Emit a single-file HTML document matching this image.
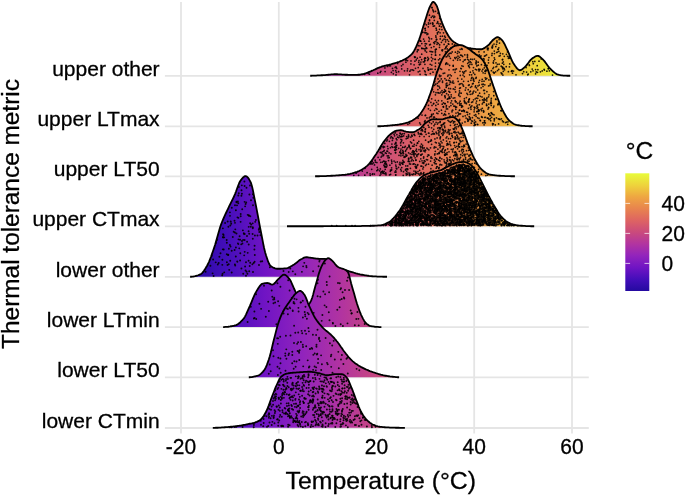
<!DOCTYPE html>
<html lang="en"><head><meta charset="utf-8"><title>Thermal tolerance ridgeline</title>
<style>html,body{margin:0;padding:0;background:#fff}svg{display:block}text{font-family:"Liberation Sans",Arial,Helvetica,sans-serif;fill:#000;stroke:#000;stroke-width:.3px}</style></head><body>
<svg width="685" height="495" viewBox="0 0 685 495">
<rect width="685" height="495" fill="#fff"/>
<defs>
<linearGradient id="g" gradientUnits="userSpaceOnUse" x1="188.3" y1="0" x2="571.5" y2="0"><stop offset="0%" stop-color="#240AA0"/><stop offset="10%" stop-color="#440EBA"/><stop offset="20%" stop-color="#7014C4"/><stop offset="30%" stop-color="#9224BC"/><stop offset="40%" stop-color="#B234A0"/><stop offset="50%" stop-color="#CA4A7C"/><stop offset="60%" stop-color="#DE6462"/><stop offset="70%" stop-color="#E8844E"/><stop offset="80%" stop-color="#EEA642"/><stop offset="90%" stop-color="#EED43C"/><stop offset="100%" stop-color="#E8FC3A"/></linearGradient>
<linearGradient id="cb" x1="0" y1="1" x2="0" y2="0"><stop offset="0%" stop-color="#240AA0"/><stop offset="10%" stop-color="#440EBA"/><stop offset="20%" stop-color="#7014C4"/><stop offset="30%" stop-color="#9224BC"/><stop offset="40%" stop-color="#B234A0"/><stop offset="50%" stop-color="#CA4A7C"/><stop offset="60%" stop-color="#DE6462"/><stop offset="70%" stop-color="#E8844E"/><stop offset="80%" stop-color="#EEA642"/><stop offset="90%" stop-color="#EED43C"/><stop offset="100%" stop-color="#E8FC3A"/></linearGradient>
</defs>
<path d="M181 2.0V433.4M278.8 2.0V433.4M376.5 2.0V433.4M474.2 2.0V433.4M572 2.0V433.4M164.9 75.8H588.8M164.9 126.3H588.8M164.9 176.3H588.8M164.9 226.3H588.8M164.9 276.9H588.8M164.9 327.2H588.8M164.9 377.4H588.8M164.9 428H588.8" stroke="#e5e5e5" stroke-width="1.8" fill="none"/>
<g transform="translate(0 .25)"><path d="M310.2 75.5L311.2 75.5L312.2 75.4L313.2 75.4L314.2 75.4L315.2 75.3L316.2 75.3L317.2 75.2L318.2 75.2L319.2 75.1L320.2 75.1L321.2 75L322.2 75L323.2 74.9L324.2 74.8L325.2 74.8L326.2 74.7L327.2 74.6L328.2 74.5L329.2 74.4L330.2 74.3L331.2 74.2L332.2 74.1L333.2 74.1L334.2 74L335.2 74L336.2 74L337.2 74L338.2 74.1L339.2 74.1L340.2 74.2L341.2 74.2L342.2 74.3L343.2 74.4L344.2 74.4L345.2 74.5L346.2 74.5L347.2 74.5L348.2 74.6L349.2 74.6L350.2 74.6L351.2 74.7L352.2 74.7L353.2 74.7L354.2 74.7L355.2 74.7L356.2 74.7L357.2 74.6L358.2 74.5L359.2 74.5L360.2 74.4L361.2 74.2L362.2 74L363.2 73.8L364.2 73.5L365.2 73.2L366.2 72.9L367.2 72.5L368.2 72.1L369.2 71.7L370.2 71.3L371.2 70.9L372.2 70.4L373.2 70L374.2 69.5L375.2 69.1L376.2 68.6L377.2 68.1L378.2 67.7L379.2 67.3L380.2 66.9L381.2 66.6L382.2 66.2L383.2 66L384.2 65.7L385.2 65.5L386.2 65.2L387.2 65L388.2 64.8L389.2 64.5L390.2 64.3L391.2 64L392.2 63.7L393.2 63.4L394.2 63.1L395.2 62.8L396.2 62.5L397.2 62.2L398.2 61.8L399.2 61.5L400.2 61.1L401.2 60.7L402.2 60.3L403.2 59.8L404.2 59.3L405.2 58.8L406.2 58.2L407.2 57.6L408.2 56.9L409.2 56.1L410.2 55.3L411.2 54.4L412.2 53.3L413.2 52.1L414.2 50.4L415.2 48.5L416.2 46.4L417.2 44L418.2 41.6L419.2 39.1L420.2 36.2L421.2 33.1L422.2 29.8L423.2 26.4L424.2 23.2L425.2 20.1L426.2 17L427.2 13.8L428.2 10.7L429.2 8L430.2 5.9L431.2 3.9L432.2 2.3L433.2 1.6L434.2 2.1L435.2 3.2L436.2 4.7L437.2 6.7L438.2 9.8L439.2 13.5L440.2 17.2L441.2 20.1L442.2 22.8L443.2 25.3L444.2 27.7L445.2 29.8L446.2 31.7L447.2 33.5L448.2 35.3L449.2 36.8L450.2 38.2L451.2 39.4L452.2 40.4L453.2 41.2L454.2 42L455.2 42.6L456.2 43.3L457.2 43.8L458.2 44.3L459.2 44.8L460.2 45.2L461.2 45.7L462.2 46.1L463.2 46.5L464.2 46.8L465.2 47.1L466.2 47.3L467.2 47.5L468.2 47.7L469.2 47.8L470.2 48L471.2 48.2L472.2 48.3L473.2 48.5L474.2 48.6L475.2 48.7L476.2 48.8L477.2 48.9L478.2 48.9L479.2 49L480.2 49L481.2 49L482.2 48.8L483.2 48.4L484.2 47.9L485.2 47.2L486.2 46.6L487.2 45.8L488.2 45.1L489.2 44.1L490.2 42.9L491.2 41.7L492.2 40.5L493.2 39.5L494.2 38.7L495.2 37.9L496.2 37.3L497.2 36.9L498.2 37L499.2 37.5L500.2 38.2L501.2 39.1L502.2 40.1L503.2 41.5L504.2 43.2L505.2 45.2L506.2 47.3L507.2 49.4L508.2 51.5L509.2 53.8L510.2 56.3L511.2 58.7L512.2 60.9L513.2 62.7L514.2 64.2L515.2 65.7L516.2 67.1L517.2 68.3L518.2 69.2L519.2 69.8L520.2 70L521.2 69.7L522.2 69.1L523.2 68.2L524.2 67.3L525.2 66.4L526.2 65.4L527.2 64.1L528.2 62.8L529.2 61.4L530.2 60.2L531.2 59.1L532.2 58.3L533.2 57.5L534.2 56.9L535.2 56.3L536.2 55.8L537.2 55.6L538.2 55.7L539.2 56.1L540.2 56.8L541.2 57.7L542.2 58.6L543.2 59.5L544.2 60.6L545.2 61.9L546.2 63.3L547.2 64.7L548.2 66.1L549.2 67.3L550.2 68.3L551.2 69.3L552.2 70.3L553.2 71.3L554.2 72.1L555.2 72.9L556.2 73.6L557.2 74.1L558.2 74.4L559.2 74.7L560.2 74.9L561.2 75.1L562.2 75.2L563.2 75.3L564.2 75.4L565.2 75.4L566.2 75.4L567.2 75.5L568.2 75.5L569.2 75.5L570.2 75.5L570.2 75.5L310.2 75.5Z" fill="url(#g)"/>
<path d="M462 52.1h0M425.2 28h0M368 73h0M442.3 50.5h0M428.5 58.4h0M451.1 48.7h0M460.1 70.2h0M422.7 32h0M395.9 66.5h0M513.5 70.8h0M445.1 62.9h0M425.2 57.8h0M435.3 59h0M421.9 48.3h0M445.3 37.2h0M482.9 70.8h0M445.1 60.5h0M457.2 61.5h0M432.7 51.5h0M435.8 41h0M457.6 59.7h0M421.8 43.3h0M436.4 29.9h0M427 34.2h0M503.3 71.1h0M498.8 51.2h0M453.5 70.8h0M516 74.6h0M502.4 59.6h0M435.4 51.2h0M395.2 67.2h0M450.7 49.5h0M387.5 66.2h0M419 60.3h0M438.5 59.6h0M434.3 20.2h0M434.5 43.3h0M507.5 51.7h0M369.4 73.9h0M420.1 40.4h0M380.2 72.2h0M445.6 41.6h0M425.2 74h0M434.5 25.7h0M434 15.8h0M439.8 58.4h0M447.8 73.1h0M454.6 70.1h0M438.5 31.6h0M438.9 62.8h0M428.3 59.1h0M478.5 62.5h0M433.7 42.3h0M401.7 68.7h0M497.4 64.1h0M442.4 35.9h0M431.6 38.5h0M462.6 64.7h0M406 59.7h0M494.8 59h0M509.3 56.1h0M447.2 48.7h0M390.5 65.6h0M430.2 68.9h0M395.7 70.4h0M471 51.8h0M527.7 74.6h0M467.4 49.8h0M453 68.3h0M535.6 73.5h0M435.3 49.4h0M462.4 65.9h0M500.4 53.2h0M488.3 48h0M453.8 47.3h0M414.9 60.9h0M496 62.6h0M479.3 66.4h0M425.3 50.6h0M427.8 57h0M435.5 11.1h0M467.4 59.4h0M419.3 64.3h0M435.6 54.9h0M426.5 24.5h0M441.9 49.9h0M454.6 44.7h0M487.4 48.5h0M419.8 70.8h0M429.5 20.4h0M460.7 47.4h0M504 68.3h0M415.1 56.9h0M496.9 40.7h0M405.9 61.9h0M424.8 57.7h0M485.1 65.5h0M425.1 50.4h0M479.8 56.4h0M499.1 55.8h0M464.6 71.9h0M484.1 73.9h0M435.4 66.2h0M498 49h0M449.9 73.1h0M497 41.8h0M420.8 40.9h0M420.9 61.8h0M512.1 70.4h0M544.1 69.1h0M453.5 63.4h0M425.2 43.4h0M488 49.5h0M396.2 66.9h0M478.9 62.6h0M548.3 68.3h0M428.3 69.4h0M418.3 45.4h0M418.7 62h0M443.5 32.5h0M429.4 14.9h0M445.6 55.2h0M437 44h0M424.8 59.9h0M542.2 70.7h0M537.9 69.4h0M444.7 35.9h0M432.5 22.5h0M428.3 26.6h0M487.5 49.3h0M479 56h0M482 62.5h0M486.6 54.6h0M456.8 50.9h0M421.7 53.9h0M536.2 71.7h0M430.2 64.1h0M465.4 62.4h0M437.9 12.8h0M433.6 11.6h0M450.9 65.1h0M481 60.1h0M442.2 59.2h0M446.7 65.2h0M452.3 43.7h0M396.7 68.2h0M450.2 61.4h0M427.9 67.5h0M426.3 47.3h0M476.7 60.9h0M441.4 42.1h0M470.9 69.8h0M451 47.6h0M436 48.9h0M445.5 51.5h0M436.6 29.8h0M439.8 54.5h0M434.8 41.5h0M450.7 70.7h0M455.3 65.3h0M431.7 60.5h0M552.5 74.8h0M436 36.9h0M504.6 69.5h0M502.9 74.8h0M409.5 74.6h0M444.1 44.2h0" stroke="#000" stroke-opacity="0.88" stroke-width="1.75" stroke-linecap="round" fill="none"/>
<path d="M506.2 66.4h0M431.6 54.3h0M495.8 46.3h0M431.3 17.1h0M439.5 47h0M548.4 68.4h0M544.4 69.8h0M459.4 47.9h0M446.1 46.7h0M462.2 74.8h0M428.5 69.9h0M473.4 56.6h0M364.6 74h0M429.5 38.5h0M498.8 47.5h0M413.6 70.1h0M501.7 72.8h0M404.5 70.6h0M421.6 59.3h0M540.4 71.6h0M464 62.6h0M439.5 25.5h0M414.9 57.2h0M470.2 68.4h0M468.6 64.6h0M529.4 65.2h0M421.8 47.8h0M451 68.3h0M464.7 70.3h0M437.4 32.3h0M502.6 66.8h0M432.8 24h0M435.8 35.6h0M537.2 65.4h0M447 64.3h0M456.5 61.7h0M446.7 66.7h0M420.5 63.8h0M484.8 73.5h0M440 64.4h0M462.6 70.3h0M480.5 56.1h0M435 59h0M532.2 68.8h0M430.3 73.3h0M541.2 58.7h0M503.3 61.7h0M439.4 25.9h0M512.5 72.9h0M447 45.6h0M493.2 71.8h0M461.6 61.6h0M437.2 42.3h0M426.6 51.8h0M415.5 68.1h0M456.9 71.5h0M535.6 69.3h0M463 61.2h0M438.9 23.6h0M481.5 64.6h0M494 72.5h0M509.7 63.7h0M385.1 71.3h0M425 28.4h0M456.2 48.1h0M384.9 67.7h0M448.4 57.8h0M460 74.7h0M396 74.7h0M499.5 42.8h0M432.5 15.8h0M492.7 46.6h0M493.4 62.9h0M503.8 64.1h0M463.9 57h0M469.8 67h0M492.9 68.3h0M499.1 39.3h0M389.2 65.5h0M452 47.6h0M428.5 22.6h0M416.3 59.7h0M468.4 64.9h0M435.5 62.8h0M430 51.1h0M411 69.5h0M431.4 51.4h0M419.7 64.2h0M411 60.7h0M431.9 7.1h0M424.8 60.6h0M435.2 69.1h0M481 55.7h0M470.2 68.6h0M447.3 39.5h0M429.6 44.7h0M506.4 54h0M492.6 45h0M549.4 70.6h0M488.9 57.3h0M424.9 23.6h0M478.9 51.5h0M437.7 22.2h0M448.2 43.5h0M479.3 54.6h0M511.5 70.9h0M487.1 65.1h0M477.9 74.8h0M418.2 71.5h0M417.3 57.9h0M440.1 32.6h0M509.4 66.6h0M407.3 70.5h0M431.9 68.9h0M441.1 61.9h0M504.3 56h0M436.5 39.5h0M392.5 68.2h0M423.2 48.3h0M424.9 32h0M447.7 72.3h0M461.8 54.1h0M492.2 47.8h0M420.1 56.9h0M529.2 64.5h0M426.5 43.5h0M509 56.9h0M457.5 56.1h0M441.9 29.3h0M497.5 70.3h0M499.1 63.9h0M431.8 64.8h0M423 68.2h0M433.3 10.5h0M446 59.6h0M453.6 59h0M493.2 62h0M533.3 63.4h0M474.3 52.7h0M470.4 63.5h0M488.4 59.8h0M380.9 71.1h0M437.7 21.4h0M480.5 70.5h0M451.3 74.1h0M440.4 36.1h0M409.9 70.9h0M425.2 71.5h0M440.7 23.7h0M451.1 57.1h0M461 65.5h0M464.5 53.9h0M436.6 71.9h0M441.4 26.5h0M433.8 17.3h0M498.7 69.2h0M478.4 73h0M501.2 65.9h0M469.1 74.5h0M438.3 43.1h0M431.3 47.3h0M434.8 16.6h0M455.2 63.8h0M435.4 52.6h0M444 38.9h0M501.1 72.5h0M425.6 57.9h0" stroke="#000" stroke-opacity="0.88" stroke-width="1.75" stroke-linecap="round" fill="none"/>
<path d="M488.9 74.2h0M502.8 53.5h0M491.9 46.8h0M430.4 44h0M445.7 60.7h0M491.4 70.4h0M426.8 48.1h0M397.6 63.2h0M442.3 61.4h0M445.6 39.5h0M377.8 72.9h0M426.2 74.6h0M496.5 44h0M503 67.7h0M464.1 61.1h0M448.4 60.6h0M433.9 46.3h0M436.3 49h0M494.4 53.3h0M455.9 50.7h0M471 56.7h0M428.6 23.8h0M537.5 72h0M431.4 57.2h0M420.1 74.2h0M508.4 58h0M425.4 30.1h0M424.3 61.5h0M452.1 57h0M429 40.9h0M442.6 40.2h0M485.2 73.1h0M391.4 72.1h0M467.9 61.4h0M502.4 62.9h0M474.5 73.9h0M487.2 74.6h0M523.7 71.4h0M494 43.8h0M493.7 60.6h0M492.1 53.2h0M427.9 33.7h0M424.6 48.7h0M454 60.7h0M533 70.5h0M446.6 65.6h0M483.8 58.3h0M502.8 68.5h0M407.5 60.3h0M532.8 61.4h0M471.1 59.9h0M539 60.9h0M425.8 48.3h0M508.4 71.4h0M458.1 67.6h0M467.8 69.5h0M441.4 62.4h0M424.4 40.9h0M488.5 62.5h0M418.2 67.3h0M502.8 68.2h0M398.6 71.4h0M428.8 37.2h0M454.7 71.7h0M422.8 32.1h0M432.8 58.5h0M494.2 72.7h0M424.4 58.5h0M494.3 57.6h0M401.5 65.6h0M417.2 51.4h0M432.8 9.5h0M420.4 40.9h0M424.6 70.5h0M459.2 68.2h0M461.9 49.5h0M433 71.9h0M503.9 68.2h0M466.7 74.7h0M528.2 73.8h0M440.6 67.1h0M436.2 28h0M496.6 66.2h0M448.6 41.1h0M433.3 25.9h0M486.3 65.4h0M410.9 63.7h0M419.9 45.6h0M507.6 56h0M498.1 49.1h0M439.6 44.7h0M477.5 64h0M489.6 74.4h0M435.5 54.8h0M485.5 55.3h0M448.8 43.9h0M418.4 49.7h0M464.7 64.6h0M526.6 71.8h0M436.5 38.9h0M487.6 47.8h0M439.6 44.3h0M393.1 70.3h0M436.7 39.1h0M436.1 27.9h0M437 23h0M546.9 70.9h0M495.9 66.6h0M414.5 56.6h0M423.3 61.6h0M484.8 62.6h0M425.2 45.5h0M442.7 49.5h0M432.1 7.6h0M403 64.2h0M509.8 57.9h0M426.6 32.6h0M445 48.6h0M500.1 55.4h0M469.6 55.9h0M430.5 23.2h0M449.2 64.1h0M501.9 73.7h0M417.4 49.5h0M427.6 60.2h0M445.8 47.3h0M396.4 72h0M407.6 68.5h0M502.6 59.2h0M487.4 70.3h0M472.8 60.1h0M423.6 38.8h0M511.6 71.2h0M526.1 67.3h0M414.1 64.6h0M493.6 67h0M475.5 73.3h0M440.2 38.7h0M497.3 51.8h0M425.2 32.7h0M405.8 59.7h0M534.8 61.2h0M479.7 74.4h0M412.5 69.5h0M522.5 73.3h0M462.3 53.6h0M455.7 48.8h0M502.3 67.2h0M484.5 55.9h0M494.3 50.8h0M495.6 71.6h0M437.4 33.7h0M484.1 51.7h0M484.1 59.6h0M496.7 52.2h0M491.9 55.2h0M393.3 73.5h0M453.3 50.3h0M471.6 49.5h0M424.9 64h0M439.5 29.1h0M439.7 18h0M530.8 71.5h0M429.5 19.5h0M472.9 58h0M432.9 23.1h0" stroke="#000" stroke-opacity="0.88" stroke-width="1.75" stroke-linecap="round" fill="none"/>
<path d="M310.2 75.5L311.2 75.5L312.2 75.4L313.2 75.4L314.2 75.4L315.2 75.3L316.2 75.3L317.2 75.2L318.2 75.2L319.2 75.1L320.2 75.1L321.2 75L322.2 75L323.2 74.9L324.2 74.8L325.2 74.8L326.2 74.7L327.2 74.6L328.2 74.5L329.2 74.4L330.2 74.3L331.2 74.2L332.2 74.1L333.2 74.1L334.2 74L335.2 74L336.2 74L337.2 74L338.2 74.1L339.2 74.1L340.2 74.2L341.2 74.2L342.2 74.3L343.2 74.4L344.2 74.4L345.2 74.5L346.2 74.5L347.2 74.5L348.2 74.6L349.2 74.6L350.2 74.6L351.2 74.7L352.2 74.7L353.2 74.7L354.2 74.7L355.2 74.7L356.2 74.7L357.2 74.6L358.2 74.5L359.2 74.5L360.2 74.4L361.2 74.2L362.2 74L363.2 73.8L364.2 73.5L365.2 73.2L366.2 72.9L367.2 72.5L368.2 72.1L369.2 71.7L370.2 71.3L371.2 70.9L372.2 70.4L373.2 70L374.2 69.5L375.2 69.1L376.2 68.6L377.2 68.1L378.2 67.7L379.2 67.3L380.2 66.9L381.2 66.6L382.2 66.2L383.2 66L384.2 65.7L385.2 65.5L386.2 65.2L387.2 65L388.2 64.8L389.2 64.5L390.2 64.3L391.2 64L392.2 63.7L393.2 63.4L394.2 63.1L395.2 62.8L396.2 62.5L397.2 62.2L398.2 61.8L399.2 61.5L400.2 61.1L401.2 60.7L402.2 60.3L403.2 59.8L404.2 59.3L405.2 58.8L406.2 58.2L407.2 57.6L408.2 56.9L409.2 56.1L410.2 55.3L411.2 54.4L412.2 53.3L413.2 52.1L414.2 50.4L415.2 48.5L416.2 46.4L417.2 44L418.2 41.6L419.2 39.1L420.2 36.2L421.2 33.1L422.2 29.8L423.2 26.4L424.2 23.2L425.2 20.1L426.2 17L427.2 13.8L428.2 10.7L429.2 8L430.2 5.9L431.2 3.9L432.2 2.3L433.2 1.6L434.2 2.1L435.2 3.2L436.2 4.7L437.2 6.7L438.2 9.8L439.2 13.5L440.2 17.2L441.2 20.1L442.2 22.8L443.2 25.3L444.2 27.7L445.2 29.8L446.2 31.7L447.2 33.5L448.2 35.3L449.2 36.8L450.2 38.2L451.2 39.4L452.2 40.4L453.2 41.2L454.2 42L455.2 42.6L456.2 43.3L457.2 43.8L458.2 44.3L459.2 44.8L460.2 45.2L461.2 45.7L462.2 46.1L463.2 46.5L464.2 46.8L465.2 47.1L466.2 47.3L467.2 47.5L468.2 47.7L469.2 47.8L470.2 48L471.2 48.2L472.2 48.3L473.2 48.5L474.2 48.6L475.2 48.7L476.2 48.8L477.2 48.9L478.2 48.9L479.2 49L480.2 49L481.2 49L482.2 48.8L483.2 48.4L484.2 47.9L485.2 47.2L486.2 46.6L487.2 45.8L488.2 45.1L489.2 44.1L490.2 42.9L491.2 41.7L492.2 40.5L493.2 39.5L494.2 38.7L495.2 37.9L496.2 37.3L497.2 36.9L498.2 37L499.2 37.5L500.2 38.2L501.2 39.1L502.2 40.1L503.2 41.5L504.2 43.2L505.2 45.2L506.2 47.3L507.2 49.4L508.2 51.5L509.2 53.8L510.2 56.3L511.2 58.7L512.2 60.9L513.2 62.7L514.2 64.2L515.2 65.7L516.2 67.1L517.2 68.3L518.2 69.2L519.2 69.8L520.2 70L521.2 69.7L522.2 69.1L523.2 68.2L524.2 67.3L525.2 66.4L526.2 65.4L527.2 64.1L528.2 62.8L529.2 61.4L530.2 60.2L531.2 59.1L532.2 58.3L533.2 57.5L534.2 56.9L535.2 56.3L536.2 55.8L537.2 55.6L538.2 55.7L539.2 56.1L540.2 56.8L541.2 57.7L542.2 58.6L543.2 59.5L544.2 60.6L545.2 61.9L546.2 63.3L547.2 64.7L548.2 66.1L549.2 67.3L550.2 68.3L551.2 69.3L552.2 70.3L553.2 71.3L554.2 72.1L555.2 72.9L556.2 73.6L557.2 74.1L558.2 74.4L559.2 74.7L560.2 74.9L561.2 75.1L562.2 75.2L563.2 75.3L564.2 75.4L565.2 75.4L566.2 75.4L567.2 75.5L568.2 75.5L569.2 75.5L570.2 75.5" stroke="#000" stroke-width="1.8" stroke-linejoin="round" stroke-linecap="butt" fill="none"/></g>
<g transform="translate(0 .25)"><path d="M377.4 126L378.4 126L379.4 126L380.4 126L381.4 125.9L382.4 125.9L383.4 125.8L384.4 125.7L385.4 125.7L386.4 125.6L387.4 125.5L388.4 125.4L389.4 125.3L390.4 125.2L391.4 125.1L392.4 125L393.4 124.9L394.4 124.8L395.4 124.7L396.4 124.6L397.4 124.5L398.4 124.3L399.4 124.2L400.4 124L401.4 123.8L402.4 123.6L403.4 123.4L404.4 123.1L405.4 122.9L406.4 122.6L407.4 122.3L408.4 122L409.4 121.6L410.4 121.2L411.4 120.7L412.4 120.2L413.4 119.6L414.4 118.9L415.4 118.3L416.4 117.5L417.4 116.7L418.4 115.8L419.4 114.7L420.4 113.5L421.4 112.1L422.4 110.6L423.4 109L424.4 107.3L425.4 105.5L426.4 103.4L427.4 101.1L428.4 98.6L429.4 95.9L430.4 93.2L431.4 90.4L432.4 87.2L433.4 83.9L434.4 80.4L435.4 77.1L436.4 73.9L437.4 71.1L438.4 68.4L439.4 65.7L440.4 63.2L441.4 60.8L442.4 58.7L443.4 57L444.4 55.4L445.4 53.9L446.4 52.6L447.4 51.4L448.4 50.3L449.4 49.4L450.4 48.5L451.4 47.7L452.4 46.9L453.4 46.3L454.4 45.8L455.4 45.4L456.4 45.3L457.4 45.1L458.4 45L459.4 44.9L460.4 44.9L461.4 45L462.4 45.2L463.4 45.6L464.4 46.1L465.4 46.6L466.4 47.2L467.4 47.7L468.4 48.4L469.4 49.1L470.4 49.9L471.4 50.7L472.4 51.5L473.4 52.3L474.4 53L475.4 53.8L476.4 54.4L477.4 55.1L478.4 55.8L479.4 56.5L480.4 57.3L481.4 58.3L482.4 59.4L483.4 60.8L484.4 62.4L485.4 64.3L486.4 66.3L487.4 68.4L488.4 71L489.4 74L490.4 77.1L491.4 80.1L492.4 83.1L493.4 86L494.4 88.9L495.4 91.8L496.4 94.6L497.4 97.3L498.4 99.9L499.4 102.5L500.4 105L501.4 107.4L502.4 109.5L503.4 111.4L504.4 113.3L505.4 115.1L506.4 116.7L507.4 118.1L508.4 119.3L509.4 120.3L510.4 121.2L511.4 122L512.4 122.8L513.4 123.5L514.4 124L515.4 124.3L516.4 124.6L517.4 124.8L518.4 125L519.4 125.2L520.4 125.4L521.4 125.5L522.4 125.6L523.4 125.7L524.4 125.7L525.4 125.8L526.4 125.8L527.4 125.9L528.4 125.9L529.4 126L530.4 126L531.4 126L532.4 126L532.6 126L532.6 126L377.4 126Z" fill="url(#g)"/>
<path d="M483.2 83.9h0M439 111.1h0M443.5 102.7h0M470.2 94.1h0M444.8 114.3h0M449 53.6h0M438 92.3h0M454.8 57.4h0M463 74.8h0M430.4 110h0M452.7 109.9h0M470.4 119.2h0M484.7 120.6h0M425.1 120.3h0M431.5 116.3h0M439.7 87.7h0M452 117.7h0M469.5 119h0M439.9 80.5h0M482.2 79h0M463.6 81.1h0M461.7 110.8h0M445.7 114.7h0M443.7 91.5h0M475.7 114.4h0M459.6 113.6h0M469.4 98.6h0M468.4 108h0M447.8 101.7h0M464.3 100.4h0M455.1 69.6h0M474.8 74.2h0M481.6 110.4h0M486.6 105h0M463.1 66.1h0M500.9 110.3h0M446.9 56.3h0M440.9 91.8h0M505.5 122.3h0M453.7 82.8h0M468.2 81h0M454.9 89.2h0M491.2 105.2h0M483 86.2h0M484.1 124.6h0M453.8 105.8h0M441.6 69h0M443.5 114.8h0M449.8 91.9h0M451.3 75.6h0M460.6 54.9h0M450.1 52.8h0M482 96.7h0M459.5 90.7h0M488.7 113.9h0M433.3 113.7h0M461.8 78.8h0M472.5 83.7h0M448.4 94.7h0M448.2 98.4h0M475.1 124.5h0M467.6 94.2h0M474.7 107.8h0M495.3 124.5h0M472.9 93h0M469.7 113.6h0M499.3 118.9h0M440.4 68.4h0M433.5 103.7h0M482.8 122.5h0M484.3 122.3h0M501.4 118.5h0M476.2 77.2h0M434.7 81.2h0M467.5 114.4h0M463 116.2h0M449.7 80.4h0M461.8 105.3h0M464.3 100.9h0M471.9 64.2h0M455.7 120.6h0M498.3 118.5h0M450.9 102.7h0M430.9 102.2h0M476.1 102.8h0M452.2 110.2h0M461.6 106.9h0M481 109h0M459.8 109.8h0M488.6 96.6h0M439.4 75.5h0M444.9 95.5h0M490 85.2h0M451.2 94.5h0M468.2 89.4h0M474.4 123.3h0M478 85.7h0M482 81h0M485.4 99.5h0M454.8 97.5h0M485.6 69.9h0M476.8 111.4h0M495.6 98.9h0M440.9 124.4h0M479 118.2h0M455.1 69h0M439.5 74.8h0M483.5 110.4h0M476.6 100.8h0M486.7 98.7h0M478.2 61.9h0M451.1 53h0M460 96.2h0M425 121.6h0M483.1 72.5h0M467.6 59.1h0M444.6 89.4h0M483.8 111.1h0M448.9 113.4h0M482.3 108h0M447.4 98.9h0M455.5 106.3h0M458.9 93.8h0M449.4 98h0M462.7 71.6h0M442.5 82h0M439.9 76.3h0M464.2 111.3h0M438.4 100.4h0M471.6 74.6h0M472 77.2h0M445.2 90.9h0M469.6 104.7h0M489.9 115.5h0M455.3 118.7h0M476.3 97.8h0M475.4 69.1h0M489 119.2h0M428.4 108.6h0M461.7 48.4h0M455.4 58.3h0M474.2 109.6h0M484.1 99.1h0M488.8 103.8h0M458.2 120.1h0M446.1 56.6h0M428.5 105h0M468.8 101.8h0M470.8 58.9h0M454.9 105.9h0M445.1 103.3h0M483.9 100.3h0M466.9 93.1h0M458.7 113.5h0M473.3 79.8h0M478.8 68.9h0M469.2 116.4h0M438.7 81.7h0M469.5 67.3h0M484.2 102h0M457.6 103.2h0M471.3 122.9h0M449.5 84.2h0M482.4 117.1h0M446.2 87.1h0M484.3 98.2h0M485.6 71.2h0M493.4 107.2h0M448.7 123.3h0M457.7 115.7h0M468.8 59.8h0M442.5 80.8h0M475.3 86.7h0M443.4 106.4h0M463.4 110.2h0M488.7 107.5h0M481.1 87.5h0M464.3 76.3h0M438.1 103.9h0M455 72.1h0M443.5 106.8h0M471.6 102h0M491.1 112.3h0M479 70.7h0M455.4 51.9h0M491.4 102.9h0M486.9 91.4h0M491.1 101.5h0M455.7 120.1h0M462.2 122.8h0M431.6 114.2h0M467.4 54.4h0M468.2 120.3h0M447.9 54.9h0M491.3 98h0M409.5 123.1h0M458.7 114.2h0M459.6 119.2h0M493.9 105.8h0M460.3 75.2h0" stroke="#000" stroke-opacity="0.88" stroke-width="1.75" stroke-linecap="round" fill="none"/>
<path d="M445.5 124.3h0M469.2 84.5h0M477.7 98.1h0M474.2 106.9h0M472.7 101.6h0M459.3 110.1h0M470.1 118h0M455.7 107.3h0M464.6 71.4h0M488 108.8h0M474 80.9h0M451.2 96.5h0M438.4 92.7h0M484 80.9h0M476.3 62.4h0M464.4 110.5h0M462.6 56.2h0M459.4 84.2h0M483.9 90.2h0M466.1 117.8h0M475.7 62.6h0M461.1 103.4h0M427 117.7h0M482.8 69h0M458.2 81.2h0M484.5 93.2h0M455.2 100.4h0M460.3 83.5h0M472.5 59.2h0M447.7 75.8h0M460.5 113.5h0M475.2 98.5h0M456.6 106.8h0M470 117.4h0M474.8 107h0M479.3 84.8h0M465.9 102.7h0M494.3 118.3h0M476.1 116h0M437.4 123.1h0M477.9 95.5h0M493.6 91.3h0M489 94.6h0M474.1 111.5h0M463.1 61.3h0M484.5 90h0M477.4 111h0M444.3 91.9h0M450.1 74.6h0M477.2 124.1h0M467.5 55.5h0M488.8 113.3h0M442.5 92.6h0M442.7 122.3h0M485.1 73h0M487.4 117.9h0M446.3 106.7h0M461.3 68.4h0M450.1 120.4h0M492.8 114.1h0M478.8 82.2h0M445.7 90.7h0M475.6 121.7h0M484.8 117.2h0M448.7 88.2h0M485.8 79h0M437.6 85.6h0M444.6 113.5h0M455.3 86.8h0M435.3 100.1h0M471.7 86.2h0M425.6 115.1h0M476.1 63.7h0M435.4 94.5h0M449.9 120.2h0M436 92.4h0M479.7 100.1h0M434.6 85h0M446.3 85.3h0M453.3 88.7h0M491.6 113.3h0M432.8 123.7h0M457.6 59.8h0M446 63.3h0M446.3 85.6h0M445.3 111.2h0M471 109.1h0M449.3 122h0M444.9 78.3h0M467.6 112.2h0M477.3 104.8h0M498.6 123.7h0M482.3 103.7h0M469.9 64h0M433.7 103h0M453.2 97.8h0M481.6 116.3h0M470.3 71.9h0M430.3 116.3h0M449.3 56.2h0M427.3 124.6h0M446.4 105.3h0M476.5 61.5h0M448.4 80.1h0M433.7 91.5h0M473.9 90.8h0M424.5 124.6h0M486.8 100.7h0M445.2 97.4h0M498.6 104h0M490.8 103.3h0M470.4 90.9h0M459.6 57h0M476.9 106.1h0M441.8 94.6h0M490.6 102.6h0M465.9 87.5h0M486.7 105.2h0M484.6 65.3h0M455.7 115.9h0M484.8 84.6h0M485.2 77.5h0M465.2 115.6h0M448.2 74.8h0M437.9 113.3h0M458 112.2h0M456 112.8h0M485.5 117h0M482 84.2h0M442.2 103.9h0M479.2 69.6h0M481.6 116.8h0M482.5 99.7h0M485 70.9h0M463.5 85.9h0M486.8 78.1h0M472.4 117.4h0M460.8 68h0M478.4 109.4h0M443.6 120.2h0M479.9 69.2h0M447.7 85.1h0M491.1 99.8h0M473.5 99.6h0M453.2 65.9h0M458 55.9h0M455.7 125.2h0M478.7 113.3h0M467.4 57.2h0M482 70.8h0M420.5 124h0M467.7 63.2h0M488.5 107h0M471.5 78.2h0M449.6 65h0M459.4 102.7h0M477 108h0M474.3 122.1h0M488.6 85.7h0M485.3 122.7h0M472.9 70.6h0M473.2 83.2h0M407.9 124h0M445.8 121h0M462.6 106.2h0M482.7 99.5h0M459.3 52.2h0M446.4 108.7h0M480.1 120.1h0M446.3 79.9h0M468.9 66.1h0M484.3 67.5h0M506.6 121.8h0M467.6 118.9h0M459.6 92.6h0M479.2 104.4h0M483.7 90.2h0M486.5 103.8h0M450.4 119.4h0M457.9 51.1h0M436.3 118.7h0M452 111.5h0M468.9 61.9h0M493.3 123.5h0M492.6 123.4h0M443.3 106.4h0M457.6 78.2h0M446.6 93.4h0M447.6 108.7h0M460.1 59.7h0M431.7 98.6h0M478.2 111.2h0M469.6 91.7h0M508 121.6h0M461.2 92.9h0M444.9 96.1h0M460.1 100.9h0M428.9 100.5h0M427.5 123.9h0M474.5 119.8h0" stroke="#000" stroke-opacity="0.88" stroke-width="1.75" stroke-linecap="round" fill="none"/>
<path d="M458 58h0M436 108.3h0M461.3 125.1h0M469.2 99h0M439 86h0M438 78.7h0M475.2 124.4h0M445 118.1h0M490.4 83.7h0M502.4 120.6h0M481.4 64.4h0M468.8 99.4h0M460.1 49.1h0M478.3 64.9h0M473.5 72.7h0M471.9 105.5h0M497.8 104.4h0M434 116.5h0M476.1 60.5h0M466.4 97.3h0M450 98h0M470.5 107.3h0M436.8 112.8h0M474.4 58.8h0M437.9 89.3h0M463.7 110h0M440.9 75.5h0M453 80.8h0M451.6 100.5h0M475.8 91.8h0M490.2 118.4h0M453.3 60h0M501.4 110.6h0M483.6 111.8h0M439.9 92.8h0M441.3 78.7h0M476.8 65.7h0M452.8 115.4h0M461.9 65.6h0M435.7 83.9h0M488.1 117.9h0M450.2 82.2h0M442 90.4h0M474.3 115h0M461.2 125.1h0M487 97.6h0M450.1 117h0M466.4 103.4h0M437 109h0M425.2 115.2h0M432 105.2h0M503.5 121.6h0M476.7 69.5h0M460 71.1h0M455.8 109h0M499.9 119.2h0M465 121.7h0M454.3 117h0M432.7 124.8h0M418.1 117.9h0M456.4 68.7h0M470.6 107.4h0M461.7 55.2h0M465.9 70.6h0M491.7 112.9h0M449.7 116.3h0M464.6 102.6h0M477.7 89.7h0M444.7 72.8h0M453.2 65.2h0M472 93.8h0M470.9 80.1h0M473.6 79.2h0M477.7 107.2h0M419.7 122.7h0M475.9 78h0M436.6 102.1h0M477.8 124.3h0M494.4 119.1h0M483.2 102.2h0M450.6 81.6h0M475.6 85.5h0M469.6 74.6h0M437.4 83h0M461.4 105.3h0M490.7 120.4h0M473.5 78h0M435.8 105.2h0M424.5 121.6h0M459.6 88h0M463 84.7h0M492.7 124.6h0M463.5 72.6h0M441.8 113.1h0M422 114.8h0M473.1 91.8h0M468.5 85h0M490.5 115h0M449.2 97.1h0M441.9 124.6h0M445.1 120.1h0M447.9 63.8h0M458.7 95.2h0M498.2 103h0M474.1 125.3h0M450.4 58h0M450.5 88.4h0M471.7 120.6h0M454.2 125.1h0M458 120.7h0M507.7 124.1h0M455.6 91.7h0M450.2 115.8h0M472.5 121h0M446.9 82.8h0M460 103.9h0M494 114.6h0M456.4 68.6h0M478.8 109.7h0M449.2 96.7h0M488.9 79.7h0M455.5 101.6h0M446.6 62.6h0M448.9 123.5h0M478.5 95.1h0M470.5 87h0M465.3 89.8h0M479.6 92.9h0M464.3 59.8h0M460.4 87.6h0M479.5 80.1h0M465.3 59.4h0M456.3 57h0M479.2 110.2h0M443.2 73.2h0M441.8 100.5h0M429.3 117.5h0M448.9 91.2h0M453.3 69.4h0M468 101.6h0M471 62.3h0M434.3 121.7h0M470.8 106.7h0M467.9 119.1h0M461.1 125.2h0M462.1 49h0M449.9 116.9h0M467.9 120.9h0M449 69.5h0M493.8 95.4h0M494.2 120.6h0M480.4 120.4h0M446.3 62.9h0M444.9 103.4h0M473.5 67.3h0M503.3 121.7h0M425.7 123.1h0M491.6 117.2h0M432.5 89.3h0M468.5 65.4h0M447.3 124h0M463.8 72.9h0M446.1 83.7h0M434.6 110.1h0M466.5 111.9h0M496.4 117.5h0M439.5 122.7h0M468.8 100.5h0M445.3 123.1h0M484.4 120.6h0M450.9 105.3h0M477.6 117.5h0M464.9 101.7h0M449.7 77.8h0M464.8 54.6h0M457.4 53.2h0M479.3 110.6h0M461.9 83.3h0M470.1 61.3h0M456.2 101.7h0M431.7 114.9h0M459.8 104.9h0M480.3 96.1h0M434.5 117.2h0M459.6 120h0M433.6 117.5h0M462.1 110.8h0M495.9 99.2h0M446.9 85.4h0M486.4 70.2h0M441.4 109.9h0M460.2 124.9h0M425.5 124.7h0M452.3 82.4h0M445.7 64h0M452.8 103.8h0M464.4 98.4h0M449.3 106.5h0M476.5 87.7h0M452.2 51.7h0" stroke="#000" stroke-opacity="0.88" stroke-width="1.75" stroke-linecap="round" fill="none"/>
<path d="M377.4 126L378.4 126L379.4 126L380.4 126L381.4 125.9L382.4 125.9L383.4 125.8L384.4 125.7L385.4 125.7L386.4 125.6L387.4 125.5L388.4 125.4L389.4 125.3L390.4 125.2L391.4 125.1L392.4 125L393.4 124.9L394.4 124.8L395.4 124.7L396.4 124.6L397.4 124.5L398.4 124.3L399.4 124.2L400.4 124L401.4 123.8L402.4 123.6L403.4 123.4L404.4 123.1L405.4 122.9L406.4 122.6L407.4 122.3L408.4 122L409.4 121.6L410.4 121.2L411.4 120.7L412.4 120.2L413.4 119.6L414.4 118.9L415.4 118.3L416.4 117.5L417.4 116.7L418.4 115.8L419.4 114.7L420.4 113.5L421.4 112.1L422.4 110.6L423.4 109L424.4 107.3L425.4 105.5L426.4 103.4L427.4 101.1L428.4 98.6L429.4 95.9L430.4 93.2L431.4 90.4L432.4 87.2L433.4 83.9L434.4 80.4L435.4 77.1L436.4 73.9L437.4 71.1L438.4 68.4L439.4 65.7L440.4 63.2L441.4 60.8L442.4 58.7L443.4 57L444.4 55.4L445.4 53.9L446.4 52.6L447.4 51.4L448.4 50.3L449.4 49.4L450.4 48.5L451.4 47.7L452.4 46.9L453.4 46.3L454.4 45.8L455.4 45.4L456.4 45.3L457.4 45.1L458.4 45L459.4 44.9L460.4 44.9L461.4 45L462.4 45.2L463.4 45.6L464.4 46.1L465.4 46.6L466.4 47.2L467.4 47.7L468.4 48.4L469.4 49.1L470.4 49.9L471.4 50.7L472.4 51.5L473.4 52.3L474.4 53L475.4 53.8L476.4 54.4L477.4 55.1L478.4 55.8L479.4 56.5L480.4 57.3L481.4 58.3L482.4 59.4L483.4 60.8L484.4 62.4L485.4 64.3L486.4 66.3L487.4 68.4L488.4 71L489.4 74L490.4 77.1L491.4 80.1L492.4 83.1L493.4 86L494.4 88.9L495.4 91.8L496.4 94.6L497.4 97.3L498.4 99.9L499.4 102.5L500.4 105L501.4 107.4L502.4 109.5L503.4 111.4L504.4 113.3L505.4 115.1L506.4 116.7L507.4 118.1L508.4 119.3L509.4 120.3L510.4 121.2L511.4 122L512.4 122.8L513.4 123.5L514.4 124L515.4 124.3L516.4 124.6L517.4 124.8L518.4 125L519.4 125.2L520.4 125.4L521.4 125.5L522.4 125.6L523.4 125.7L524.4 125.7L525.4 125.8L526.4 125.8L527.4 125.9L528.4 125.9L529.4 126L530.4 126L531.4 126L532.4 126L532.6 126" stroke="#000" stroke-width="1.8" stroke-linejoin="round" stroke-linecap="butt" fill="none"/></g>
<g transform="translate(0 .25)"><path d="M315.1 176L316.1 176L317.1 176L318.1 176L319.1 176L320.1 175.9L321.1 175.9L322.1 175.9L323.1 175.9L324.1 175.8L325.1 175.8L326.1 175.8L327.1 175.7L328.1 175.7L329.1 175.6L330.1 175.6L331.1 175.5L332.1 175.5L333.1 175.4L334.1 175.3L335.1 175.3L336.1 175.2L337.1 175.1L338.1 175.1L339.1 175L340.1 174.9L341.1 174.8L342.1 174.7L343.1 174.7L344.1 174.6L345.1 174.5L346.1 174.3L347.1 174.2L348.1 174L349.1 173.8L350.1 173.6L351.1 173.3L352.1 173.1L353.1 172.8L354.1 172.5L355.1 172.2L356.1 171.9L357.1 171.6L358.1 171.2L359.1 170.8L360.1 170.3L361.1 169.8L362.1 169.2L363.1 168.6L364.1 167.9L365.1 167.2L366.1 166.4L367.1 165.6L368.1 164.7L369.1 163.6L370.1 162.4L371.1 161.1L372.1 159.7L373.1 158.3L374.1 156.8L375.1 155.3L376.1 153.9L377.1 152.3L378.1 150.7L379.1 149L380.1 147.2L381.1 145.6L382.1 143.9L383.1 142.4L384.1 141.1L385.1 139.8L386.1 138.5L387.1 137.3L388.1 136.2L389.1 135.2L390.1 134.3L391.1 133.5L392.1 132.7L393.1 132L394.1 131.4L395.1 130.9L396.1 130.5L397.1 130.3L398.1 130.2L399.1 130.1L400.1 130L401.1 130L402.1 130.1L403.1 130.4L404.1 130.8L405.1 131.1L406.1 131.4L407.1 131.6L408.1 131.7L409.1 131.8L410.1 131.9L411.1 132L412.1 132L413.1 132L414.1 131.7L415.1 131.2L416.1 130.7L417.1 130.1L418.1 129.5L419.1 129L420.1 128.3L421.1 127.5L422.1 126.5L423.1 125.4L424.1 124.2L425.1 123.2L426.1 122.4L427.1 121.7L428.1 121L429.1 120.4L430.1 119.8L431.1 119.4L432.1 119.2L433.1 119.2L434.1 119.2L435.1 119.2L436.1 119.2L437.1 119.2L438.1 119.2L439.1 119.2L440.1 119.2L441.1 119.2L442.1 119.1L443.1 118.9L444.1 118.6L445.1 118.3L446.1 117.9L447.1 117.7L448.1 117.4L449.1 117.3L450.1 117.1L451.1 116.9L452.1 116.8L453.1 116.8L454.1 117.1L455.1 117.7L456.1 118.5L457.1 119.5L458.1 120.5L459.1 122L460.1 123.9L461.1 126.1L462.1 128.4L463.1 130.8L464.1 133.3L465.1 136L466.1 138.9L467.1 141.6L468.1 144.2L469.1 146.6L470.1 149.1L471.1 151.4L472.1 153.7L473.1 155.9L474.1 157.9L475.1 159.7L476.1 161.5L477.1 163.2L478.1 164.8L479.1 166.3L480.1 167.6L481.1 168.7L482.1 169.6L483.1 170.5L484.1 171.3L485.1 172L486.1 172.7L487.1 173.2L488.1 173.7L489.1 174.1L490.1 174.3L491.1 174.5L492.1 174.6L493.1 174.8L494.1 174.9L495.1 175.1L496.1 175.2L497.1 175.3L498.1 175.4L499.1 175.5L500.1 175.5L501.1 175.6L502.1 175.6L503.1 175.7L504.1 175.7L505.1 175.8L506.1 175.8L507.1 175.8L508.1 175.9L509.1 175.9L510.1 175.9L511.1 176L512.1 176L513.1 176L514.1 176L514.9 176L514.9 176L315.1 176Z" fill="url(#g)"/>
<path d="M395.7 174.5h0M414.4 153.6h0M410.5 141.5h0M458.8 169.6h0M420 133.5h0M455.3 147.1h0M412.1 135.9h0M425.6 149.9h0M420.2 146h0M371.8 161.6h0M418.2 132h0M443.7 123.8h0M444.4 151.9h0M455.4 166.1h0M383.1 172.2h0M470 167.3h0M456.4 142.1h0M458.9 143.4h0M420.9 154.9h0M421.1 133.1h0M448.1 131.1h0M461.9 149.1h0M372.8 173.6h0M413.5 154.3h0M447.6 143.2h0M461.1 141.2h0M428.5 132.9h0M428.9 154.9h0M411.6 142.7h0M416.9 156.2h0M459.6 146.7h0M471.8 166.7h0M386.7 140.7h0M448 120.1h0M389.4 141h0M401.7 167.3h0M423.8 172.3h0M455.8 170.1h0M406.6 148.9h0M434.9 123.9h0M410.3 148.4h0M444.4 161.4h0M373.5 162.7h0M400 132.8h0M415.9 159.7h0M425.5 128.6h0M420.6 151h0M443.3 139.7h0M447.6 159.2h0M385.3 152.7h0M430.9 157.7h0M382.4 161.8h0M397.6 136.9h0M416.4 145h0M421.8 165.9h0M449.8 133h0M474.2 169.6h0M423.7 163.2h0M423.6 157.8h0M387.6 151.1h0M413.7 151.4h0M454.2 142.2h0M420.5 146.1h0M467.1 153.8h0M405.4 169.8h0M431.5 123.3h0M383.2 146.2h0M405.3 146.1h0M441.3 124.8h0M412.1 151.9h0M385.9 173.6h0M474.8 162.9h0M399.9 162.1h0M390.5 169.8h0M403.5 153.3h0M398.8 137.3h0M433.8 133.7h0M463.6 146.6h0M447 154.3h0M386 164h0M448.3 164.2h0M395.9 142.2h0M463.8 145.1h0M461.2 172.3h0M436.2 167.9h0M422 160.6h0M464 144.8h0M459.9 171.3h0M441 141.2h0M413.2 150.5h0M441.7 133.3h0M415.2 166.3h0M469.1 154.9h0M406.2 138.4h0M460.2 141.7h0M443.3 129.5h0M422.9 148.6h0M452.7 137h0M468.4 174h0M472.1 163.4h0M439 127.4h0M454.5 152.2h0M425.3 131.7h0M384.5 166.4h0M416.2 172.3h0M396.1 166.4h0M401.4 134.3h0M470.3 158h0M428.3 175.1h0M462.6 155.3h0M440 122.2h0M444.8 127.3h0M446.9 157.6h0M428.9 149.6h0M461.9 146.3h0M464.1 145.1h0M405.8 165.7h0M444.7 167.6h0M353.8 175.1h0M417 173h0M399.7 151.9h0M418.7 173.7h0M414.2 151.3h0M460.7 154.4h0M400.9 155.6h0M444.6 125.9h0M447 160h0M411.6 157.1h0M415.5 153.7h0M414.3 144h0M441.8 150.8h0M415.1 157.6h0M391.6 167.5h0M485.9 175.3h0M421.1 130.3h0M449.2 130.6h0M451.1 162.2h0M468.7 150.1h0M434.9 153.6h0M395.6 152.6h0M455.7 170.5h0M413.9 154.6h0M466.1 143.8h0M394.1 160.8h0M448.9 132.6h0M436.1 131.9h0M422.1 129.6h0M403.7 135.5h0M427.5 156h0M449.4 168.3h0M440 129.6h0M481.4 173.9h0M470.5 165.9h0M446.4 162.2h0M450.7 166.2h0M430.3 171.9h0M431.5 134h0M377.8 169.2h0M423.8 127.2h0M390.5 147.4h0M433.7 129.1h0M411 157.8h0M433.7 133.1h0M427.6 148.6h0M435.4 157.6h0M449 151.5h0M420.8 158.5h0M455.1 124.2h0M459.6 139.8h0M461.1 175.1h0M392.4 140.2h0M440.1 138h0M453 168.5h0M459.3 151h0M440.1 138.6h0M478.2 171.4h0M428.5 163.9h0M383.6 160.8h0M407.7 165.7h0M400.7 169.2h0M468 167.1h0M428.3 141.6h0M438.1 122.5h0M440.9 145.9h0M436.9 133.4h0M432 158h0M462 160.8h0M384.8 143.2h0M430.5 147.5h0M462.5 149.1h0M389.9 164.9h0M407.5 168.6h0M420.4 133.9h0M440.5 136.6h0M409.1 146.7h0M380.3 152.2h0M413.7 173.5h0M422.6 147.2h0M436.9 159h0M451.2 121.3h0M458.6 144.1h0M408.6 159.3h0M412.8 150.6h0M442.6 129.7h0M396.3 145.2h0M437.9 170.9h0M426.9 147.8h0M439.9 128h0M449 163.2h0M447.6 160.8h0M377.8 169.7h0M453.8 155.4h0M414 170.8h0M440.2 150.8h0M380 175h0M382.6 171.2h0M460.4 140.5h0M414.1 163.5h0M385.9 161.3h0M416.4 167.3h0M387.5 146.1h0M384.5 146.7h0M404.4 156.4h0M455.1 154.2h0M449.9 160.2h0M400.8 145h0M407.7 137.9h0M443.2 173.2h0M396.3 168.3h0M379.8 159.5h0M456.4 153.9h0M444.7 122.6h0M439.9 173.7h0M391.8 161.4h0M395.6 142.8h0M472.5 159.5h0M455.6 155.6h0M377.2 167.1h0M430.2 140.9h0M437 166.3h0M471 159.3h0M452.1 135.1h0M399 155h0M474.4 159.6h0M411.9 174h0M411.4 160.5h0M467.5 160.2h0M436.8 133.1h0M386 174.6h0M460.8 133.4h0M380.7 162h0M436.7 175.2h0M438.7 167.8h0M387.4 139.5h0M439.1 152.4h0M388 157.6h0M436.1 122.1h0M440.2 174.2h0M452.6 168.4h0M430.9 168.4h0M383.6 151h0M447.1 152.4h0M442.2 149.7h0M396.2 138.4h0M408.6 135.8h0M428.9 132.9h0M466.5 150.4h0M444 132.7h0M458 169h0M403.3 151.6h0M423.7 173.6h0M470.5 154.6h0M439.9 157.9h0M459.6 165h0" stroke="#000" stroke-opacity="0.88" stroke-width="1.75" stroke-linecap="round" fill="none"/>
<path d="M406.4 174.7h0M458.1 138.7h0M443.8 146.5h0M408.8 158.2h0M443.1 133.9h0M445.4 149.5h0M413.1 163.9h0M437.4 123.8h0M464.9 171.9h0M388 148.4h0M454.6 145.3h0M415.9 150.3h0M417.5 142.6h0M463.5 159.1h0M454.3 168.6h0M449.2 165.3h0M432.5 131.1h0M435.3 161.2h0M419 149.4h0M446.6 140.8h0M454.8 166.4h0M451 160.8h0M370.2 175h0M459.5 143.5h0M404.3 133.4h0M457.6 159.3h0M431.6 127.5h0M467.5 164.8h0M443.5 123.2h0M455.7 138.7h0M385.2 169h0M402.8 163.8h0M437.1 137.7h0M454.6 169.4h0M454.7 121.4h0M400.7 150.7h0M455 127.4h0M450 169.5h0M416.5 166.1h0M450.9 163.6h0M390.3 171.1h0M407.4 174h0M404 161.9h0M380.3 168.7h0M386 166.9h0M456.2 170.9h0M390.6 174h0M420.9 149.7h0M441.4 125.2h0M408.6 136.7h0M438.3 130.1h0M426.1 134.1h0M418.8 141.1h0M446.1 162.9h0M392.8 147.1h0M422.5 162.7h0M458.7 132.6h0M434.4 159.7h0M408.3 161.2h0M476.4 163.7h0M384.7 163.3h0M384.3 173.3h0M437 166.5h0M400.4 152.5h0M441.8 158.6h0M431.1 171.2h0M382.4 171h0M415.9 160h0M472.8 166.4h0M415.2 174h0M380.5 148.4h0M392.9 138.2h0M376.9 162.3h0M391.9 143.8h0M399.4 163.8h0M455 132.6h0M410.9 136.8h0M459.9 162.2h0M392.5 137.3h0M440.5 127.6h0M450.8 163.3h0M358.6 175.1h0M424.2 160.3h0M457.1 172.7h0M402.5 133.6h0M446.4 165.2h0M395.7 170.6h0M394.9 143.8h0M437.9 148.9h0M401.3 170.7h0M446.1 137.7h0M414.2 134.2h0M401.4 141.2h0M470.2 158.2h0M450.1 170.9h0M417.7 154.4h0M463.2 135.1h0M435.3 151.1h0M401 148.8h0M455.4 151.6h0M462.8 171.5h0M449.9 166.9h0M439.8 164.7h0M388.5 155.7h0M461.1 137.1h0M455.1 163.9h0M451.3 149h0M406.2 173.2h0M464.2 173.4h0M409.6 175.2h0M432.8 133.5h0M406.5 155.8h0M436.3 158.7h0M462.4 163.1h0M395.4 162h0M395.8 143h0M382.5 153.7h0M405.9 154.1h0M405.8 150.3h0M410.6 156.9h0M405.5 151h0M446.9 136.5h0M394.7 146.9h0M425.3 129.4h0M458.6 166.2h0M452.4 120.4h0M383.9 164.9h0M441.7 164.7h0M442.5 152.2h0M395.7 174.8h0M459.9 166.4h0M395.6 146h0M381.7 146.4h0M450.7 145.2h0M431.2 139.5h0M381.3 152.5h0M433.1 170.4h0M471.3 167.7h0M410.6 163.8h0M440.3 137h0M461.7 172.1h0M398.7 148.1h0M449.3 134h0M455.1 136.7h0M409 144.9h0M461.7 171.1h0M381.1 156.8h0M453.7 160.5h0M421 172.4h0M428.6 142.1h0M477.8 172.3h0M386.6 164.1h0M469.9 149.8h0M437.7 127.8h0M439.9 157.1h0M444.7 155.1h0M447.1 167.1h0M375.6 161.9h0M454.9 168.9h0M418.4 133.5h0M461.4 150.6h0M442 142.5h0M387.2 155.6h0M440.1 147.3h0M447.4 143.5h0M439 135h0M386.4 166.7h0M470.7 158.2h0M457.6 148.5h0M453.8 131.9h0M420.8 147.6h0M434.5 146.6h0M388.5 160.3h0M449.3 174.4h0M390.9 153.5h0M385 166.6h0M471.8 174.1h0M440.2 164.1h0M445.1 168.7h0M413.3 163.7h0M402.7 147.1h0M444.5 169.1h0M456.1 132.3h0M396.9 168.5h0M391.1 170.1h0M429 126.9h0M430.6 160.8h0M443 146h0M440.1 170.9h0M395.2 149.9h0M367.1 172.4h0M449.8 159.3h0M452.1 135.9h0M441.2 151.4h0M478.6 169h0M454.2 131.6h0M429.6 122.2h0M416.4 148.9h0M425 131.4h0M420.9 165.8h0M421.6 173.7h0M404.1 157h0M395.6 146.5h0M394.1 133.9h0M409.5 163.7h0M458.4 145.7h0M451.8 133.1h0M452.4 173.3h0M430 173.3h0M383 172.9h0M422.7 130.7h0M380.9 173.7h0M378.1 157.1h0M385.7 172.6h0M403.4 142.5h0M462.4 152.7h0M398.5 167.2h0M408.5 134.7h0M362.3 170.8h0M450.4 125h0M428.2 125.1h0M372.3 163.7h0M415.5 164.3h0M445.6 153.6h0M444.1 159.5h0M400.6 142.7h0M458.9 146.7h0M459 137.9h0M411.9 154.1h0M402.2 162h0M453.6 174.6h0M418 171.3h0M384.5 161.2h0M374.4 173.8h0M435.9 147h0M371.3 163.4h0M410 174.7h0M380.9 172.2h0M459.4 159.5h0M399.4 135.4h0M466.1 169h0M446.3 153.9h0M448.5 129.4h0M416.7 151.2h0M383.2 155.4h0M454.5 125h0M427.6 159.5h0M449.5 164.2h0M416.4 167.7h0M445.4 131.3h0M463.5 151.2h0M454.6 165.3h0M442.7 124.4h0M446.7 163.5h0M395.5 148h0M401.6 136.3h0M413.3 160.4h0M391.5 159.8h0M453.2 128.5h0M445.2 169h0M421.5 150.7h0M400.4 133.4h0M409.3 146.5h0M421.8 134.2h0M458.1 131.9h0M468.3 147.5h0M454.3 128.5h0M451.1 171h0M414.1 155.8h0M461.7 132.8h0M421.4 143.8h0M442.7 173.7h0M430.2 175.1h0" stroke="#000" stroke-opacity="0.88" stroke-width="1.75" stroke-linecap="round" fill="none"/>
<path d="M450.1 129.5h0M402.7 147.1h0M457.1 157.7h0M432.1 164.9h0M401.1 163h0M396.5 149.3h0M463.3 149.4h0M463.6 166.3h0M408.6 152.6h0M443.3 173.7h0M431.6 144.1h0M436.3 163.5h0M428.1 154.6h0M415.7 171h0M425 149.9h0M417.6 143.1h0M445.9 166.5h0M465.6 157.4h0M440.1 144.5h0M431.1 156.5h0M434.6 133.5h0M457 134.8h0M439.9 160.7h0M419.7 161.2h0M440.2 121.4h0M416.7 154.8h0M414.8 135.2h0M458.8 158h0M465.1 154.1h0M452.6 151.6h0M462.2 170.9h0M439.1 167.2h0M444.6 154.1h0M408.5 160.8h0M375.1 160.3h0M450.6 171.4h0M442.1 175.3h0M457.3 137.3h0M439.2 153.2h0M453.3 171.6h0M448.2 144.3h0M381.9 155.8h0M406.5 168.7h0M395.8 164.8h0M400.2 164.7h0M459.8 133.6h0M405.7 169h0M434.2 162.3h0M457.6 136.1h0M376.8 170.4h0M405.2 156.7h0M395.4 132.5h0M465.5 159h0M417.8 164.3h0M396.9 134.4h0M407.4 147.6h0M406.9 155h0M394.9 171.8h0M452.7 149.6h0M401.9 139.8h0M461.2 167.4h0M432.2 172.5h0M413.6 139.9h0M453.4 122.7h0M423.7 150.6h0M438.9 142.8h0M469 155.9h0M402.8 152.2h0M421.1 154.4h0M375.2 159.9h0M411.8 134.9h0M435.4 142.1h0M455.5 137.9h0M454.8 158.5h0M464.5 164.3h0M409.8 172.8h0M413.9 145.9h0M396.8 145.2h0M409.1 145.9h0M447.1 132.4h0M419.8 174.8h0M423.8 162h0M438.7 159.9h0M447.4 143.6h0M449.9 173.9h0M401.5 136.2h0M452 172.3h0M456.8 134.9h0M405.6 155.8h0M424.1 136.3h0M445 162.5h0M450.4 122.1h0M422.2 153.8h0M371.7 169.1h0M412.1 159h0M439.8 145.3h0M425.6 165.2h0M417.6 165.1h0M461.3 166.8h0M437.8 153.5h0M424.2 147.7h0M456.9 154h0M386.9 150.8h0M446.8 144.8h0M385.4 162.4h0M422 129.2h0M402.7 163.7h0M456.3 128.6h0M409.6 161.4h0M425.1 161h0M442.9 172.2h0M365 168h0M434.9 138.7h0M410.2 153.5h0M445.5 130h0M450.7 138.3h0M423.4 166.9h0M465.9 169.3h0M414.3 134.4h0M372.3 174h0M442.7 148.8h0M424.3 150.3h0M402.5 136.1h0M410.4 168.1h0M445.3 154.9h0M402.9 155h0M441.8 126.6h0M400.9 139h0M463.3 137.1h0M391.2 136.4h0M370.6 163.7h0M464.5 145.9h0M449.9 143.8h0M389.5 174.7h0M460.6 157.1h0M425.6 139.9h0M442.5 128.9h0M456.2 154.3h0M394.6 135.5h0M449.7 141.5h0M407.7 169.2h0M433.2 121.5h0M423.7 156.7h0M459.9 158.1h0M419.6 170h0M403.6 161.7h0M356.1 172.9h0M443 132.1h0M406.7 170.9h0M383.8 154.5h0M384.2 150.2h0M410.7 148h0M397.3 161.7h0M419.6 136.1h0M401.7 153.2h0M438.8 133.7h0M391.8 163h0M438.7 168.3h0M469.1 160.9h0M422 146.6h0M435.1 163.4h0M413.4 153.2h0M434.7 154.7h0M434.1 174.9h0M391.9 146.3h0M443.2 148h0M462.8 140.6h0M426.4 164.1h0M434 125.4h0M389.2 157.4h0M432.4 175h0M458.2 162.8h0M413.9 151.9h0M370.1 173.6h0M429.2 136h0M455 131h0M457.4 155.7h0M457.2 124.1h0M404.6 147.1h0M408.5 158.1h0M422.9 168.7h0M468.9 159.1h0M390.6 137.7h0M456.8 155.4h0M454.9 138.5h0M385.9 163.1h0M456.8 146.2h0M417.4 143h0M453.9 142.5h0M456.9 159.3h0M409.4 174.1h0M434.1 147.7h0M464.8 155.5h0M456.3 172.8h0M396.4 147.1h0M396.9 139.5h0M389.1 152.7h0M387 165.6h0M394.7 149.8h0M374.5 164.7h0M386.3 153.1h0M379.6 170.6h0M400.3 136.5h0M372.1 161h0M395.5 152.2h0M454.8 158.4h0M451.8 172h0M418.6 153.7h0M447.7 148.7h0M453.8 129.1h0M436.3 142.5h0M442.4 129h0M413.3 153.3h0M455.9 152.3h0M412.6 145.9h0M468.4 170.2h0M454.9 165.8h0M443.9 130.7h0M463.6 160.3h0M423.2 173.6h0M396 171.8h0M420.3 173.5h0M468.1 163.9h0M403.2 175h0M431.4 140.4h0M422.6 145.1h0M426.4 159.3h0M439.2 145h0M462.4 133.4h0M438.7 131.8h0M446.4 171h0M382.3 151.6h0M452.4 159.5h0M487.5 174.8h0M381.6 171.5h0M444.9 150.3h0M364.8 174.9h0M449 121.1h0M440.1 143.8h0M400.8 153.6h0M425.1 151.6h0M408 172.7h0M467.9 161.3h0M383.3 147.3h0M474.4 167.2h0M403.5 171.4h0M453.7 121.4h0M384.1 171.2h0M458.2 126.4h0M437.3 153.7h0M439.9 131.6h0M402.8 150.2h0M449.6 172.9h0M460.5 166h0M462.3 131.6h0M456.1 126.7h0M453.2 148.6h0M402.9 160.1h0M385 165.9h0M412.8 174.4h0M464.1 154.2h0M455.5 154.5h0M406.7 136.3h0M415.9 167.6h0M450 156.9h0M442.8 135h0M439.9 127.9h0M449.4 163.7h0M415.6 172.6h0M459.3 125.3h0M391.7 169.6h0M468.2 172.3h0M448.5 138.4h0" stroke="#000" stroke-opacity="0.88" stroke-width="1.75" stroke-linecap="round" fill="none"/>
<path d="M315.1 176L316.1 176L317.1 176L318.1 176L319.1 176L320.1 175.9L321.1 175.9L322.1 175.9L323.1 175.9L324.1 175.8L325.1 175.8L326.1 175.8L327.1 175.7L328.1 175.7L329.1 175.6L330.1 175.6L331.1 175.5L332.1 175.5L333.1 175.4L334.1 175.3L335.1 175.3L336.1 175.2L337.1 175.1L338.1 175.1L339.1 175L340.1 174.9L341.1 174.8L342.1 174.7L343.1 174.7L344.1 174.6L345.1 174.5L346.1 174.3L347.1 174.2L348.1 174L349.1 173.8L350.1 173.6L351.1 173.3L352.1 173.1L353.1 172.8L354.1 172.5L355.1 172.2L356.1 171.9L357.1 171.6L358.1 171.2L359.1 170.8L360.1 170.3L361.1 169.8L362.1 169.2L363.1 168.6L364.1 167.9L365.1 167.2L366.1 166.4L367.1 165.6L368.1 164.7L369.1 163.6L370.1 162.4L371.1 161.1L372.1 159.7L373.1 158.3L374.1 156.8L375.1 155.3L376.1 153.9L377.1 152.3L378.1 150.7L379.1 149L380.1 147.2L381.1 145.6L382.1 143.9L383.1 142.4L384.1 141.1L385.1 139.8L386.1 138.5L387.1 137.3L388.1 136.2L389.1 135.2L390.1 134.3L391.1 133.5L392.1 132.7L393.1 132L394.1 131.4L395.1 130.9L396.1 130.5L397.1 130.3L398.1 130.2L399.1 130.1L400.1 130L401.1 130L402.1 130.1L403.1 130.4L404.1 130.8L405.1 131.1L406.1 131.4L407.1 131.6L408.1 131.7L409.1 131.8L410.1 131.9L411.1 132L412.1 132L413.1 132L414.1 131.7L415.1 131.2L416.1 130.7L417.1 130.1L418.1 129.5L419.1 129L420.1 128.3L421.1 127.5L422.1 126.5L423.1 125.4L424.1 124.2L425.1 123.2L426.1 122.4L427.1 121.7L428.1 121L429.1 120.4L430.1 119.8L431.1 119.4L432.1 119.2L433.1 119.2L434.1 119.2L435.1 119.2L436.1 119.2L437.1 119.2L438.1 119.2L439.1 119.2L440.1 119.2L441.1 119.2L442.1 119.1L443.1 118.9L444.1 118.6L445.1 118.3L446.1 117.9L447.1 117.7L448.1 117.4L449.1 117.3L450.1 117.1L451.1 116.9L452.1 116.8L453.1 116.8L454.1 117.1L455.1 117.7L456.1 118.5L457.1 119.5L458.1 120.5L459.1 122L460.1 123.9L461.1 126.1L462.1 128.4L463.1 130.8L464.1 133.3L465.1 136L466.1 138.9L467.1 141.6L468.1 144.2L469.1 146.6L470.1 149.1L471.1 151.4L472.1 153.7L473.1 155.9L474.1 157.9L475.1 159.7L476.1 161.5L477.1 163.2L478.1 164.8L479.1 166.3L480.1 167.6L481.1 168.7L482.1 169.6L483.1 170.5L484.1 171.3L485.1 172L486.1 172.7L487.1 173.2L488.1 173.7L489.1 174.1L490.1 174.3L491.1 174.5L492.1 174.6L493.1 174.8L494.1 174.9L495.1 175.1L496.1 175.2L497.1 175.3L498.1 175.4L499.1 175.5L500.1 175.5L501.1 175.6L502.1 175.6L503.1 175.7L504.1 175.7L505.1 175.8L506.1 175.8L507.1 175.8L508.1 175.9L509.1 175.9L510.1 175.9L511.1 176L512.1 176L513.1 176L514.1 176L514.9 176" stroke="#000" stroke-width="1.8" stroke-linejoin="round" stroke-linecap="butt" fill="none"/></g>
<g transform="translate(0 .25)"><path d="M287 226L288 226L289 226L290 226L291 226L292 226L293 226L294 226L295 226L296 226L297 226L298 226L299 226L300 226L301 226L302 226L303 226L304 226L305 226L306 226L307 226L308 226L309 226L310 226L311 226L312 226L313 226L314 226L315 226L316 226L317 226L318 226L319 226L320 226L321 226L322 226L323 226L324 225.9L325 225.9L326 225.9L327 225.9L328 225.9L329 225.9L330 225.9L331 225.9L332 225.9L333 225.9L334 225.9L335 225.9L336 225.9L337 225.9L338 225.9L339 225.9L340 225.9L341 225.9L342 225.9L343 225.9L344 225.9L345 225.9L346 225.9L347 225.9L348 225.9L349 225.9L350 225.9L351 225.8L352 225.8L353 225.8L354 225.8L355 225.8L356 225.8L357 225.8L358 225.8L359 225.8L360 225.8L361 225.8L362 225.7L363 225.7L364 225.7L365 225.7L366 225.7L367 225.7L368 225.6L369 225.6L370 225.6L371 225.6L372 225.5L373 225.5L374 225.5L375 225.4L376 225.4L377 225.3L378 225.2L379 225.2L380 225.1L381 225L382 224.8L383 224.5L384 224.2L385 223.8L386 223.3L387 222.8L388 222.3L389 221.8L390 221.2L391 220.4L392 219.5L393 218.5L394 217.4L395 216.3L396 215L397 213.7L398 212.4L399 211.1L400 209.7L401 208.1L402 206.4L403 204.7L404 202.9L405 201.1L406 199.3L407 197.5L408 195.8L409 194.1L410 192.3L411 190.6L412 188.8L413 187.1L414 185.5L415 184L416 182.6L417 181.4L418 180.3L419 179.2L420 178.2L421 177.2L422 176.4L423 175.7L424 175.1L425 174.6L426 174.2L427 173.7L428 173.3L429 173L430 172.6L431 172.3L432 172L433 171.8L434 171.5L435 171.3L436 171.1L437 170.9L438 170.6L439 170.4L440 170.1L441 169.8L442 169.4L443 168.9L444 168.4L445 167.9L446 167.3L447 166.7L448 166.2L449 165.7L450 165.2L451 164.8L452 164.3L453 163.8L454 163.4L455 163L456 162.6L457 162.3L458 162.1L459 162L460 161.9L461 161.8L462 161.8L463 161.7L464 161.7L465 161.8L466 162L467 162.4L468 162.9L469 163.5L470 164.1L471 164.8L472 165.9L473 167.1L474 168.4L475 169.8L476 171.3L477 172.9L478 174.6L479 176.5L480 178.4L481 180.3L482 182.3L483 184.3L484 186.3L485 188.4L486 190.4L487 192.4L488 194.3L489 196.3L490 198.1L491 200L492 201.8L493 203.6L494 205.3L495 206.9L496 208.6L497 210.2L498 211.9L499 213.4L500 214.8L501 216L502 217.1L503 218.2L504 219.1L505 220L506 220.9L507 221.6L508 222.2L509 222.6L510 223.1L511 223.5L512 223.8L513 224.2L514 224.5L515 224.7L516 224.9L517 225.1L518 225.2L519 225.3L520 225.4L521 225.5L522 225.5L523 225.6L524 225.7L525 225.7L526 225.8L527 225.8L528 225.9L529 225.9L530 225.9L531 226L532 226L533 226L534 226L534.2 226L534.2 226L287 226Z" fill="url(#g)"/>
<path d="M466.5 167.9h0M447.6 224.7h0M479.4 221h0M433.7 179.6h0M477.1 176.7h0M474.6 191.2h0M448.1 199.2h0M446.7 210h0M444.9 180h0M469.3 186.2h0M439.8 199.4h0M422.2 213.4h0M461.4 194.3h0M427.6 212.6h0M481.8 196.8h0M412.9 208.2h0M464.9 173.5h0M490.8 210.2h0M474.7 198.1h0M473.2 218h0M420.7 217.3h0M450.5 176.8h0M434.5 204.2h0M422.2 195h0M472.5 192.8h0M429.7 192.3h0M471.5 179.5h0M416 224.6h0M483.6 203.6h0M463 199.7h0M495.8 218.8h0M461.3 185.6h0M458.9 174.7h0M435 219.8h0M494.2 225h0M483.7 224.6h0M458.8 216.8h0M482 219.6h0M436.2 218.1h0M437.2 178.3h0M433.1 218.2h0M423.4 198.1h0M429.1 191.2h0M432.5 177.9h0M445.1 170.6h0M437.5 217h0M496 225.3h0M463 204.1h0M480.9 183.3h0M423.4 205h0M493.7 211.1h0M464.6 164.7h0M454.2 183.3h0M443.5 205.2h0M494.6 223.3h0M461.7 204.6h0M404.4 204.6h0M459.2 197.8h0M477.2 216.1h0M442 217.9h0M437 211.5h0M446.3 210h0M460.9 169.9h0M439.9 184.5h0M482.1 223.5h0M389.6 222.6h0M482.1 221.4h0M459.7 209h0M441.8 225h0M458.6 215h0M421.3 218.4h0M446.3 184.6h0M468.2 174.2h0M478.4 198.7h0M459 217.8h0M471.6 209.6h0M438.7 174.9h0M462.4 184h0M416.4 188.9h0M432.4 207.1h0M440.4 195.1h0M493.1 214.5h0M464.2 188h0M432.7 188.7h0M430.5 224.4h0M455.6 189.1h0M466.8 205.5h0M452.2 170.6h0M489.5 207.5h0M427.6 218.8h0M473.1 223.7h0M463.8 181.5h0M448.3 187.4h0M421.4 219.7h0M454.1 196.1h0M408.3 201.5h0M464.4 179.4h0M495.7 221.5h0M469.4 192.5h0M428.3 225.3h0M471.7 183.8h0M451.3 193.5h0M460.7 212.2h0M484.9 210.5h0M464.5 202h0M493.5 210.1h0M392.6 222.6h0M442.3 201.4h0M469.4 210.4h0M475.7 210.7h0M473.7 216.7h0M447.9 175.9h0M462.4 181.4h0M437.4 203.1h0M442.5 202.4h0M469.3 186.8h0M444.8 206.7h0M473.2 205.5h0M411.7 214.3h0M488.2 198.4h0M462.4 178.4h0M484 193h0M434.9 181.2h0M472.4 201.4h0M403 210.9h0M480.8 188.1h0M449.7 218.7h0M476 210.3h0M450.1 220.5h0M464 216.3h0M458.6 185.6h0M458.4 182.1h0M440.3 191.7h0M456.5 184h0M445.3 218.3h0M445.3 193.9h0M455.5 212.6h0M444.7 176.3h0M488.9 219.8h0M495.2 212.2h0M421.2 207h0M481.3 199h0M498.6 218.5h0M441.6 220.4h0M476.5 213h0M466.8 217.5h0M397.2 223.6h0M419.3 201.9h0M451.3 222.8h0M459.8 199.9h0M490.5 218.9h0M462.7 171.6h0M390.3 223.2h0M461.7 225.1h0M422.3 197.8h0M425.2 180.6h0M472 203.5h0M462.1 189.6h0M440.7 217.5h0M396.9 222.7h0M413.8 190.6h0M403.4 219.3h0M511.6 225.1h0M479.3 225.1h0M441.5 179.8h0M456.4 213h0M486.7 193.7h0M412.8 217.2h0M480.3 210.7h0M416.9 207.3h0M436.6 208.8h0M471.4 189.5h0M425.3 205.7h0M486.3 224.4h0M432.3 196.1h0M466.5 190.2h0M418.3 197.1h0M491.3 212.8h0M467.5 206.6h0M477.2 185.6h0M453.5 222.7h0M418.2 182.4h0M409.7 220.6h0M491.2 215.5h0M424.3 184h0M462.7 184.3h0M436.7 177.4h0M401.9 222.8h0M404.4 205.7h0M459.9 169.9h0M443.6 177.1h0M439.6 207h0M470.2 212.4h0M437.4 205.4h0M478.1 191.5h0M464.3 189.2h0M414.4 196.6h0M433.3 214.8h0M471.6 188.3h0M413.9 220.7h0M431.7 190.1h0M441.4 199.7h0M412.4 193h0M415.3 186.5h0M481.4 187.4h0M459.6 194.8h0M455.2 182.6h0M442.5 223.9h0M437.3 190.9h0M478.3 180.3h0M469.2 169.8h0M452.4 218.7h0M419.5 186.1h0M436.5 204.6h0M469 223.2h0M484.1 194.1h0M420.3 183h0M418.8 183.9h0M331.8 225.4h0M452.6 174.4h0M453.7 173.3h0M489.2 222.5h0M391.3 224.4h0M481.5 193.9h0M434.8 178.8h0M442 207.6h0M410.3 211.4h0M400.6 212.2h0M395.5 219.6h0M464 212.7h0M460.1 206.9h0M435.9 212.7h0M429.2 188.2h0M439.5 187.1h0M487.9 203.6h0M490.5 206.1h0M453.1 181.7h0M464.4 171.7h0M487.5 196.3h0M423.3 223.1h0M420.2 185.1h0M407.7 225.3h0M423.7 179.1h0M440 194.2h0M447.5 199.6h0M420.2 204h0M422 208.2h0M435.5 203.3h0M424.5 204.6h0M426 220.9h0M485.6 207.6h0M495.1 210.1h0M508.2 224.8h0M492.8 209.5h0M396.7 223.2h0M411.1 207.7h0M410.6 213.4h0M451.2 188.9h0M395.5 220.9h0M464.4 200.6h0M399.8 216.1h0M417.7 192h0M469.1 211.4h0M462.3 190h0M464.2 208.2h0M449.1 187.8h0M476.3 222h0M420 215.9h0M420.7 210.6h0M442.6 202.4h0M464.3 206.2h0M460.3 206.5h0M488.4 206h0M440.4 214.6h0M471.5 221.1h0M448.5 220h0M464.5 220.9h0M441.1 191.9h0M435.6 176.2h0M383.5 225.2h0M460.1 222.4h0M447.2 213.6h0M437.8 188h0M436.1 213.9h0M467.9 188.8h0M440.5 221.5h0M457.5 215.4h0M452.3 167.6h0M454.5 217.5h0M428.1 194.5h0M442.6 217.6h0M477 177.6h0M410.4 212.5h0M477.8 197.5h0M410.1 215.8h0M417.7 224h0M426.7 204h0M403.2 217.9h0M484.2 188.5h0M460.7 180.8h0M467.5 222.7h0M459.2 196.2h0M479.5 183h0M422.9 212h0M466.7 216.2h0M461.5 202.6h0M426.5 219.5h0M447.1 198.4h0M460.6 217h0M411.2 192.4h0M465.6 217.9h0M425.9 187.3h0M468.6 208.9h0M427.5 217.4h0M458.2 222.3h0M448.7 175.4h0M404.8 203.3h0M438.7 201.7h0M490.1 201h0M474.5 183.2h0M484.7 198.2h0M420.7 190.5h0M479 209.9h0M456.9 215.8h0M453.8 221.5h0M396.4 216.2h0M446.4 199.4h0M432.5 177.7h0M402.6 216.4h0M465.7 208.3h0M410.2 196h0M475.7 213h0M450.2 185.9h0M451.7 188.1h0M463.2 181.6h0M465.9 188.4h0M428.3 216.4h0M445.6 193.2h0M480.8 202h0M407.4 206.3h0M451 200.8h0M420.2 198.1h0M490.1 202.7h0M445.9 217.3h0M429.3 216.1h0M414.7 214.7h0M478.3 178.2h0M425.4 199.3h0M430.1 217.1h0M409.5 197.7h0M470.3 168.7h0M478 220.7h0M431.1 177.7h0M478.4 193.2h0M470.5 192.5h0M464.8 174.4h0M455.6 172.3h0M455.2 189h0M412.3 200.6h0M460.7 182.6h0M475.4 184.1h0M405.7 216.7h0M429.7 217.3h0M468.6 217.2h0M477.2 210.7h0M443.5 194.7h0M477 215.4h0M442.5 193.3h0M466.3 208.7h0M484.6 200.2h0M441.9 210h0M474.2 173.2h0M447.6 209.9h0M438.3 209.1h0M461.1 206.9h0M462.5 175.6h0M473.1 206.4h0M481 208.4h0M501.7 220.3h0M483.3 224.3h0M440.5 194h0M411.8 203.2h0M459 195.6h0M486.5 195h0M470.8 213h0M455.9 196.8h0M423.3 199.3h0M485 211.4h0M492.6 215.5h0M472.9 224.7h0M431.2 220.9h0M414.6 191.9h0M481.9 192h0M486.3 214.9h0M467.9 216.9h0M452.7 203.5h0M435.1 200.6h0M418 206.1h0M446.9 181h0M490.3 207.1h0M443.7 199.6h0M421.4 225h0M405.8 210h0M464.6 189.8h0M465.2 191.7h0M456.1 172h0M411.3 212.5h0M410.7 216.3h0M451.8 216.7h0M459.2 185h0M401 225h0M477.3 200.6h0M462.4 181.7h0M443.1 184.6h0M440.9 197.2h0M412.4 191h0M455.6 194.2h0M480.9 214.9h0M476.1 174.9h0M464.9 209.7h0M414.7 206.2h0M422.9 208.7h0M417.2 212.8h0M489.6 219.5h0M454.8 218.1h0M469.8 225h0M468.3 182.9h0M394.8 222.2h0M474.7 207.4h0M452.1 194.8h0M454.4 167.9h0M407.9 210.3h0M470.9 187.7h0M456.6 201.3h0M442.4 178.6h0M469.5 175.4h0M483.2 188h0M488.8 218.1h0M425.9 179.4h0M456.8 225.4h0M477.8 221.2h0M494.5 210.7h0M452.6 206h0M452.1 225h0M434.4 204.5h0M433.4 176.1h0M486.6 209.8h0M457.8 171.6h0M486.8 199.1h0M434 201.2h0M440.1 200.3h0M461.4 194.6h0M453.7 225h0M461.2 195.9h0M476.2 220.9h0M462.2 166.1h0M439.6 217.5h0M465.4 201.9h0M427.7 213.8h0M410.5 195.8h0M435.7 178h0M445.1 200h0M405.4 212.5h0M467.9 209.5h0M440.4 173h0M484.5 221.3h0M462.1 209.3h0M420.4 189.7h0M424.9 214.5h0M483.2 186.5h0M460.5 200.2h0M484.6 216.8h0M425.5 214.3h0M473.4 215.3h0M440.3 212.2h0M432 179.3h0M456.1 172.2h0M412.8 214.9h0M469.8 203h0M450 171.3h0M438.3 186.7h0M472.3 207.6h0M454.9 178.7h0M459.8 210h0M438 209.6h0M473.1 182.7h0M423.8 208.7h0M483.3 215.5h0M434.2 194.1h0M465 203.1h0M441.6 182.1h0M416.8 187h0M441.1 177.7h0M392.6 223.8h0M459.5 187.3h0M443.5 215.4h0M438.8 223.8h0M440.7 221h0M436.9 173.9h0M462.1 219.3h0M471.4 191.3h0M401 221.9h0M455.9 178.6h0M443 221.3h0M404.9 218.6h0M406.2 211h0M460.7 168h0M443.7 175.7h0M437.1 180.6h0M410.9 195.9h0M465.4 167.7h0M463.9 173.9h0M430.3 225.1h0M449.7 214.7h0M435.3 220.1h0M439.6 224.5h0M446.8 186.8h0M406.3 220.3h0M440 192.7h0M422.3 193h0M493.8 219.9h0M448.4 183.3h0M423.6 200.5h0M443.7 212.2h0M445.8 176h0M422 182.7h0M466.7 205.1h0M492.1 222.5h0M472.2 176.7h0M432.8 200.3h0M423.6 177.5h0M472.9 222.9h0M469.7 187.4h0M419.8 213.5h0M464.9 183.2h0M390.7 225.4h0M427.4 214.9h0M462.3 170.6h0M415.7 189.1h0M433.7 192.5h0M472.4 174.2h0M466.4 198.9h0M396 218.1h0M407.4 206.3h0M419.7 192.6h0M443.3 203h0M482.4 221.5h0M429.3 187.9h0M443.1 209.2h0M400.3 212.8h0M483.4 219.3h0M397.5 214.5h0M455.7 209.6h0M435 185.2h0M475.3 187.7h0M450.9 209.6h0M426 203h0M414.6 211.6h0M445.6 206.9h0M482.5 217.7h0M443.6 172.5h0M468.2 215.7h0M478.7 180.1h0M426.6 220.9h0M458.2 190.3h0M475.1 199h0M446.3 199.9h0M478.6 216h0M412.5 209.4h0M471.4 206h0M479.2 182.9h0M469.7 191.7h0M469 221.6h0M481.2 204h0M459.9 180.5h0M433.6 180.7h0M421.5 209.2h0M422.6 193.9h0M418.2 215.3h0M461.1 165.3h0M490.2 209.4h0M445 182h0M428.5 210.3h0M436.2 203.1h0M462.9 176.6h0M426.7 208.4h0M504.3 224.5h0M463.6 204.4h0M438.3 179.5h0M471.5 177h0M468 168.6h0M419.4 185.2h0M473 172.7h0M395.9 218.4h0M470.9 192.3h0M429.9 220.4h0M419.6 188.5h0M428.7 194.4h0M427.8 182.8h0M424.3 218.1h0M467.8 180.8h0M458.7 184.2h0M425.3 187.6h0M437.4 209.9h0M445.9 220.5h0M419.1 209.5h0M479.3 189h0M415 206.8h0M452.6 195.3h0M414.1 189.2h0M397.3 222.1h0M461.9 174.8h0M447.2 221.7h0M447.9 182.2h0M445.1 172.7h0M450.5 181.1h0M454.9 193.8h0M484.7 196.4h0M447.3 194.7h0M443.7 224.9h0M419.3 199.9h0M425.7 224.3h0M483.7 207.5h0M456.9 198.5h0M454.2 217.5h0M464.4 180.6h0M473.8 192h0M429.5 212.7h0M449.6 179.2h0M478.6 193.4h0M478.3 203.4h0M465.8 200.2h0M404.2 223.9h0M479.1 219.3h0M475.8 177.9h0M403.8 220.5h0M479.7 185.9h0M422 179.4h0M452.4 167.1h0M446.7 187.2h0M458 182.8h0M427.9 187.4h0M454.7 184.4h0M415.6 211.6h0M494.1 221.5h0M433.8 194h0M453.7 214.3h0M447.3 201.3h0M436.1 201.7h0M489.8 206.3h0M405.9 222.2h0M416.4 185.9h0M454.5 192.5h0M504.2 225.3h0M484.1 206.8h0M481.5 196.3h0M429.5 203.6h0M482.5 197.4h0M466 212h0M414.7 206.8h0M486.4 210.1h0M405.7 214.1h0M455.7 183.2h0M444.6 200.7h0M435.4 221.9h0M470.9 204.8h0M459.6 201.8h0M477.5 214.7h0M445.4 188.2h0M473.7 201.6h0M456.8 193.5h0M476.9 186.7h0M420.6 208.6h0M447.6 172h0M443.5 200.4h0M485.8 211h0M475.6 212h0M444.6 221.2h0M488 215.3h0M453.5 221.9h0M413.3 209.5h0M430.3 212h0M401.1 214.7h0M488.2 199.8h0M454.7 220.8h0M411.3 204.3h0M461.4 213.8h0M418.5 196.2h0M455.3 219.6h0M406.7 203.8h0M472.5 197.1h0M461.5 181.1h0M483.6 218.2h0M471.6 207.5h0M445.6 188h0M461.8 210.1h0M478.4 222.2h0M429.3 183h0M434.8 207.4h0M433.8 181h0M498.6 218.1h0M416.2 212.9h0M479 187.3h0M451 212.7h0M448.2 223.6h0M441.7 221.5h0M476.1 224.6h0M420.7 208.3h0M471.3 176.5h0M409.7 207.6h0M414.5 206.7h0M459.2 194.4h0M480.2 200.5h0M459.2 205.1h0M468.1 177.9h0M461.7 167.4h0M468.2 170.3h0M481.7 196h0M464.7 189.9h0M463.6 184.5h0M464.1 220.5h0M489.2 209.4h0M472 216.1h0M484.1 219.5h0M395.9 222.7h0M433.2 176.5h0M405 216.9h0M432.9 222.9h0M444.3 204h0M465.8 172.2h0M440.4 175.2h0M456.9 213h0M475.9 188.4h0M419.7 187.1h0M445.8 191.4h0M395.2 221.8h0M413.9 215.8h0M406.7 221.5h0M453.6 168.6h0M416.7 206.7h0M444.3 183.2h0M456.6 214.3h0M482.8 215.7h0M434.6 183.9h0M460.4 193.8h0M490.2 208.5h0M473.5 185.9h0M461.5 202.7h0M495.1 223.7h0M473.5 191.8h0M468.7 200.5h0M412.1 211.4h0M475.9 175.5h0M453.2 189.8h0M439 184.5h0M413.6 223.8h0M450.5 202.8h0M398.6 223.4h0M476.5 201.8h0M459.5 224h0M444.5 175.7h0M462.7 207.5h0M477.2 194.1h0M405.7 207h0M465.3 186.3h0M435.3 208.1h0M455.9 201.7h0M450 211.6h0M443.3 213.3h0M466.6 191.5h0M414.8 222.1h0M469.2 178.2h0M458.8 210.3h0M413.2 222.2h0M469.1 219h0M465.9 185.6h0M444.6 206.7h0M466.3 216.3h0M422 209h0M440 196.2h0M476.5 193.6h0M424.7 198.4h0M411.8 220h0M442.5 221.1h0M476.7 174.5h0M462.1 207.9h0M469 170.1h0M430.6 210.5h0M460.3 222h0M422.3 215.9h0M462.9 188.4h0M498.3 214h0M483 205.4h0M449.9 174.7h0M488.2 214.4h0M457.4 182.1h0M439.1 223.6h0M503.8 223.5h0M414.4 204.8h0M449.8 200.1h0M431.9 193.3h0M467.8 208.2h0M484.5 199.7h0M497.5 217.7h0M470.9 202.1h0M455.3 196.6h0M436.3 201.5h0M405.2 217.2h0M478.6 210.1h0M448.1 192.2h0M445.3 197.6h0M447.7 176.2h0M464 203.1h0M440.7 216.6h0M465.5 196h0M456.3 187.7h0M411.6 199.2h0M429.6 178.6h0M436 195.7h0M428.5 190h0M428.5 183.7h0M489.7 208.9h0M458.3 209.4h0M424.9 204.1h0M419.8 189h0M454.7 207.9h0M489.3 205.2h0M429.5 212.4h0M468.6 194.1h0M438 195.7h0M456.6 206.8h0M445.1 202.5h0M415.4 216.6h0M495.7 225.4h0M492.3 208.1h0M467.4 212.5h0M479.5 210.9h0M459.5 217.5h0M465.1 177.7h0M478.3 222.7h0M416.9 197.8h0M424.4 210.7h0M395.9 221.3h0M417.8 203.4h0M474.2 206.6h0M450.4 205.4h0M459.9 170.3h0M483.9 214.6h0M459.1 218.3h0M443.6 187.5h0M430.3 188.5h0M421.8 224.4h0M415.5 212h0M474.1 188.4h0M426.2 206.3h0M441.3 208.1h0M435.7 217.4h0M447.4 217.8h0M456.4 224.4h0M451.2 214.7h0M447.5 195.2h0M415.8 204h0M417.1 192h0M419.2 202.8h0M389.5 224.8h0M489 202h0M467.9 205.2h0M485.4 212.9h0M441.6 199.3h0M436.3 191h0M456.9 210.6h0M391.3 223.3h0M396.1 222.5h0M437.1 185h0M472.5 212h0M460.5 224h0M443.2 186.2h0M464.3 201.9h0M440.1 199.2h0M460.7 207.8h0M408.8 197.4h0M456.6 221.9h0M420.5 183.3h0M421.1 212.7h0M433.4 185.1h0M450.3 215.8h0M481.2 187.6h0M479.3 205.2h0M484.7 200.3h0M445.5 202.2h0M445.2 175.9h0M499.5 219.4h0M400.4 217.8h0M463.6 182.3h0M461.2 219.3h0M467.4 213.4h0M438.3 195.5h0M482.7 222.3h0M435.3 189.9h0M478.9 196.6h0M453.7 173.3h0M413.3 203.1h0M442.5 196.1h0M418.1 224.7h0M425.4 203.4h0M401.4 209.6h0M445.7 175.9h0M483.2 196.3h0M488.6 210.3h0M446.6 218.5h0M491.1 213.5h0M434.5 211.9h0M470 209.8h0M449.5 176.8h0M411.4 206.7h0M423.8 183h0M462.3 183.8h0M435.2 213.4h0M475.2 192.9h0M430.6 215.8h0M426.5 211.7h0M506.9 224.9h0M405.6 204.4h0M430.9 187.5h0M472.1 173.5h0M446.3 209.2h0M432.6 178.3h0M485.2 221h0M480 199.3h0M460.6 183.2h0M441 183h0M489.1 204.5h0M414.3 200.3h0M405.6 215.2h0M408.2 220.9h0M418.6 222.4h0M456.3 184.8h0M459.5 172.5h0M464.7 174.1h0M452.1 222.2h0M418.6 218.2h0M449.7 223.9h0M455.8 218.3h0M500.3 217.2h0M408.2 202.9h0M456.5 212.6h0M405.9 215.6h0M508.4 224.5h0M437.2 177h0M418.4 214.6h0M438.3 194.8h0M454.7 193.6h0M401.8 214.1h0M484.8 201.7h0M442.7 175.6h0M473.6 202.1h0M406.7 200.5h0M448.2 192.7h0M452.9 223.7h0M457 170.3h0M415.8 194.3h0M431.9 207.5h0M489.1 222.5h0M430 199.7h0M474.7 189.5h0M479.1 203.7h0M474.2 182.3h0M442.4 213.6h0M484.1 199.9h0M467.1 176.2h0M425.3 204.2h0M458.3 180.7h0M446 206.4h0M436.3 175.8h0M437 194h0M460.7 164.8h0M489.1 205.7h0M452.8 187.2h0M419.7 181.2h0M453.6 183.8h0M440 218.1h0M446 199.1h0M480.1 205.9h0M466.4 175.6h0M438.6 205.5h0M427.7 210.7h0M458.9 173h0M435.9 205.6h0M432.3 174.4h0M449.7 208.5h0M425 187.4h0M449.7 212.2h0M469.6 183.8h0M411 223.4h0M460.6 170h0M430.3 223.1h0M417.6 194.8h0M454.7 206.6h0M474.5 223.4h0M472.8 211.4h0M474.1 183h0M482.2 199.8h0M446.9 208.9h0M425 187.6h0M492.5 206.2h0M439.4 224.9h0M471 212.1h0M430.3 175.5h0M478.6 220.3h0M405.9 220.8h0M451.7 176.5h0M410.6 220.3h0M499.7 223.6h0M411.5 205.5h0M420.5 186.8h0M470.1 202.6h0M461.1 177.6h0M440.5 219.2h0M431.5 195.9h0M477.1 191.6h0M457.8 197.8h0M424.1 205.5h0M462.8 176.2h0M424.1 177.7h0M469.5 199.5h0M461.6 204.5h0M496.2 212.8h0M396.2 219.7h0M466 209.7h0M448.3 184.5h0M490.2 207.3h0M433.1 178.6h0M473.2 178.5h0M462.4 168h0M427.6 220h0M430.9 207.5h0M479.8 214.3h0M438.2 200.9h0M435 194h0M464 211.1h0M436.3 204.4h0M420.3 219.8h0M463.7 176.5h0M420.6 190.8h0M454.4 188.5h0M488 212.2h0M464.6 186.4h0M452.4 200.7h0M462.8 201.6h0M478.2 204.7h0M475.7 211.5h0M461.8 192.6h0M450.8 172.5h0M428.7 217.8h0M443.4 186.9h0M454.7 188.2h0M453.5 217.6h0M475 204.8h0M425.6 217.9h0M445.4 172.9h0M386.5 224.1h0M447.5 209.9h0M414.7 221.9h0M474 188.5h0M472.3 201h0M421.9 186.5h0M447.3 211.1h0M440.1 224.9h0M432 217.9h0M417.6 224.9h0M487.6 209h0M484 210.3h0M480.8 225.1h0M469.5 211h0M483.9 200h0M475 181.8h0M448 198.9h0M426.1 222.4h0M465.9 201.3h0M469.2 193h0M432.8 207.8h0M441.4 207.2h0M415 195h0M447.4 209.6h0M472.2 203.6h0M490.6 203.1h0M470 169.6h0M470.9 209.8h0M426.5 197.1h0M424.7 197.1h0M409 221.9h0M414.5 200.1h0M440.4 191h0M427 189.8h0M434.7 208.2h0M434.4 224.9h0M438.5 209.1h0M479.5 185.3h0M459.3 182.4h0M465.9 170.8h0M414.4 197.7h0M451.2 208.8h0M458.3 208.7h0M432.1 184h0M418.2 211.8h0M458.7 203.8h0M420.4 186.8h0M451.8 215.1h0M442.1 175h0M456 192.8h0M392.3 223.5h0M428 183.3h0M478.7 213.8h0M477.4 216.6h0M429.8 178.3h0M398.9 220.6h0M466.1 207.7h0M457.6 202.4h0M460.9 167.5h0M416 202.6h0M445.5 176.5h0M463.6 224.3h0M393 222.7h0M422.5 206.1h0M455.8 192.3h0M455.1 206.4h0M477 223.5h0M434.5 195.6h0M441.7 218.5h0M455.1 211.3h0M448.5 224.1h0M488.1 210.2h0M423.1 224.3h0M463.9 198h0M463.6 179.7h0M479.3 213.5h0M458.3 178.8h0M466 186.5h0M478 221h0M420.4 183.5h0M435.1 199.7h0M419.3 215.2h0M486.3 223h0M449.7 204.6h0M412.8 204.4h0M486.1 204.9h0M441.8 188.8h0M448.2 213.4h0M494.4 224.9h0M474.5 211.9h0M439.5 205.3h0M409.3 201.9h0M452.7 221.5h0M453.9 197.1h0M445.6 171.9h0M474.8 212.3h0M456.1 223.6h0M405.8 221.7h0M485.3 215.7h0M426.3 187.7h0M498.4 215h0M458.8 171.3h0M498.6 219h0M450.7 177.8h0M474.4 222.8h0M476.8 219.4h0M458 196.5h0M459.7 225.1h0M415.6 203.8h0M462.9 174.4h0M424.7 185.5h0M460.4 206.5h0M419.7 184.6h0M427.7 223.9h0M490.6 218h0M453 168.6h0M422.1 188.6h0M463.3 204.5h0M442 222.7h0M435.9 212.5h0M471.2 220.6h0M410.1 200.4h0M407.6 205.9h0M463.8 211.6h0M467.7 193.6h0M493.1 213.6h0M464 172h0M483.2 198.4h0M453.4 206.1h0M471 194.7h0M462.5 197.2h0M443.1 189.3h0M464.3 176.4h0M409.1 203.6h0M401 224.5h0M392 221.4h0M494.2 220.6h0M477 219.4h0M479.1 210.9h0M462.5 192.5h0M415.4 191.7h0M454 220.5h0M425.2 224.2h0M439.5 219.9h0M427.6 222.5h0M449.8 199.3h0M460.6 177.5h0M460.4 174h0M430.5 183.1h0M420.4 180.3h0M446.7 206.8h0M435.5 200.1h0M412.5 198.9h0M464.3 173.8h0M459 202h0M444.8 219.3h0M443.3 224.1h0M412.3 222.7h0M420.6 200.9h0M415.8 199.3h0M457.9 202.2h0M463.5 200.9h0M453.1 217.2h0M455.4 220.1h0M459.7 174.7h0M470.8 173.6h0M450.9 199.1h0M416.4 191.1h0M415.2 185.9h0M460.6 212.8h0M476.1 217.5h0M431.7 195.9h0M461.2 211.2h0M436.4 183h0M422.8 187.5h0M445.5 202.4h0M463.4 201.3h0M476 175.8h0M469.3 205.2h0M440.3 214.2h0M461.4 205.1h0M404.2 206.4h0M408.4 205.5h0M451.5 179.1h0M455.7 207.5h0M467.9 185.9h0M428.6 209h0M461.8 179.2h0M485.5 222.3h0M426.8 214.5h0M424.2 217h0M479.1 224.9h0M464.2 193.9h0M398.3 214.9h0M401 213.8h0M411.2 222.6h0M425.2 216.7h0M424.9 184.1h0M456.4 195h0M464.8 188.6h0M418.8 206.2h0M444 177.7h0M433.9 179.6h0M465.6 202.8h0M449.7 223.1h0M474.3 185.4h0M469.9 197h0M492.4 224.9h0M489.8 199.6h0M469.7 183.6h0M416 200.6h0M455 184.6h0M455.3 206.6h0M386.9 223.5h0M414 206.3h0M442.5 172.5h0M479.3 197.5h0M427.2 195.8h0M475.8 180.6h0M442.8 219.8h0M462.5 199.7h0M469.8 209.7h0M444.8 214.4h0M446.9 173.5h0M445.5 186.1h0M426.8 224.6h0M464.6 202.4h0M436.7 212.5h0M421.8 196.4h0M404.3 206.7h0M428.3 196.6h0M470.7 202h0M419.1 205.4h0M467.4 165.3h0M439.3 183.2h0M472 222.8h0M474.3 220.5h0M400.1 218.4h0M458.7 203.4h0M459.3 223.3h0M479.2 224.4h0M511.8 224.9h0M445 178.2h0M438 176.6h0M470.4 219.3h0M434.6 210.5h0M493.2 215.8h0M419.9 181.3h0M428.9 181h0M416.2 209.2h0M459.8 219.4h0M435.8 199.7h0M426.2 182.8h0M400.8 214.9h0M419.9 181h0M473.9 172.5h0M419.5 222.3h0M456.3 212.4h0M435.8 193.1h0M418 195h0M401.1 218.7h0M430.9 221h0M482.8 194.7h0M476.4 204h0M464.4 177.4h0M455.1 196.9h0M486.7 196h0M417.6 225.2h0M439.8 200.6h0M392.3 224.2h0M440.2 223.6h0M454.8 191.2h0M470.6 192.1h0M472.3 190.9h0M432.9 188.9h0M454.7 172.6h0M466.8 190.6h0M455 196.9h0M425.3 219.7h0M425.7 198.5h0M435.3 178.5h0M480.6 198.6h0M427.6 209.7h0M425.2 178.9h0M417.2 216.7h0M500.6 218.3h0M489.6 211.5h0M445.6 223.2h0M441.1 220.1h0M472.6 193.4h0M428.6 205.3h0M406.2 219.1h0M480.4 225.3h0M433.1 176.7h0M456 178.8h0M434.2 223.1h0M449.7 187.7h0M465.7 199.7h0M421 225.1h0M465.3 185.2h0M449.2 171.2h0M442 188.6h0M441.3 192.2h0M412.3 203h0M445.4 205.9h0M427.1 220.2h0M461.2 187.1h0M458.3 212.2h0M502 219.9h0M419.1 221.6h0M419.3 210h0M467.9 225.2h0M403.6 211.8h0M480.4 197.8h0M458.3 174.1h0M466.2 166.2h0M448.9 183.5h0M396.5 216.3h0M478.5 194.4h0M432 203.9h0M459.7 209.3h0M488.6 213.7h0M443.1 222h0M481.2 219.1h0M427.9 211.5h0M429.5 194.4h0M454 203.6h0M469.9 185.1h0M473.6 201.6h0M468.3 187h0M420.3 209.9h0M472.9 210.1h0M454.3 196h0M435.8 181h0M419.7 191h0M499 214.4h0M476.2 202.9h0M460.3 174.1h0M456.8 208.9h0M445.3 217.4h0M475.1 176.3h0M436.7 185.2h0M476.7 219.4h0M441.4 221.9h0M443.7 192.2h0M411.6 204.2h0M479.5 197.5h0M451 199.5h0M480.4 192.6h0M430.7 179.8h0M462 189.9h0M472.2 191.2h0M412.4 213.5h0M495.8 216.2h0M452.5 180.5h0M456.2 193.6h0M475.6 211.3h0M479.6 212.2h0M483.9 217.5h0M450.5 184.6h0M403 210.9h0M417.2 208.4h0M416.3 210.8h0M490.6 217.1h0M441.1 220.2h0M418.5 202.5h0M478.5 180.9h0M476.7 217.9h0M471.1 176.1h0M430.4 205.2h0M497.8 217.1h0M416.5 214.1h0M483.6 196.8h0M493.9 206.4h0M404.6 216.9h0M412.3 224.1h0M456.2 203h0M469 171.1h0M416 222.7h0M401 212h0M401.7 221.7h0M437.9 177h0M458 191.7h0M442.8 182.8h0M426.8 193.1h0M436.2 218.4h0M484.9 204.6h0M448.8 170.4h0M423.7 182.7h0M429.6 219h0M459.9 198.7h0M472.5 216.3h0M456.2 208.1h0M465.7 183.1h0M469.2 202.5h0M490.6 207.7h0M453.3 194.4h0M438.5 204.5h0M418.4 186h0M493.4 214.6h0M457.8 170.1h0M459.3 165.5h0M420.4 214.5h0M439.8 203.4h0M410.5 224.2h0M400.2 216.2h0M439.5 213.6h0M443.5 219h0M482.9 212.1h0M407.8 223h0M431.1 225.3h0M469.5 184.9h0M488.9 224.7h0M487.3 203.7h0M468.1 166.5h0M471 193h0M403.6 218.8h0M444.1 211.2h0M458 223.8h0M429.1 218h0M439.3 172.5h0M370.4 225.4h0M470.4 173.4h0M449.4 196.9h0M466.2 200.4h0M430.4 184.3h0M483.7 197.3h0M466 222.2h0M433.6 186.1h0M410.9 205h0M435.6 181.3h0M415 205.7h0M465.6 182.8h0M452.5 173.7h0M443.1 184.1h0M438.2 177.2h0M440.2 214.8h0M464.2 172.3h0M419.4 207.4h0M410.1 221.6h0M429.8 212.9h0M465.2 174.6h0M454.9 171.3h0M473.2 190.1h0M445.3 185.7h0M443.4 210.6h0M423.4 200.7h0M458.4 177.1h0M439.4 213.5h0M447.9 223.9h0M453.2 194.6h0M439.7 189.8h0M469.5 184.1h0M513.3 224.9h0M447.6 208.4h0M427.6 185.8h0M482.3 211h0M423.1 178.2h0M416.8 188.5h0M457.5 195.3h0M400.8 210.8h0M438.3 191.6h0M413.1 194.4h0M480 224.7h0M430.4 219.5h0M475.4 186.1h0M440.1 193h0M427.3 177.5h0M425.7 205.1h0M469.7 189h0M474 179.8h0M494.9 216.8h0M477.5 193.6h0M492.3 216.3h0M435.3 216.5h0M473.8 218.2h0M473.2 212.3h0M415.9 223.4h0M483.9 203.9h0M423.9 198h0M482.1 188.6h0M434.9 218h0M454.2 188.5h0M430.5 180.6h0M477.6 183.1h0M460 167.1h0M431.4 192.4h0M459.9 208h0M462.3 197h0M470.6 218.2h0M401.7 225.2h0M458.8 175.6h0M488.7 209.4h0M452.4 215.4h0M479.7 208.5h0M410.3 206h0M410.4 204h0M473.1 214.6h0M451.9 200.5h0M432.7 207.1h0M468.7 198.5h0M405.8 214.8h0M425 178.1h0M431.8 218h0M490.8 224.6h0M410.2 221.9h0M429.8 213.6h0M416.9 220.5h0M447.3 214.3h0M473.1 215h0M461.8 212.4h0M456.7 172h0M433.4 200.8h0M435.4 181h0M464.5 186.6h0M463.3 191h0M452.9 218.4h0M472.5 198.1h0M463.6 204.6h0M461.5 215.4h0M464.5 219h0M459.3 178.1h0M402.8 210.2h0M429.1 208.4h0M470.5 170.5h0M482.7 201.7h0M466.9 201.2h0M439.3 205.5h0M440.3 220.8h0M437 201.3h0M428.8 188.8h0M459.8 180.3h0M459.3 165.8h0M433.2 191.7h0M487.4 223.8h0M415.1 209.3h0M440.2 187h0M434.6 180.3h0M466.2 195.5h0M472.8 214.8h0M476.2 192.8h0M432.5 218.7h0M407.7 202.7h0M415.2 201.5h0M487.4 204.2h0M455.5 179.5h0M470.9 167.5h0M451.9 221.1h0M444.2 179.7h0M440.1 173.6h0M400.6 222.5h0M447.1 186.4h0M467 191.2h0M463.7 225.1h0M486 203.5h0M439.6 205.3h0M432.1 210h0M476.3 187.7h0M440.1 194.3h0M438.8 193h0M430 200.5h0M469.8 210.1h0M429.2 215.9h0M431.9 188.9h0M444.3 199.2h0M469.6 220.4h0M414.2 207.6h0M460.8 222.2h0M436.4 208.8h0M436.7 195.7h0M464.6 204h0M460.3 184.6h0M400.4 222.3h0M459.1 219.1h0M481.7 192.9h0M469.4 210.1h0M446.9 201.8h0M453.1 170.5h0M489.4 223.9h0M461 205.2h0M452.3 187.8h0M476.4 176.1h0M442.7 201.3h0M489.3 218.2h0M470.7 215.2h0M467.2 186.9h0M441.6 210.9h0M422.3 222.1h0M416.5 191.8h0M436 194.5h0M445.9 205.6h0M487.7 217.7h0M451.9 169.6h0M421.6 205.4h0M471.3 180h0M421.4 191.4h0M454.1 180.4h0M421.6 195.6h0M416.2 218.3h0M462.8 192h0M429.9 216h0M443.3 205.7h0M459.4 210.9h0M447.6 196.7h0M464.6 170.1h0M448.8 198.8h0M470.4 183.3h0M442.1 209.9h0M465.2 219.7h0M434.9 200.6h0M429.6 207.2h0M437.8 222.5h0M481 183.1h0M407.1 206.5h0M435.8 183h0M429.9 186.7h0M473.4 210.7h0M450.8 184.4h0M473 172.6h0M413.2 193.6h0M429.2 176.4h0M449.8 183.4h0M489.2 212.3h0M424.2 189.6h0M484.6 203.8h0M473.4 179.6h0M448.9 176.6h0M470.1 174.2h0M468.8 212.3h0M427.8 214h0M424.8 212.6h0M456.1 210.8h0M426.4 202.6h0M462.2 196.4h0M469 182.9h0M430.2 179.8h0M447.2 223.4h0M485.1 203.9h0M409 210.3h0M421.6 188.1h0M462.8 194.1h0M450.5 218h0M422 207.7h0M439.5 205.9h0M425.7 184h0M459.8 164.7h0M464.3 181.4h0M454.9 180.1h0M439.6 218.7h0M469.6 177h0M429.8 187.5h0M398.5 214.3h0M444.8 173.7h0M476.6 221.7h0M422.2 196.3h0M469.4 211h0M430 205.9h0M449.8 196.5h0M480.4 194.6h0M476.8 190h0M406.1 223.8h0M434.2 188h0M490.3 216.3h0M481.7 213.8h0M415.1 208.7h0M447 194h0M481.1 204.9h0M459.4 177.5h0M472.1 190.5h0M423.1 180.2h0M436.2 204.7h0M469.3 220.5h0M430.3 185.1h0M407.1 198.9h0M422 184.3h0M427.2 215h0M453 204.6h0M452.8 195.6h0M446.1 178.2h0M448.5 186.9h0M426.1 215.5h0M481.6 183.7h0M435.2 174.7h0M437.2 175.9h0M469.7 178.6h0M432.1 179.7h0M478.8 196.2h0M441.9 178.5h0M453.3 199.9h0M431.5 185.3h0M430.5 219.7h0M480.6 219.2h0M440.8 187.9h0M429.2 210.2h0M479.6 187h0M505 220.7h0M421.1 194.7h0M474.2 202.3h0M411.3 209.9h0M437.5 207.8h0M463 208.8h0M407.5 213.1h0M492.3 219.8h0M482.4 188.1h0M478.1 205.3h0M467.1 213h0M465 199.3h0M453.7 190.2h0M400.9 215.4h0M448.1 201.7h0M436.9 181.4h0M404.2 213.1h0M483.5 195.8h0M432.6 218.5h0M429.9 225.2h0M439.2 225.2h0M434.2 221.4h0M423.6 185.2h0M457.2 178.3h0M455.2 174.9h0M401.5 214.8h0M464.8 224.6h0M457.5 179.2h0M429.4 223.9h0M413 221.7h0M407 214.1h0M419.7 218h0M421.7 218.1h0M431.3 221.2h0M449.7 187.4h0M485 218.4h0M426.1 182.1h0M470.7 210.9h0M419.3 197.9h0M459.4 178.2h0M440.1 221.6h0M404.7 212.5h0M407.6 199.6h0M451.6 219.7h0M426 207.5h0M501.2 225.2h0M441.9 185.4h0M466 187.3h0M440.5 186.4h0M451.3 174.3h0M482.9 219.7h0M450.7 187.7h0M440.3 218.7h0M426.6 191.2h0M443.1 179.2h0M464.3 183.7h0M416.4 199.8h0M429.8 190.9h0M435.1 210.8h0M422.1 221h0M479.5 186.6h0M468.8 177.9h0M477.4 219.1h0M440.4 204h0M410.3 222.1h0M430.1 222.4h0M416.9 222.4h0M426.1 192.9h0M445.3 181.1h0M452.5 202.6h0M451 213.4h0M466.9 182.9h0M419.2 181.7h0M446.7 204.6h0M423.4 181.1h0M470.9 200.1h0M460.8 166.7h0M451.6 184h0M475.9 199.5h0M418 210.8h0M471.1 217.7h0M485 200h0M479.5 203.1h0M450.5 199.6h0M470.5 203.5h0M467.4 193.4h0M484.1 213.6h0M431.6 196.2h0M445.2 191.6h0M485.8 199.6h0M467.2 170.5h0M425.2 213.5h0M468.3 196h0M407.9 206.6h0M473.9 201.5h0M385.6 225.1h0M420.2 213.3h0M450.6 213.4h0M431.5 198.4h0M420.5 188.3h0M440.2 204.5h0M459.3 221.9h0M480.2 196.2h0M426 207.5h0M449.4 210.8h0M464.6 200.6h0M410.8 215.3h0M409.4 205.4h0M476.7 214.3h0M477.9 195.9h0M484.1 193.7h0M492.2 203.7h0M435.9 188.2h0M437.4 189.5h0M416.9 224.9h0M434.6 205.5h0M426.2 193.3h0M450 212.9h0M473.7 177.6h0M478.9 190.9h0M474.2 186h0M405.9 223.8h0M468.4 208.6h0M440.9 185.7h0M422.3 181.7h0M447.7 190h0M476.7 186.1h0M437.1 193.7h0M451.5 171.3h0M464.3 223.2h0M424.3 213.5h0M479.4 222.5h0M453.4 184.6h0M481.5 204.5h0M433.2 177.2h0M438.2 207.7h0M394.5 221.9h0M415.5 194.6h0M457 180.8h0M446.4 191.9h0M407 204.4h0M443.6 184.6h0M480.4 217.1h0M431 181.6h0M441.3 193h0M425.8 217h0M403.4 214.8h0M434.6 199.9h0M437.7 210h0M444.6 223.4h0M425 180.3h0M472.9 220.8h0M430.8 189.9h0M415.2 211.4h0M444.8 219.8h0M432.1 184.5h0M419.5 199.2h0M464 225h0M458.5 206.4h0M438.5 188.8h0M415.8 190.3h0M447.7 216.8h0M447.1 188.7h0M432.8 199.7h0M490.8 224.7h0M472 217.1h0M426.1 219.7h0M409.1 223.1h0M454.5 181.5h0M428.3 190.7h0M396.8 222.4h0M468 216.7h0M490.6 207.2h0M406.7 222.4h0M485.6 194.9h0M457.5 219.2h0M444.2 222.8h0M472.2 199.6h0M463.6 188h0M425.7 195.8h0M448.8 193.9h0M445 209h0M466.3 171.8h0M487.2 199.1h0M450.4 193.1h0M476.1 192.1h0M442.7 187.2h0M445.7 221.2h0M445.8 215.7h0M481.5 201.1h0M464.4 178.8h0M453.4 203.7h0M446.3 220.7h0M419.6 196.8h0M415.5 188.2h0M424.4 177.8h0M444.4 181.9h0M468.2 178.2h0M465.9 203.5h0M438.7 188.8h0M475 179.4h0M505.2 221.9h0M455.5 204.7h0M469.3 194.9h0M438.2 179h0M438.7 195.5h0M454.2 192.8h0M423 209.7h0M468.6 203.2h0M467.1 217.1h0M478.8 182.6h0M438.4 215.4h0" stroke="#000" stroke-opacity="0.88" stroke-width="1.8" stroke-linecap="round" fill="none"/>
<path d="M489.1 210.7h0M507.1 222.7h0M465.4 172.2h0M466.4 205.4h0M482.6 224.7h0M457.6 167.9h0M442.2 211.6h0M435.2 200.2h0M440.2 177.3h0M472.9 170.9h0M439 221.2h0M464.9 220.8h0M465 181.3h0M400.4 224.2h0M450.5 213.9h0M447.3 175.9h0M426.2 189.6h0M475.6 189.8h0M473.2 184.2h0M440.6 174h0M459.7 224.2h0M414.7 205.3h0M430.3 200.7h0M483.6 216.4h0M437.3 221.5h0M429.7 181.9h0M450.1 205.3h0M432.4 188.7h0M407.8 210.3h0M424.6 214.4h0M427.7 199.7h0M451.6 210.1h0M490.5 223.6h0M468.5 172h0M447 191.8h0M432.3 214.3h0M467.7 219.2h0M475.3 188.7h0M449.7 197.3h0M447.2 169.7h0M433.8 217h0M456 169.8h0M421 186.5h0M413.3 207h0M473 180.4h0M454.6 216.9h0M415.8 199.8h0M469.4 212.2h0M453 195.1h0M421.5 214.4h0M443.8 195.9h0M450.1 217.6h0M437.3 196h0M450.4 205h0M411.1 195.7h0M437.2 196.6h0M431.1 211.8h0M459.4 170.3h0M398.9 217.3h0M464.5 195.6h0M391.1 223.4h0M436.2 206.9h0M435.6 175.2h0M444.4 215.7h0M457.7 211h0M489.9 202.3h0M405.9 222.3h0M463.1 199.7h0M419.5 198.9h0M437.6 192.8h0M422.1 218.3h0M483.4 194.1h0M414.6 205.3h0M504.7 223.4h0M491.1 207.5h0M466.1 195.5h0M411.1 198h0M434.2 216.8h0M472.7 189.9h0M430.3 203.4h0M427.1 178.8h0M443.8 184.7h0M436.7 196.4h0M422.3 224.3h0M410.6 202.3h0M400.1 212.8h0M454.1 174.6h0M422.2 222.7h0M409.5 220.4h0M484 193.2h0M425.7 210.5h0M469.2 208.3h0M416.8 188.4h0M419.4 215.5h0M428.7 196.8h0M425.2 222.8h0M459.3 211.7h0M474.6 210.2h0M429 185h0M501.1 223.9h0M449.6 188.4h0M475.6 192.7h0M489.3 213.8h0M451 193.8h0M441.2 203.7h0M449.7 176.4h0M455.4 184.7h0M411.5 213.3h0M440.4 221.2h0M470.9 222.6h0M430.4 211.7h0M441.3 184.6h0M509.9 224.8h0M460 184.3h0M460.7 212.4h0M420.5 188.9h0M479.5 200.2h0M472.6 223.2h0M469.1 169.6h0M463.9 221.8h0M417.3 220h0M336.7 225.4h0M441.1 217h0M440.3 188.4h0M462 164.2h0M399.4 216.4h0M410.8 201.3h0M482.3 199.6h0M498.1 220.8h0M432.4 201.3h0M481.8 215.5h0M444 192h0M468.4 180.2h0M432.2 186.2h0M483.1 193.7h0M450.2 211.2h0M417.4 188.3h0M391.3 225.4h0M434.4 220.2h0M471.6 181.8h0M441.2 212.9h0M452.9 170.7h0M478.5 179.9h0M454.3 203.9h0M473.9 178.9h0M440.5 178.4h0M477.4 189.5h0M430.4 206.9h0M482.3 199.5h0M415 210.5h0M412.7 198.9h0M462.2 179.5h0M433.8 182.8h0M412.4 207.1h0M405.8 212.1h0M448.1 171.1h0M414.9 188.7h0M419.9 185.8h0M446.2 188.3h0M419.9 217.5h0M474.8 203.9h0M469.7 215.5h0M484.6 212.2h0M410.2 206.2h0M443.9 204.3h0M469.2 197.8h0M464 195.7h0M400.6 211.5h0M440.7 186.4h0M427.4 197.7h0M477.4 213.8h0M483.7 216.8h0M430.3 210.7h0M425.9 210.6h0M453 171.3h0M424.9 205.8h0M435.3 221.8h0M396.7 220.1h0M411.8 200.6h0M423.5 212.7h0M498.2 215.8h0M458.4 189.9h0M474.3 176.7h0M461.1 167.1h0M491.3 209.1h0M464.4 188.2h0M414.7 219.8h0M431.2 184.4h0M434.1 202h0M456.7 205.3h0M415.6 211.2h0M443.3 179.8h0M447.6 179.1h0M420.1 220h0M438.5 209.6h0M429.9 216.6h0M446.3 217.8h0M490.7 209.2h0M421 213.3h0M484.5 203.6h0M406.1 204.1h0M485.6 193.6h0M454.6 186.7h0M460 202.8h0M481.9 214h0M472.5 177h0M451.3 199.6h0M455.4 185.7h0M445.3 221.2h0M428.4 206.3h0M440 185.9h0M413.7 215h0M445.4 215.1h0M475 179.7h0M469.8 181.8h0M421.8 181.8h0M431.2 191.6h0M492.1 224.1h0M459.5 182.5h0M453 215.9h0M456.3 217.9h0M411.5 199.3h0M409.5 196.7h0M435 190.1h0M499.8 222.4h0M438.6 209.3h0M440 195.6h0M480.6 182.8h0M459.1 221.1h0M438.5 203.4h0M441.3 179.4h0M427 183.6h0M427.2 191.2h0M493.9 224.7h0M436.1 192.5h0M470.4 173.2h0M434.8 188.2h0M404.5 203.4h0M466.3 200.4h0M494.3 210.4h0M438.3 222.2h0M476.1 199.6h0M454.5 170.4h0M450.5 173.6h0M434.5 222h0M402.1 221.2h0M453.3 190.9h0M485.1 192h0M409.4 221.4h0M481.4 186.9h0M412.2 218.5h0M464.6 206.5h0M471.8 171.8h0M411.9 219.2h0M457 178.4h0M449.5 223.5h0M460.2 183.2h0M437.5 193.2h0M456.8 192.7h0M422.8 222.1h0M423.7 199.6h0M430.4 194.9h0M477.8 187.2h0M399.8 221.9h0M481.8 200.1h0M469.3 205.9h0M466.2 191.6h0M470.4 185.7h0M420.7 203.2h0M430.5 188.8h0M418.1 188.6h0M481.5 194.4h0M431.1 184h0M438.2 173.7h0M431.8 190.7h0M506.1 223h0M436.1 174.3h0M399.5 225.1h0M429.5 210.7h0M467.7 186.8h0M455.9 202.4h0M448.4 218.9h0M419.8 208h0M454.9 216.2h0M462.2 168.5h0M440.2 186h0M469.2 220.3h0M416.7 183.5h0M409 197.1h0M425.1 206.1h0M485.3 201.8h0M443.3 196.1h0M470.5 174h0M401.2 224h0M432.5 183.2h0M464.9 172.9h0M453.5 208.9h0M465 166.6h0M488.1 199.2h0M458.3 194.8h0M430.6 195.6h0M450 207.8h0M413.3 189.9h0M485.3 191.5h0M479.9 206.1h0M467.9 209.3h0M467.9 216.7h0M436.4 175.7h0M482.1 225h0M420.3 217.9h0M437.6 191.3h0M490.1 204.7h0M459.9 219.6h0M478.6 204.7h0M462.3 221.5h0M457.3 195.3h0M488.8 205.1h0M452.3 220.8h0M453.7 190.2h0M413.3 204.9h0M474.5 195.9h0M470.1 196.5h0M471.2 181.8h0M448.5 182.7h0M410.5 194.1h0M417.7 202.1h0M409.4 205h0M432.2 205h0M403.2 214.2h0M486.6 202.4h0M474.6 182.6h0M465.3 193.8h0M445.2 197.6h0M430.3 198.3h0M473 201.8h0M474.5 189.2h0M449.1 209.3h0M435.2 203.6h0M430 182.6h0M464.5 214.8h0M438.3 200.4h0M499.8 220.9h0M452 208.5h0M503.5 221.6h0M421 186.3h0M463.9 224.9h0M424.5 179.9h0M431 182.8h0M443.8 172.2h0M428 176.2h0M417.2 209.4h0M434.6 193.4h0M486.9 197.1h0M415.4 217h0M460.6 208.1h0M420.5 208.9h0M487.5 214.9h0M477.4 218.4h0M458.8 203.7h0M509.2 225.4h0M437.8 192.9h0M398.6 223.5h0M435.5 195.8h0M469.7 210.8h0M466.3 224.7h0M410.4 222.9h0M420.4 204.2h0M407.8 204.1h0M508.6 224.5h0M450.5 214.9h0M461.9 186.4h0M486.4 208.1h0M450.1 208.8h0M409.5 221.7h0M474.8 224.5h0M474.6 171.5h0M456.8 175.4h0M392.8 222h0M462.6 190.1h0M412.8 207.8h0M430.5 206.1h0M440.5 200.3h0M435.7 188.1h0M480.3 187.9h0M412.5 214.5h0M453.4 208.1h0M447.5 194.2h0M449.7 210.6h0M456.3 189.4h0M464.9 171.1h0M406.1 225h0M440.4 219.7h0M474.6 200h0M418 188.8h0M493 215.2h0M435.1 197.5h0M435.4 222.7h0M445.7 221.4h0M484.3 191.5h0M466.4 222.3h0M481.6 202h0M416.5 194.9h0M465.9 182.3h0M455.1 168.9h0M471.8 207.1h0M428.5 209.1h0M489.6 202.4h0M395.1 220.8h0M448.9 205.4h0M441.5 176.1h0M457.5 189.9h0M448.5 212h0M481.1 199.1h0M493.8 215h0M439.8 186.5h0M415.5 187.8h0M455.7 224.6h0M441.9 190.3h0M428 179.2h0M476.6 174.9h0M464.4 167.5h0M414.1 187.9h0M418.1 219.5h0M504.4 223h0M408.6 214.3h0M454.7 171.1h0M473.8 213.8h0M453.6 216.1h0M488.3 221.4h0M400.3 223.7h0M483.8 221.6h0M420.2 199.9h0M420.7 215.6h0M479.1 221.9h0M408.4 200.9h0M451.8 215.6h0M469.3 204.5h0M466 209.2h0M462.5 197.7h0M416.9 225.3h0M443.5 174.3h0M494.3 208.1h0M446.1 223.4h0M462.2 166.6h0M477.8 214.8h0M420 182.3h0M474.8 180h0M391.1 222.6h0M425.4 205.8h0M423.4 222.6h0M391.3 221.2h0M465 197.8h0M460 173.7h0M469.8 210.1h0M446.1 177h0M435.2 185.9h0M449.9 169.6h0M432.1 179.5h0M470.7 214h0M404.9 217.4h0M456.6 172.5h0M478.3 214.8h0M488.2 210.5h0M485.4 192.9h0M479.6 181.9h0M476.3 174.9h0M409.7 223.2h0M420.3 212.7h0M418 208.4h0M430.2 211.2h0M433 177.9h0M415.9 216h0M470.3 184.7h0M442.7 205.4h0M449 216.9h0M443.5 203.4h0M473.4 221.3h0M434.3 176.5h0M454.4 195.1h0M396.2 224.8h0M418.3 212.8h0M468.8 206.9h0M484.9 220.3h0M444 197.3h0M428.1 184.8h0M466 177.2h0M458.2 167h0M441.8 217.6h0M451.2 171.2h0M465.8 182.4h0M485.4 204h0M470.5 184.2h0M459.3 184h0M461.4 212h0M457.7 216.2h0M454.1 216.4h0M447.5 204.4h0M405.5 222.6h0M487.3 203.7h0M459 223.9h0M410.5 219.3h0M433.1 211.6h0M485.3 201.5h0M431.8 201.1h0M466.9 179.7h0M449.5 222.9h0M443.9 206.1h0M434 195.9h0M441.9 189.2h0M459.3 171h0M430.5 190.2h0M438.2 224h0M437.5 209.4h0M459.4 178.9h0M447.2 183.6h0M408.8 221h0M508.3 224.4h0M460.2 217.4h0M403.1 220.5h0M487.5 214.4h0M483 192.9h0M441.8 215h0M438 194.2h0M424.2 187.5h0M425.6 176.6h0M412.5 202.9h0M413.9 190.6h0M483.3 188h0M457.2 188.2h0M458.5 224.9h0M457.5 177.2h0M476.9 178.8h0M435.3 192.1h0M439.6 196.2h0M457.6 186.2h0M432.4 186.5h0M475.8 174.3h0M407.9 221.9h0M443.5 199.3h0M452.6 181.4h0M494 208h0M423.9 185h0M413.2 189.9h0M430.5 206h0M437.7 221.6h0M422.2 185.5h0M467.7 170.1h0M486.9 207h0M432.6 189.6h0M455.4 193.2h0M484.1 218.6h0M438.2 217h0M466.4 199.4h0M438.1 184.3h0M450.2 214.2h0M449.2 201.6h0M450.7 191.5h0M420.4 209.2h0M454.2 203h0M412.7 189.8h0M470.5 180.4h0M463.1 184.9h0M405.9 215.1h0M456.9 211.7h0M470 176.5h0M441.2 225.3h0M483.8 204.4h0M396.4 218.2h0M464.4 204.2h0M426 219h0M456 175.3h0M412.5 209h0M477.1 181.2h0M400.3 218.1h0M440.4 207h0M448.2 187.5h0M396.6 224.9h0M414.7 194.1h0M479.4 191.3h0M394.5 224.5h0M469.8 193.3h0M448.9 218.1h0M449.6 210.1h0M449.1 206.1h0M421.7 202.2h0M466.2 221.5h0M472 211.5h0M427.1 223.2h0M424.7 190.2h0M451.6 180.2h0M492.7 213.2h0M466.9 217.8h0M458.1 192.9h0M460.9 195.4h0M425.2 211.4h0M468.9 196.7h0M487.9 204h0M433.6 218.5h0M418.2 189.9h0M468.8 171.3h0M435.5 213.4h0M504.2 221.7h0M450.3 175.8h0M468.1 173h0M461 206h0M491.4 203h0M455.3 192.4h0M428.8 195.3h0M445.1 185.4h0M454.5 205h0M426.1 215.1h0M451.4 191.8h0M395.4 224.7h0M413.6 208.5h0M406.9 206.2h0M481.7 196.5h0M431.7 206.2h0M460.4 170.2h0M496.7 211.5h0M449.9 211.5h0M493.6 219.7h0M415.6 186.5h0M460.2 199.4h0M439.6 215.6h0M476.5 211.8h0M462.7 195.5h0M463 193.1h0M423.6 212.5h0M355.1 225.4h0M484.5 191.6h0M420.7 184.4h0M459.7 173.5h0M480.7 207.2h0M440.3 208.2h0M461.1 200.8h0M414.4 217.7h0M437.7 182.6h0M455.9 179.1h0M424.6 178.7h0M457.1 170.3h0M425.9 191.7h0M415.4 205h0M444.9 178.6h0M442.7 223h0M479.6 222.9h0M414.9 200.5h0M447.8 219.7h0M470.8 221.5h0M482.8 194.2h0M408.4 213.4h0M468.9 219.2h0M434.2 187.1h0M449 222.7h0M437.8 213.8h0M494.2 218.3h0M451.3 204.1h0M418.8 193.8h0M443.3 218.7h0M399 215.8h0M426.4 190.3h0M418 185.5h0M413.2 193h0M451.8 210.9h0M445.4 218.4h0M460.7 177.6h0M458.1 218.5h0M436.9 221.1h0M439.3 223.6h0M489.2 200.1h0M444.6 206h0M407.7 202.6h0M452.2 210.4h0M420.6 200.8h0M399.5 221.2h0M480.5 225.2h0M427.3 191h0M463.9 199.8h0M484.7 210.2h0M449.6 197.9h0M415.4 224.5h0M429 180.8h0M464.1 175.1h0M477.6 215.5h0M426.5 217.3h0M464.6 189h0M476.2 207.4h0M441.8 173.1h0M468.5 165.7h0M464.8 204.7h0M415.8 195.8h0M417.8 217.7h0M429.3 185.5h0M439.9 176.1h0M496.7 224.2h0M405.5 223.4h0M465.2 185.5h0M457.5 214.1h0M403 207.5h0M476.5 213.6h0M471.2 217.8h0M455 182.9h0M405.5 217.8h0M449.9 179.7h0M492.3 211.4h0M422.6 216.5h0M439.4 187.9h0M474.4 173.6h0M462.8 196h0M481.6 215.3h0M439.2 198.2h0M463.2 215.3h0M478.6 196.7h0M473.7 201.9h0M448 202h0M457.6 169.2h0M453.6 169.4h0M450.2 202.8h0M415.9 186.8h0M425.2 203.5h0M490 222.4h0M457.6 209.1h0M439.2 209.8h0M420 185h0M476.4 194.8h0M496.5 215.5h0M409.6 196.9h0M454.4 181.7h0M473.6 202.6h0M474 209.4h0M451.9 181.9h0M464.2 204h0M481.4 185.6h0M483 191h0M499.1 221.9h0M443.9 196.2h0M449.1 192.9h0M446.5 188h0M428.8 183.7h0M470.2 203.9h0M440.2 211.7h0M442.1 185.5h0M418.5 218.4h0M402.3 224.7h0M468.5 170.6h0M478.2 192.3h0M416 220.2h0M451.9 203.3h0M449.5 213.8h0M479.4 219.3h0M467.9 179.9h0M432.7 214.8h0M417.5 225.1h0M471.8 216.9h0M435.1 196.2h0M463.5 196.5h0M433 219.3h0M440.4 182.5h0M488.4 222.4h0M476.6 196.8h0M461.2 216.2h0M459 165.2h0M454.4 189.5h0M437.1 225.3h0M472.1 213.2h0M464.2 208.3h0M471.9 198.8h0M414.5 193.4h0M460.1 216.3h0M461.6 176.8h0M411.8 204h0M466.9 191.6h0M469.3 215.1h0M472 190.2h0M412.4 193.5h0M415.2 214.7h0M396.9 221.9h0M421.6 198.9h0M458.6 178.8h0M408.7 210.1h0M437.2 191.8h0M422.7 214.7h0M446.6 217.7h0M418.9 198.5h0M514.4 225.1h0M483.1 198.4h0M442.9 215.8h0M455.4 176.2h0M487.7 215.8h0M469 172.7h0M430.5 186.6h0M481 203.5h0M446.3 190.9h0M451.6 169.2h0M417 224.3h0M460.8 207.5h0M428.3 178.6h0M398.7 221.9h0M466.9 187.8h0M432.4 176.1h0M421.7 223.3h0M464.3 195.7h0M462.8 173.5h0M430.3 187.3h0M478.6 214.6h0M459.9 222.4h0M428 197.9h0M472.3 173.5h0M427.4 187.1h0M430.7 174.7h0M463.8 219.6h0M475.8 198.1h0M432.6 222.9h0M439.2 182.3h0M445.9 220h0M450.5 189.4h0M478.5 219.3h0M477.6 225.2h0M416.7 216.5h0M479.8 216.3h0M474.9 188.9h0M469.4 221h0M406.1 215.1h0M436.6 199.7h0M459.3 170.5h0M473.2 220.6h0M439.6 190.6h0M440.3 203h0M471.2 201.9h0M424.8 199.5h0M453.3 189.6h0M468 168.8h0M403.5 205.3h0M440.4 191.7h0M467.1 198.8h0M405.8 202.4h0M483.9 201.4h0M460.9 219.2h0M469.1 166.2h0M447.4 182.6h0M425.6 191.6h0M440.1 191.9h0M420.2 181.6h0M449.2 204.5h0M415.9 209.4h0M497.5 213h0M440.8 189.5h0M499.5 219h0M488.7 208.6h0M458.6 216.2h0M470.4 182h0M450.2 200.4h0M474.5 210.7h0M403.6 219.4h0M494.8 220.5h0M481.5 216.3h0M461.4 165.8h0M444 202h0M411.8 210.7h0M453.2 208.5h0M471 185.3h0M443.5 202.2h0M412.1 217.2h0M412 214.7h0M495.7 221.1h0M460.9 212.8h0M428.8 210.4h0M459.9 195.6h0M506.7 221.9h0M487.3 219.4h0M469.1 208.6h0M484.2 197.2h0M415.9 212.9h0M461.9 178.4h0M471.4 217.1h0M423.2 203.2h0M450.6 214.5h0M483.3 219h0M472.2 208.6h0M479.8 184.7h0M429.9 183.6h0M498.3 224.2h0M421.4 217.2h0M474 202.4h0M471.3 180.8h0M461.6 185.4h0M464.7 217.4h0M475 194.8h0M489.2 205.3h0M426.2 189.4h0M416.7 216.1h0M493.7 219.5h0M451.4 186h0M412.2 197.5h0M454.9 202.4h0M432.2 206.8h0M411 211.1h0M475.3 212.4h0M415.1 214.1h0M476.8 192.5h0M493.3 209.5h0M459 168.8h0M478 187.7h0M478.8 211.7h0M463.7 221.7h0M463.2 181.2h0M430.4 185.1h0M446.7 202.6h0M440.8 204.6h0M459.5 177.6h0M459.8 173.9h0M431.6 206.9h0M469.6 172.7h0M425.1 194h0M410 200.3h0M460.5 224.3h0M415.9 210.1h0M468.1 173.4h0M414.1 203.5h0M466.5 184.1h0M467.6 173.4h0M465.3 218.8h0M439.9 207.7h0M420.7 211.2h0M483.3 220.7h0M439.2 180.1h0M425.1 210.1h0M416.7 224.8h0M472.3 205.4h0M472 191.5h0M426 182.8h0M422.6 203.8h0M440.9 217.9h0M476.4 200.9h0M423.4 211.1h0M399.8 213.5h0M470.2 179.2h0M434.6 200h0M410.6 210.7h0M455.8 193.6h0M428.7 201.4h0M498.4 224.2h0M495.4 209.8h0M461.4 215.2h0M470.4 189.4h0M484.5 213.1h0M448.8 199.9h0M419.5 201.2h0M464.2 223.6h0M420.5 185.8h0M421.7 191.9h0M495.8 218.2h0M420.7 220.9h0M462.7 168.6h0M435.2 207.3h0M460.5 193.4h0M426.8 202.9h0M440 178.7h0M476.6 176.3h0M449.1 219.3h0M425 185.3h0M420.9 205.1h0M433.2 175.8h0M430.3 193.5h0M435.3 195.5h0M496.7 222.4h0M414.8 219.9h0M413.5 204.3h0M449.8 210.5h0M425.5 218.6h0M450 192.4h0M495 222.5h0M463.2 167.7h0M425.6 199h0M419.2 206.6h0M489 216.9h0M471.5 174.6h0M473.1 186.7h0M417.9 199.5h0M452.2 215.6h0M444.7 224.1h0M423.2 205.9h0M486.2 214.7h0M404.6 215.9h0M446.3 216.3h0M454.8 211.4h0M413 222.3h0M437.7 205.7h0M461.6 184.1h0M483.7 195.6h0M430.3 207.7h0M429.4 179.3h0M476.6 204.6h0M429.4 216.2h0M480.6 223.5h0M454.7 180.7h0M473.8 186.3h0M413.7 216.3h0M431 213.9h0M463.8 176.7h0M409.1 207.3h0M416.8 198.2h0M423 186h0M419.2 202.2h0M462.8 210.4h0M433.8 180h0M440.9 179.4h0M464.3 199.5h0M459 192.6h0M438.9 199.6h0M450.1 213.7h0M457.2 219.3h0M465.7 180.2h0M450.1 189.9h0M492.6 208.7h0M444.7 193.3h0M466.1 203.6h0M443 191.5h0M467.7 170.7h0M457.8 168h0M449.5 170.5h0M455.3 190.2h0M438.4 183h0M469.6 198h0M472.4 205.2h0M409.6 213.5h0M486.1 204.9h0M463.8 193.9h0M484.2 197.9h0M443.3 176.7h0M460.8 181.4h0M470.3 169.8h0M482.1 204.7h0M423.6 180.3h0M440.1 207.2h0M481.5 188.8h0M466 206.5h0M474.6 186.4h0M444.5 216.5h0M395.1 221.6h0M453.7 208h0M422 183h0M459.6 190.8h0M437.3 189.2h0M411.9 191.9h0M456.6 218.7h0M418.2 201.8h0M402.4 224.4h0M462.5 196.3h0M409.9 224.6h0M419.5 191.4h0M405.5 208.7h0M441 179.2h0M474.8 209.4h0M449.8 217.7h0M443.3 198h0M471.9 169.3h0M444.9 207.7h0M420.5 193.3h0M474.4 186.2h0M451.3 193.6h0M420.8 187.2h0M439.3 178.7h0M397 215.2h0M449.9 186.8h0M420.5 208.2h0M442.1 192.2h0M445.6 193.5h0M452.4 190.6h0M427.6 207.5h0M461.2 189h0M465 169.6h0M451.2 167.1h0M396.9 225.2h0M464.7 205.9h0M427.7 212.2h0M484.4 212h0M476.6 223.4h0M438.9 210.9h0M435 202.7h0M433.5 178.9h0M427.5 214.9h0M422.3 206.3h0M437.8 201.2h0M481.5 191.6h0M412.4 209h0M463.9 218.8h0M471.6 225.1h0M429.4 189.8h0M450.4 190.3h0M429.4 224.7h0M449 221.3h0M412.5 202.5h0M430.1 219.9h0M460.7 224.7h0M442.5 206.4h0M416.6 213.8h0M388.4 223.9h0M406.8 204.8h0M474.7 208.1h0M480.3 190.6h0M455.4 179.1h0M438.4 213.2h0M459.3 204.1h0M431.9 189.7h0M449.6 214.4h0M470.5 178.3h0M426.7 214.6h0M443 220h0M425.5 184.9h0M471.8 211.9h0M448 196.2h0M469.7 222.4h0M427.6 180.4h0M476 202.1h0M459.7 178.9h0M426.5 224.1h0M467.2 165.5h0M451.6 179.9h0M463.4 204h0M404.4 218.1h0M483.1 203.7h0M465.2 167.2h0M443.4 172.3h0M447.8 206.4h0M458.5 170.5h0M424.1 182.1h0M476.5 207.9h0M465.8 166.2h0M475.5 179.8h0M428.9 203h0M436.8 205.5h0M464.2 173.1h0M485.5 219.1h0M455.5 212h0M437.1 203h0M455 189.1h0M422.6 178.2h0M455.3 207.4h0M443.2 208.9h0M484.7 195.1h0M423.6 180h0M451.8 211.6h0M463.6 189.3h0M483.6 209.5h0M407.8 212.1h0M446.8 201h0M422.5 220.7h0M452.7 197.1h0M459.7 205.9h0M407.3 220.3h0M460.7 220.6h0M422.1 201.9h0M474 214.9h0M424 223.8h0M415.9 199.3h0M459 165.6h0M435.6 184.9h0M458 190.1h0M455.3 176.8h0M455.1 205.5h0M488.9 210.3h0M410.3 211.5h0M420.4 218.4h0M502.8 223.1h0M457.2 191.3h0M460.3 207.7h0M471.8 224.1h0M446.9 206.7h0M461.9 194.2h0M451 184.6h0M475.8 206.6h0M414.5 190.7h0M450.8 179.3h0M459.2 173.4h0M417.9 211.8h0M463.5 223.3h0M449.8 180.6h0M436.4 194.1h0M406.8 211.9h0M429.7 220.3h0M440 176h0M416.9 216.2h0M471.2 194.2h0M458.7 172.8h0M479.1 216.3h0M473.5 201.3h0M406.1 207.9h0M477.4 220.3h0M439.9 208.8h0M463.4 164.2h0M395.9 217.3h0M403.7 218.1h0M430.1 194.6h0M411.7 218h0M468.5 167.6h0M472 196.8h0M473.9 172.6h0M477.1 198.8h0M411.8 209.4h0M439.3 180.2h0M434 221h0M485.3 211.9h0M466.8 208.7h0M441.4 189.6h0M482.9 212.5h0M477.6 223.1h0M483.4 210.4h0M469.2 207h0M459.5 193.1h0M420.8 211.1h0M454.5 225h0M462.1 220.5h0M451.7 184.1h0M488.7 214.5h0M464.2 190.6h0M465.7 183.3h0M461.1 171.1h0M438.4 205.7h0M451.7 182.4h0M424.8 179.2h0M417 188.8h0M472 209h0M478.1 217.2h0M444.8 194.6h0M468.8 177.3h0M455.2 187.9h0M489.5 206.9h0M464.7 166.2h0M438.2 204.7h0M449.9 176.7h0M437.8 189.4h0M400 220.6h0M443.9 197.9h0M425.2 213.1h0M445.8 207.2h0M406.9 201.5h0M444.6 194.5h0M438.6 194.8h0M418.6 220.8h0M429.1 209.9h0M475.2 199.1h0M420.5 198.8h0M445 180.8h0M438 222.5h0M408.1 221.6h0M423.1 195.7h0M456.1 222.3h0M460.8 188.2h0M469.1 188.2h0M414.8 207.4h0M447.2 196.3h0M468.2 165.8h0M440.3 181.1h0M442.6 208.7h0M423.6 184.2h0M433.5 194.7h0M432.3 198.5h0M472.9 172.6h0M428.9 216.5h0M466.7 171.3h0M424.2 188h0M474.4 188.6h0M415.2 221.9h0M472.9 201.4h0M479.7 201.3h0M470.1 220.6h0M468.8 171.6h0M487 204.4h0M454 180h0M483.8 203.8h0M476 189.5h0M448.3 172.5h0M464.9 209.8h0M454.7 217.8h0M421.3 217.5h0M469.4 207.3h0M409.2 205.5h0M489.4 214.8h0M450.9 193.5h0M417.6 187.4h0M445.6 206.5h0M462.9 169.6h0M419.9 201h0M419.4 218.7h0M464.5 209.4h0M414 197.8h0M434.3 175.6h0M471.1 191.2h0M484.3 189h0M420.3 200.7h0M469.2 206.4h0M413.4 225.4h0M435.7 219.3h0M467.2 202.2h0M459.9 176.6h0M463.5 185h0M476.3 211.3h0M440.6 197.5h0M454.6 217.6h0M416.4 190.8h0M473.4 181.9h0M450.1 225.3h0M489.1 215.4h0M459.8 195.6h0M410.8 204.4h0M419.7 187.7h0M426.6 194.3h0M449.4 176.1h0M465.4 181.9h0M473.8 221h0M489.2 219.4h0M458.6 198.3h0M490 223.9h0M452.4 172.6h0M448.5 191.4h0M448.8 188.4h0M487.8 215.3h0M470.4 189.7h0M460.7 167.6h0M429.2 184.5h0M459.7 192.6h0M486.2 200.6h0M413 211.6h0M483.6 209.1h0M434.3 201.9h0M475 207.1h0M460 209.2h0M443.2 178.3h0M454.7 211.5h0M445.2 208.8h0M470.4 202.6h0M434.4 177.4h0M451 198.6h0M470.8 220.2h0M427.5 188.4h0M478.4 225.1h0M455.1 178.4h0M432.6 218.6h0M442.8 206.5h0M470.2 217.4h0M405.8 223.3h0M440 190h0M428.9 202.6h0M483.4 198.4h0M445.8 225.3h0M498 214.9h0M460.5 192.2h0M477.1 177.6h0M414.5 217h0M475.5 195.5h0M465 172.8h0M478.4 198.5h0M456.9 186.5h0M441.1 210.7h0M418.9 185.1h0M482.5 187h0M400.3 223.3h0M458.4 179.8h0M447.9 216.5h0M413.8 212.8h0M453.5 196.2h0M479.2 213.9h0M474 203.6h0M427.1 179.6h0M421.4 187.5h0M461.3 204.2h0M480.3 223.1h0M464.1 171.4h0M474.4 192.4h0M445.7 219.8h0M426.9 200.1h0M453.3 191.6h0M435.7 221h0M451.7 205.5h0M449.7 219.4h0M468.1 179.7h0M417.2 220.7h0M420.4 219.2h0M487.6 224.9h0M402.3 223.6h0M415.9 221h0M422.7 211.7h0M459.7 168.6h0M433.3 196h0M420.4 210.1h0M489.5 210.3h0M455.3 209.3h0M464.4 208.1h0M447.8 173.5h0M449.5 223.3h0M425.5 188h0M503.3 223.6h0M470.8 203h0M486.9 206.5h0M445.7 186h0M402.9 216.4h0M473.2 183.1h0M477.1 209.4h0M454.5 198.2h0M465 204.5h0M466 189.4h0M475.4 205.5h0M442.3 178.7h0M497.3 224.3h0M421.6 220.9h0M471.7 189.6h0M459.6 189.4h0M425.7 204.3h0M475.4 200.3h0M397.7 218.7h0M445.5 170.3h0M427 220.3h0M499.8 218.8h0M400.4 213.4h0M449.5 224.4h0M459.2 165.7h0M473.5 187.5h0M451.5 201.6h0M411.8 221.2h0M458.4 213.9h0M458.1 223.7h0M463.2 179.3h0M415.6 194.6h0M475 181.9h0M489.6 214.8h0M457.6 192h0M451.1 189.3h0M471.3 184.2h0M440 216.8h0M460.9 187.8h0M433.8 200h0M446.1 202.3h0M409.4 202.8h0M399.8 218.5h0M462.9 186.2h0M469.8 181.6h0M436.4 208.9h0M423.6 203h0M442.8 192.4h0M467.2 179.7h0M461.5 182.4h0M432.8 207.4h0M418.2 196.1h0M451.1 190.5h0M435 209.3h0M464.8 172.4h0M487 217.1h0M437.8 194.1h0M453.6 215.5h0M470.8 189.1h0M479.2 191.3h0M489.8 219.4h0M432.4 183.3h0M466.2 189.9h0M436.6 178.9h0M484.6 196.6h0M398.6 220.1h0M459.8 217.3h0M455.6 181.9h0M464.4 223.3h0M431.1 188.9h0M417.9 200.7h0M403.5 223.3h0M453.5 193.5h0M476.6 185.1h0M399.3 212.2h0M487.6 221.6h0M464.5 169.8h0M440.1 188.5h0M455 174.3h0M461.5 177.2h0M410.6 198.7h0M460.3 203.3h0M470.4 177.9h0M450.8 202.7h0M478.3 191.6h0M446.9 215h0M440.1 211.7h0M490.2 222.2h0M460.2 175.4h0M407.9 223.7h0M475.4 179.3h0M438.8 172.8h0M422.2 224h0M482.7 224.5h0M495.7 216.6h0M440.1 179.1h0M467.9 219.3h0M439.2 209.3h0M441 173.1h0M454.6 180.2h0M439.2 173.2h0M482.1 199.7h0M386.2 224.5h0M432.1 219.1h0M450.4 169.8h0M427.5 197.9h0M402.3 211.9h0M472 174.5h0M471.7 180.7h0M440 182h0M431.1 215.2h0M416.4 206h0M467.2 211.3h0M442.7 224.1h0M425.9 176.2h0M460.1 170.9h0M422.2 179.6h0M462.8 178.4h0M453.1 203.4h0M455.1 224.4h0M420.4 196.2h0M394.8 222.6h0M453.9 219.3h0M424.5 207h0M446.7 224h0M441.5 214.3h0M459.6 167.2h0M434.7 180.9h0M454 166.3h0M442.9 193h0M408 217.6h0M466.2 219.8h0M450.5 186.4h0M498.2 222h0M462.8 216h0M412 196.3h0M478.8 217h0M432.5 191.6h0M407.4 198.5h0M459.1 172.3h0M423.5 179.5h0M456.5 197.9h0M468.3 172.3h0M488.7 199.5h0M445.7 183h0M414.1 207.1h0M442.6 178h0M471.5 192.5h0M426.3 196.6h0M485.2 207.4h0M465.2 190h0M464.5 213h0M442.6 173.9h0M438.6 210h0M498.1 214.9h0M484.3 220.1h0M446.7 222.8h0M454.7 216.2h0M483.2 189h0M412.6 217.4h0M441.8 190.1h0M443.8 214.8h0M456.8 197.5h0M431.5 218.2h0M425.3 203.4h0M437.8 176.6h0M463 176.2h0M440.6 211.6h0M427.6 213.3h0M464.6 182.6h0M485.4 218.4h0M450 212.1h0M410.9 205.8h0M445 209.9h0M460.4 189.3h0M469.6 182.3h0M460.9 221.6h0M448.4 217.1h0M467.9 197.7h0M430.6 190.3h0M459.1 219.5h0M483.2 213.7h0M450.8 167.9h0M413 222.6h0M490.8 223.6h0M370.3 225.4h0M428.5 192.4h0M456.2 212.4h0M435.2 199.1h0M409.7 206.4h0M494.2 212.3h0M411.4 201.9h0M484.1 219.4h0M459 205.2h0M460.2 214h0M436 204.4h0M479.6 212.5h0M474.5 184.3h0M414.4 214.9h0M450.7 200.2h0M407.6 219.3h0M476.6 199h0M442.3 190.9h0M421.9 216.2h0M476.2 215.1h0M439.8 186.8h0M473.5 211.2h0M399.1 216.7h0M443.4 191h0M464.5 173.2h0M410.9 219.7h0M442.5 215.1h0M450.8 222h0M504.4 224.6h0M464.6 196.9h0M475.8 196.1h0M435.2 201.7h0M457.6 168.7h0M454.8 177.6h0M463.7 169.3h0M461.4 165.4h0M446.4 187.3h0M444.6 218.4h0M475 173.3h0M476.6 219h0M474.8 190.5h0M414.9 215.2h0M484.3 217h0M429.8 188.3h0M464.6 180.9h0M446.7 206.4h0M448.8 194.1h0M454.2 212h0M436 201.6h0M402.6 221.4h0M438 193.1h0M466 200.4h0M439.6 189h0M459.4 219h0M453.4 210.7h0M475.6 206.1h0M440.2 188.1h0M471.9 205.2h0M444.9 216.5h0M442.3 213.1h0M414.8 204.5h0M468.3 221.2h0M430.4 193.2h0M467.7 191h0M438.2 209.6h0M470.1 221.3h0M432.6 209.1h0M465.4 211h0M479.8 183.8h0M463.1 182.9h0M465 186.5h0M481 224.7h0M474.3 171.4h0M435.9 206h0M425.7 183.2h0M432.1 220.8h0M416.4 188.5h0M474.8 196.8h0M475.6 206.7h0M408 216.5h0M479 209.4h0M449 197.2h0M418.4 211.7h0M444.4 174.9h0M444.9 206.2h0M469.2 224h0M468.8 197.4h0M406.7 220.8h0M413.9 204.7h0M486.2 207h0M438.6 224.3h0M409.1 213.2h0M459.2 189.2h0M443.1 208.3h0M427.7 200.8h0M479.2 196.1h0M474.3 196.5h0M461.8 208.4h0M465.9 184.8h0M478 222.2h0M434.9 198h0M434.8 201h0M464.7 204.1h0M407.7 202.1h0M435.9 224h0M425.1 191.9h0M418.2 224h0M474.3 192.9h0M447.3 222.1h0M476.4 188.7h0M461.6 203.1h0M460.5 218h0M445.1 174.1h0M449.6 225.2h0M475.1 217.3h0M481.9 221.7h0M434.1 215.7h0M458.9 208.2h0M475.3 179.5h0M457.9 182.3h0M453.8 208.6h0M411.8 209.1h0M430.6 196.5h0M462.2 173.8h0M472.7 176.1h0M498.3 217.8h0M450 191.3h0M488.7 220.1h0M452.8 218.8h0M433.1 197h0M463.1 173.5h0M455.5 186.7h0M457.7 218.9h0M476 204h0M467.7 200.7h0M415.6 200.4h0M440.3 200.8h0M474.6 195.1h0M419.3 198.7h0M406.6 200.8h0M453.8 193.6h0M459.2 172.5h0M448.8 169.8h0M401.1 217.2h0M433.6 197.9h0M406.9 221.3h0M443.3 217.5h0M476.7 182.9h0M481 197h0M420.2 190.7h0M483.2 199.6h0M418.4 187h0M429.6 178.2h0M431.8 202.1h0M425.1 218.4h0M443.6 221.4h0M460.1 170.3h0M426.3 182.5h0M444.4 172.6h0M419.3 198.7h0M481.4 195.9h0M398.5 218.8h0M463.1 224.1h0M474.6 201.1h0M433.5 186.8h0M469.5 183.3h0M468.2 170.6h0M507.3 223h0M422.3 182.9h0M485 220h0M459.3 221.8h0M495.8 209.8h0M451.7 183h0M434.2 217.6h0M403.9 205.4h0M425.8 224.1h0M414.2 198.7h0M456.3 217.3h0M465.6 189h0M441.9 206.1h0M449.7 196.4h0M421.8 182.5h0M455.7 190.4h0M463.8 217.1h0M422.9 182.8h0M442.5 225.3h0M437.6 184.3h0M444.4 197.7h0M451.6 212.4h0M433.1 216.4h0M450.9 196.2h0M479.4 182.3h0M437.9 208.1h0M457.3 181.5h0M435.8 195.3h0M464.4 164.8h0M457.6 174.8h0M420.5 183h0M454.7 168.5h0M478.6 184h0M421.6 202h0M462.1 206.3h0M464.4 190.6h0M423.7 216.6h0M448.1 184h0M462.8 221.9h0M465.3 216.3h0M415.1 195.6h0M423.8 224.6h0M419.1 215.2h0M404.6 224h0M484.4 207.9h0M455 199.2h0M448.6 182.7h0M441.9 176h0M461.7 188.3h0M451.8 198.6h0M430.3 190.5h0M441 220.7h0M489.3 225.1h0M460.3 224.2h0M467.7 184.4h0M431.9 187.2h0M422.8 210.4h0M443.2 190.8h0M470 190.6h0M475.2 205.3h0M477.4 187.8h0M475.4 173.5h0M396.7 221.1h0M445 201.9h0M473.4 175.8h0M465.2 193.1h0M418.1 187.3h0M463.9 201.9h0M491.6 218.2h0M406.4 215h0M419.2 208.2h0M488.9 207.4h0M437.7 189h0M450.1 185.3h0M453.6 172.5h0M473.9 192h0M480.1 183.1h0M404.8 222.4h0M429.3 216.9h0M471.8 219.4h0M444.1 209.6h0M426.6 215.6h0M460.6 190.2h0M438.2 192.5h0M456.7 165h0M415 190.3h0M463.9 205.6h0M482.8 207.5h0M489.6 203.3h0M459.7 212.5h0M442.6 206.9h0M449.6 216.6h0M457 214.4h0M430.6 198.2h0M446.7 208.3h0M494.2 207.3h0M402.3 218.5h0M421.3 216.7h0M468.7 220.7h0M416.3 221.4h0M484.2 211.3h0M401.2 225.3h0M454.8 172.8h0M484.8 210.1h0M493.6 217.5h0M404 208.4h0M471.6 223.8h0M428.5 215.3h0M417.8 225.2h0M434.7 174.8h0M471.5 222.4h0M430.1 187.5h0M439.5 209.4h0M420.2 194.1h0M449.5 210.2h0M432.4 199.4h0M467.5 197.7h0M447.1 180.6h0M477.8 182.5h0M475.1 212.3h0M420.3 199.8h0M481.4 211.4h0M412.2 196.9h0M487.4 221.1h0M465.7 218.7h0M476.9 220.5h0M448.9 220.3h0M474.2 185.1h0M440.3 206.4h0M467.7 218.5h0M475.6 223.2h0M440.4 213.8h0M466.4 176.2h0M426 222.6h0M481.6 197.1h0M492.5 213.5h0M485.6 214h0M471 175.7h0M451.9 201.5h0M460.1 184.8h0M463.2 195.3h0M450.1 168.1h0M439 188.4h0M455.8 194.6h0M486.3 206.5h0M432.5 219.7h0M469.4 186.3h0M414.3 212.6h0M454.1 178.7h0M403.8 225.3h0M469.2 197.4h0M468.6 200.2h0M456 197h0M415.3 203.2h0M468.1 179.7h0M424.1 199.2h0M420.9 209.6h0M410.2 209h0M446.2 202h0M453.7 173h0M431 206.9h0M430.3 204.6h0M441.5 188.8h0M461.6 220.9h0M474.5 185.7h0M429 198.5h0M420.6 223.7h0M461.6 208.3h0M478.8 219.6h0M475.1 175.2h0M445 187.7h0M469.9 207.5h0M392.2 224.5h0M457.8 219h0M417.8 223h0M450.2 199.6h0M423.1 217.4h0M440.3 216.5h0M396.4 224h0M421.9 204.4h0M462.3 189.4h0M475.9 180.9h0M438.8 186.8h0M462.1 224.8h0M454.7 184.5h0M455.8 192.3h0M494.4 210.8h0M416.6 210.6h0M469.5 204.5h0M415.8 185.3h0M437.2 214.7h0M450.6 194.2h0M436.7 177.4h0M443.8 190.5h0M466.1 184.1h0M438.4 177.1h0M482.3 208h0M462.6 167.6h0M453 222.1h0M485.6 208.1h0M482.7 207.8h0M448.2 204.8h0M427.8 217.6h0M492.9 210.7h0M460.7 184.7h0M440.1 179.6h0M436.9 210.3h0M420.7 190h0M414.9 206.3h0M463.7 181.4h0M424 201.1h0M424.9 178.9h0M443.9 224h0M486.6 199h0M457.4 221h0M472.6 222.9h0M459.8 202.2h0M479.5 201.5h0M433.9 222.6h0M412.8 212.1h0M467.5 215.3h0M419.2 199.7h0M422.1 181.8h0M425.2 186.8h0" stroke="#000" stroke-opacity="0.88" stroke-width="1.8" stroke-linecap="round" fill="none"/>
<path d="M448.5 188.2h0M434.8 206.5h0M390.8 224.1h0M405.7 220.5h0M470.3 198.6h0M473 194.1h0M465 207.4h0M430.4 221.7h0M468.1 202.1h0M476 184.1h0M475.6 204.3h0M452.3 218.8h0M462.9 223h0M489.2 206h0M461.6 181.6h0M456.9 172.9h0M412.8 189.2h0M422.2 222.5h0M420.9 186.7h0M436.5 210.1h0M458.5 206.7h0M472.1 223.6h0M459.7 178.6h0M461 183h0M444.3 187.2h0M443.1 191.6h0M475.6 189.1h0M402.9 225.3h0M452.8 219.7h0M495.8 212.7h0M415.4 221.1h0M458.2 173h0M470.2 212.2h0M446.1 187.7h0M395.4 218.8h0M473.2 213.6h0M467.7 187.9h0M460.9 197.8h0M431.8 179.4h0M443.9 193.8h0M434.6 184.6h0M411.6 195.1h0M465.7 194.1h0M474.6 193.1h0M434.7 195.3h0M410.5 196.4h0M483.1 199.3h0M425.2 196.3h0M443.5 190.9h0M478.7 195.6h0M466.7 172.5h0M448.3 209.8h0M467.9 220.6h0M422.3 180h0M465.9 168h0M493.9 214.3h0M436.6 197.4h0M466.1 167h0M454.4 191.5h0M452.1 216.1h0M435.5 220.2h0M439.8 223.8h0M476.3 190.4h0M445.2 198.1h0M492.6 223.7h0M424.7 217.6h0M477.4 178.8h0M442.2 177.7h0M420.4 201.6h0M401.9 210.1h0M423.7 197.8h0M456.1 166.7h0M464.7 194.9h0M465.3 175.5h0M418.1 219.5h0M466.7 169.4h0M418.8 201.4h0M488.7 207.5h0M448.5 197.2h0M438 204.4h0M426.3 206h0M459.5 212.7h0M485.8 198.5h0M405.8 218.3h0M459.7 184.5h0M489.4 201h0M488.3 210.3h0M470.9 217.2h0M450.2 186.8h0M411.1 207.4h0M461 195.3h0M406.6 207.2h0M417.1 208.7h0M486.8 199.3h0M448.7 206.9h0M458.8 164.7h0M498.5 217h0M448.1 191.9h0M478 193h0M396.2 225.3h0M473.8 172.8h0M464.4 182.9h0M416.6 196.8h0M465 224.4h0M451.9 181.3h0M483.7 198.5h0M464.5 195h0M471.5 175.4h0M413.1 224.4h0M476 186.6h0M460.2 182.7h0M445.1 190h0M447.8 170.5h0M459.7 194.5h0M461.7 165.8h0M461.5 191.1h0M458.2 187.4h0M425.7 182.8h0M407.4 201.6h0M444.1 193.3h0M459.1 186.9h0M488.3 196.3h0M486.4 207h0M495.8 213h0M449.7 193.7h0M434.8 190.9h0M460 176.3h0M419.2 199.2h0M410.3 201.5h0M483.1 199.6h0M406 215.1h0M415.3 194.3h0M454.6 205.8h0M450.4 200.5h0M479.1 195.1h0M435.3 191.3h0M492.4 223.2h0M433.6 180.5h0M441.4 215.1h0M438 219.7h0M439.6 186.1h0M485.6 201.7h0M443 213.2h0M463.7 184.1h0M433.5 210.5h0M470.4 212.6h0M464.1 178.4h0M434 174.6h0M493.1 221.2h0M495.8 219.6h0M462 190h0M466.3 197.6h0M436.3 218.9h0M431.6 201.6h0M448.5 212.9h0M425.2 213.3h0M470.4 191.3h0M439.2 215.3h0M462.2 200.4h0M464.6 212.2h0M439.8 218.5h0M428.1 178.7h0M479.8 207.3h0M401.9 219.7h0M442.9 208.3h0M469.3 170.3h0M479.2 187.5h0M445.6 192.9h0M415.6 202.9h0M478.4 177.4h0M488.8 207.9h0M428.9 208h0M399 225.4h0M459.4 169h0M445.5 197h0M432.1 187.6h0M475.1 206.4h0M476.8 223h0M420 206h0M483.9 199.6h0M451 192.9h0M445.8 194.7h0M481.4 218.1h0M456.4 218.8h0M468 217.5h0M475.6 175.1h0M502 217.9h0M449.3 200.8h0M478.6 223.2h0M398.5 216.3h0M441.9 187.6h0M435.2 174h0M483.2 188.1h0M437.5 194.5h0M474.1 225.1h0M425.4 206.8h0M464.4 193.5h0M396.8 220.7h0M510.1 224.2h0M442.6 223.4h0M426.4 196.3h0M492.4 209.2h0M402.7 208.4h0M452.2 169.3h0M420.2 216.9h0M470.4 221.7h0M455.5 175.8h0M480.9 212.6h0M444.6 170.9h0M445.7 200.2h0M477.2 200.5h0M440.1 191.4h0M439 190.9h0M480.9 221.3h0M480.5 220.6h0M481.8 196.5h0M474.2 174.6h0M485.5 222.6h0M484.9 190.1h0M455.6 166h0M463.6 210.7h0M428.8 181h0M423.1 206.3h0M457.8 206.7h0M423.7 183.7h0M426.8 218.5h0M425.2 205.6h0M436.9 216.8h0M447.8 175.4h0M418.3 214.3h0M479.4 211.3h0M425.5 201.2h0M451.8 220.7h0M425.8 192.8h0M448.1 192.9h0M488.9 216.1h0M463 197.5h0M415 207.3h0M474 184.6h0M434.1 215.7h0M437.3 193.7h0M478.5 204h0M479.1 195.1h0M428.3 197.9h0M473.6 177.8h0M484 219.7h0M465.6 175.5h0M437.7 225.1h0M481.5 214.6h0M446.9 210.2h0M477 210.3h0M418.1 216.3h0M424.9 195.4h0M416.6 208.5h0M442.6 224.5h0M479.2 213.4h0M421 188.8h0M431.1 191.1h0M446.5 183.5h0M497.8 215.6h0M461.5 223.8h0M449.9 171.9h0M434.9 209.3h0M480.5 205.5h0M426.3 201.4h0M400.6 213.6h0M471.7 213.5h0M455.2 209.1h0M479.4 214.5h0M440 214.3h0M420.1 189.3h0M462.8 182.9h0M437.5 220h0M430.7 202.2h0M442.8 223.2h0M435.4 199.4h0M472.6 214.1h0M451.8 199.4h0M430.6 222.6h0M453.6 208.4h0M440.2 196.1h0M483.2 219.9h0M411.3 218.8h0M454.9 210.8h0M412.6 207.2h0M416.4 201.1h0M405.8 225.2h0M469.4 189.7h0M449.6 204.2h0M462.9 177.1h0M483.6 198.8h0M482.4 209.2h0M438.5 203.4h0M454.7 167.7h0M454.8 182.1h0M451.2 223.4h0M446.3 197.5h0M465.3 185.7h0M440 192.3h0M407.4 205.3h0M444.5 205.4h0M431.1 202.5h0M457.7 216.7h0M486.6 221.6h0M469.4 192.2h0M482.8 216.5h0M422.7 193.4h0M459.5 176.5h0M474.3 191.2h0M406.1 213.4h0M495.1 212.2h0M468.3 223.9h0M478.9 204.7h0M479.2 218.3h0M427 192.5h0M435.5 180.3h0M472.9 184.3h0M456 179.4h0M467.1 209.8h0M456.5 216.2h0M484.7 198.2h0M431.5 186.7h0M440.7 218.3h0M487 195h0M455.2 219.4h0M450.2 201.9h0M436.6 221h0M445.4 205.7h0M425 224.1h0M469.3 209.2h0M473.5 216.3h0M429.6 206h0M404 218h0M489.9 219.5h0M402.4 211.7h0M446.9 180.2h0M453.9 222.5h0M462.2 214.4h0M479.8 196.9h0M440 203.7h0M411.8 196.2h0M443 175.3h0M482.1 211.3h0M447.8 205.4h0M410.5 200.1h0M439.2 195h0M486.3 198.8h0M436.9 180.3h0M472.1 169.8h0M407.7 211.4h0M449.4 177.4h0M415.9 196.8h0M412.8 215.9h0M419.5 201.1h0M434.8 203.9h0M479.7 221.4h0M457.4 177h0M456 215.8h0M435.3 175.3h0M458.5 215.4h0M395.4 223.1h0M425.8 208.7h0M461.2 222.1h0M468.9 184.8h0M447.1 222.9h0M396.3 216.3h0M478.7 215.5h0M474.4 190.6h0M453.1 181.5h0M430.6 220.2h0M481.5 205.5h0M453.2 198.9h0M485.6 201.9h0M439.9 187h0M487.1 195.7h0M473.4 186.8h0M487.9 200.6h0M416.7 211.1h0M418.9 219.6h0M452.9 196.7h0M425.3 192.1h0M413.1 207.5h0M470.3 212h0M468 177.2h0M493.9 222.4h0M463.5 199.5h0M416.5 188.8h0M415.4 204.9h0M469.8 217.9h0M445.2 193.6h0M459.3 186.3h0M480.4 184.1h0M424.5 222.6h0M484.1 193.7h0M497.7 213.6h0M483.8 220.7h0M455.2 172h0M418 215.3h0M483.3 189.1h0M468.4 184.6h0M417.7 214.9h0M441.8 199.7h0M422.7 216.1h0M464 199h0M449.1 192.2h0M450.6 199.4h0M485.3 220.5h0M440 208.7h0M435 210.2h0M442.8 214.8h0M411.7 222.6h0M438.4 208.8h0M421 182.1h0M478.4 212.3h0M473.3 221.6h0M454.9 198h0M469.3 224.6h0M436.4 218.8h0M479.1 194.9h0M459.2 210.3h0M449.3 206.3h0M429.9 189.1h0M476.3 221.2h0M454.4 182.2h0M416.3 184.4h0M454.5 196.5h0M464.6 188.8h0M475.7 191.8h0M451.8 193.7h0M451.1 222.5h0M480.3 212.1h0M440.1 175.1h0M470.6 215h0M437.4 173.5h0M450.1 224.3h0M451.5 213.3h0M435.5 189.9h0M433.6 182.8h0M450.5 189.2h0M470.5 178.9h0M433.9 179.7h0M416.2 195.9h0M431.3 186.9h0M440 210h0M462.8 176.9h0M440.3 191.5h0M425.2 199.4h0M481.7 189.7h0M436.9 218h0M463.9 197.4h0M425.6 195.1h0M397.9 214.4h0M459.6 195.8h0M436.2 200.7h0M408.6 206.5h0M460.2 207.9h0M454.1 182.7h0M462.5 208.5h0M427.1 196.6h0M457.4 215.6h0M435 206.3h0M485.2 210.8h0M449.7 172.4h0M423.1 193.3h0M452.4 172.3h0M511.2 224.2h0M482.4 208.6h0M438.9 215.3h0M461.2 205.2h0M440.5 216.2h0M449.4 214.5h0M454.9 189.7h0M425.6 192.4h0M485.8 191.7h0M413.9 193.5h0M479.3 210.5h0M476.9 195.7h0M474.5 195.3h0M442.3 199.3h0M417.5 199.4h0M427.3 202.3h0M468.1 215.9h0M427.6 185h0M489.1 222.5h0M470.5 205.2h0M471.1 169.1h0M453.9 170h0M429.5 220.1h0M497.4 216.7h0M447.5 172.9h0M446.2 219.2h0M423.6 223.3h0M475.5 195.8h0M418.5 208.4h0M451.6 200.9h0M490.3 215.4h0M420.4 189.5h0M481.5 209.1h0M418.2 201.7h0M462.3 166.6h0M467.7 194.7h0M476.6 186.1h0M477.8 178.3h0M423.6 193.1h0M473.1 197.7h0M476 178.2h0M488.5 214.5h0M449.8 191.5h0M450.1 191.2h0M454.7 170.6h0M405.2 220.5h0M457.5 169.3h0M429.9 219.4h0M425.6 202.2h0M464.2 215.6h0M451.1 191.5h0M456 220.1h0M412.1 209.9h0M457.3 222.8h0M423.5 191.6h0M451.9 170.6h0M468.7 217.5h0M405.5 204.7h0M484 215.1h0M431.2 222.6h0M407.3 224.7h0M476.1 181.3h0M422.9 180h0M488.3 207.5h0M458.5 191.2h0M466.7 193.9h0M401.3 222.7h0M469.1 193h0M443 195.8h0M474.5 194.6h0M468 180.6h0M434.3 212.7h0M484.2 220.1h0M441.6 178.9h0M451.6 180.6h0M474 207.3h0M425.6 207.5h0M471.2 192.4h0M440.9 181.7h0M428.7 204.7h0M401.1 219.7h0M470.4 209h0M475.6 202.3h0M472 179.9h0M478.5 220.5h0M443.5 205h0M430.9 193.1h0M496.4 213.9h0M412.5 190.6h0M427.9 177.8h0M473.7 174.4h0M445.7 190.7h0M428.3 201.9h0M468.2 195.2h0M494.1 221.8h0M436.6 207.2h0M401.5 211.1h0M450.5 204.7h0M422.2 191.5h0M457.2 165.5h0M462.2 200.3h0M412.8 207.6h0M477.1 217.4h0M415.4 195.2h0M408.7 214.8h0M476.5 174.5h0M412.5 217.9h0M422.2 198.1h0M470.3 213.6h0M440.3 219.7h0M449.8 219.3h0M452.7 172.6h0M429.1 192.6h0M432.3 197.5h0M460.9 206.7h0M468.9 197.4h0M482.4 189.2h0M469.1 221.7h0M403.1 219.4h0M430.1 210.7h0M442.3 208.2h0M484.4 219.3h0M435.5 203.1h0M446.8 189.5h0M420.3 190.2h0M449.7 190.7h0M453.7 167.1h0M478.9 187.5h0M459.5 221.3h0M456.1 196.2h0M410.7 195.1h0M467.7 222.8h0M445 178.2h0M493.2 217.7h0M465.6 218.2h0M426.3 221.4h0M442.5 177.7h0M423 192.6h0M427.3 195.3h0M420.4 224.2h0M477.5 211.1h0M450.8 217.5h0M415.5 187.4h0M420.8 190.2h0M418.3 186.9h0M472.7 198.2h0M426.7 197.5h0M435.2 175.1h0M456.4 186.6h0M419 221h0M407.3 210.3h0M441.8 222.7h0M432.1 198.7h0M478.4 209.1h0M447 211.1h0M427 184.7h0M487.1 214.9h0M451.9 221.4h0M481.2 220.2h0M463.8 174h0M470.5 209.6h0M435.3 212.9h0M478.5 184.8h0M458.4 172.9h0M487.6 218.1h0M450.8 215h0M438.3 206.8h0M470.9 199.9h0M429.5 193.4h0M462.6 220.7h0M469.6 206.9h0M478.9 204.7h0M437.9 181.4h0M440.3 215.6h0M425.6 195.9h0M494.9 221.9h0M431 223.6h0M462.3 194.3h0M454.1 204.8h0M455.2 178.4h0M459.4 198.2h0M464.5 169.9h0M431.8 189.4h0M456.5 182.7h0M485.6 213.5h0M456.1 184h0M448.7 201.8h0M401.6 211.1h0M466 165.4h0M422.7 185.6h0M462.2 186.2h0M455.6 221.8h0M489.2 220.1h0M486.7 196h0M455.4 189.8h0M433.4 185.9h0M444.2 220.7h0M405.2 218.2h0M486.4 211.5h0M448.6 204.4h0M501.9 220.3h0M444.2 174.5h0M484.3 214.2h0M419.5 184.5h0M428.1 223.9h0M425.6 189.4h0M436.6 210.3h0M426.9 207.5h0M424.8 220.5h0M477.9 223.3h0M417 200.3h0M430.4 211.9h0M475.1 194.8h0M424 189.8h0M415.2 207.7h0M421.1 189.1h0M463.7 196.9h0M473.8 208.9h0M466.8 223h0M481.5 206.1h0M477.8 220h0M453.1 179.6h0M454.8 184.1h0M414.7 197.6h0M412.1 195.4h0M440.7 195.7h0M482.3 221.8h0M454.6 179.8h0M464.9 187.7h0M460.9 165.3h0M437.8 206.7h0M440.3 194.1h0M465.7 195.4h0M435.3 224.6h0M440.1 205.4h0M485.9 193.2h0M395.7 221.4h0M466.8 168.4h0M474.3 194.5h0M440.5 193.5h0M465.8 205.6h0M424.1 178.7h0M467 188.3h0M436.7 189.6h0M435.5 207.5h0M451.1 179.2h0M454.6 183.6h0M452.6 204.4h0M441 198.5h0M439.3 185.8h0M416 190.3h0M485.6 208h0M430.7 222.1h0M474.2 223.6h0M439 191.6h0M462.7 170.6h0M426.5 215.8h0M454.3 187.1h0M464.4 217.4h0M445.7 178.5h0M418.5 205.3h0M440.4 194.4h0M411.2 210.6h0M474.3 219.4h0M420.8 218.3h0M471 182.4h0M455.3 180.9h0M420.3 193.3h0M432.6 184.5h0M476 177h0M447.5 218h0M478.7 217.2h0M458.2 218.6h0M437.5 178.1h0M474.5 197.9h0M471.1 167.1h0M440.2 196.4h0M469.8 192.4h0M421 211.2h0M410.8 225.1h0M396.2 220.2h0M401.4 209.7h0M504.9 224.1h0M452.4 191.6h0M430.7 184.4h0M443.5 205.7h0M449.6 194.4h0M419.9 212.5h0M424.3 197.8h0M484.4 216.7h0M468 215.9h0M472.5 211.7h0M430.1 195.6h0M475.3 219.3h0M405.5 217.2h0M431.1 177.4h0M459.9 225h0M459.6 212.9h0M473.4 204.7h0M454.6 197.5h0M417.8 223.1h0M467.9 176.9h0M421.2 210.7h0M446 208h0M438.6 213.2h0M441.5 220.5h0M404.7 215.7h0M483.3 217.5h0M445.2 225h0M507.2 225.3h0M467.9 197.1h0M462.1 202.8h0M429.1 201.6h0M421.5 188.3h0M410.4 218.8h0M410.7 193.7h0M459.5 174.2h0M401.2 215.2h0M470.6 182h0M427 199h0M440 188.2h0M458 202h0M461.3 221h0M483.9 215.6h0M493.3 206.6h0M436.2 198.6h0M472 194.4h0M442.9 180.2h0M410.9 204.9h0M411.5 192.5h0M476.1 211.9h0M462.6 212.9h0M491.1 220.9h0M470 202.1h0M437.4 210.8h0M471.1 188.7h0M469.6 175h0M431.1 183.7h0M462.6 165.5h0M433.5 212.3h0M413.4 199.5h0M417.8 187.5h0M471 181.5h0M491.4 215h0M462.1 217.3h0M480.7 189h0M486.7 223.5h0M421.3 207.2h0M473.3 183.7h0M484.1 191h0M405.8 216.5h0M467.1 169.3h0M410.5 193.1h0M422.6 191.8h0M422.6 182.6h0M477.4 211.4h0M435.6 202.3h0M468 224.3h0M421 211.1h0M458 173.6h0M463.3 192.3h0M405.3 215.5h0M433.1 179.7h0M458.1 165.7h0M440 182.6h0M464.9 185.7h0M475.1 176.3h0M471.8 195.9h0M415.2 197.7h0M403.5 214.8h0M460 208.6h0M412.2 203.9h0M449.4 180.1h0M414.5 218.3h0M425.1 210.9h0M441.9 190.4h0M446.8 169.6h0M414 215.7h0M476.4 180.5h0M473.1 187.8h0M456.3 218.3h0M436.2 182.9h0M489.8 220.2h0M505.2 223.4h0M410.8 218.4h0M467.2 210.3h0M455.7 186.8h0M441.4 178.1h0M468.2 189.5h0M421.4 190.1h0M437.1 223.4h0M484.3 196.9h0M437.6 203.9h0M489 224.9h0M469.2 176.3h0M447 204.3h0M416.4 224.7h0M441.2 195.3h0M441.9 201.3h0M465.3 195.1h0M435.3 191.3h0M459.4 219.6h0M394.1 220.2h0M398.1 223.1h0M410.5 217.3h0M452.2 222.4h0M442.4 203.6h0M429.8 201.5h0M468.3 192.9h0M437.1 175.3h0M472.5 186h0M425.2 200.5h0M500.1 217.1h0M457.6 186.1h0M479.3 224.4h0M454.6 170.5h0M463.8 207.1h0M469 174.3h0M460.3 194h0M465.7 180.2h0M471.6 218.8h0M415.2 217.3h0M449.9 189.1h0M405.4 204.8h0M417.7 185.4h0M451.5 181.4h0M447.2 175.6h0M478.6 209.8h0M480.5 182.6h0M478.3 203.4h0M474.6 208.5h0M474.3 213.1h0M467.5 220.3h0M415.5 201.4h0M452 170.5h0M480.9 218.5h0M437.2 187.9h0M415.7 185.6h0M467.4 187.7h0M438 220.9h0M420.2 193.4h0M440.9 209.1h0M424 221.9h0M489.2 212.7h0M436.6 173.4h0M485.1 216.4h0M460.5 216.7h0M513.6 225.2h0M463.1 219.3h0M464.6 170.7h0M418.2 222.4h0M483.7 198.5h0M459.7 179.5h0M449.4 207.6h0M476.2 206h0M470.1 172h0M441.8 215.2h0M468.1 195.4h0M435.1 197.6h0M468.5 171.6h0M424.3 220.4h0M478.9 225h0M389.6 222.5h0M475.7 222.6h0M433.2 223.3h0M400.8 220.4h0M458.1 198.4h0M469 197.3h0M468 170.8h0M415.4 214.7h0M470.7 195.9h0M471.5 177.8h0M423.7 184.9h0M442.2 174.2h0M457.3 193.5h0M474.2 192.4h0M463.3 164.1h0M465.7 174.1h0M428 196.7h0M467.3 180.8h0M489.3 200.9h0M433.6 205.1h0M457.7 179.8h0M399.2 220h0M451.2 196.4h0M484.1 195.6h0M435.2 202.3h0M441 208.2h0M476.8 201.2h0M439.1 208h0M420.5 198.9h0M466.6 217.8h0M456.9 179.7h0M404.5 211.3h0M411.2 199.9h0M459.1 200h0M443.2 209.4h0M434.6 176.3h0M432.8 194.4h0M441.6 222.9h0M449.2 191.7h0M513.6 225.3h0M487.9 199.4h0M446.9 221.6h0M486.8 220.8h0M460 181h0M430.5 193.7h0M473.6 182.9h0M480 183.8h0M446.2 187.5h0M449.6 175.4h0M479.1 209.4h0M421.7 205.1h0M489.1 219.1h0M415 201.7h0M446.2 175.7h0M442 197.5h0M437.9 222.8h0M410.8 200.9h0M489.6 219.4h0M469.3 181.2h0M440.6 205.1h0M478.2 180.8h0M444.6 181.3h0M412.2 211.3h0M444.9 197.1h0M438.9 178.1h0M448.1 183.4h0M438.6 208.9h0M449.4 187h0M448.6 187.9h0M449.9 180.6h0M427.6 190.4h0M418.9 182.3h0M476 214h0M501.2 220.3h0M461.5 200.9h0M423.9 217.6h0M455.7 189h0M448.1 175.8h0M456.3 186.9h0M415.8 185.2h0M469.7 176.5h0M447 222.2h0M433.2 220.7h0M421.2 196.3h0M466.1 211.5h0M410.3 206.4h0M467.9 181.7h0M424.1 224.1h0M485 207.3h0M482.5 195.1h0M426.2 208.5h0M433.2 184.2h0M484.8 206.9h0M450.5 191.9h0M480.4 206.3h0M443.9 202.9h0M443.2 212.4h0M437.4 208.5h0M425.1 188h0M424.8 197.2h0M463.9 180h0M411.7 210.6h0M431.7 185h0M398.1 218.9h0M469 208.4h0M479.8 220.5h0M463.6 209.4h0M410.9 209.2h0M443.2 174.5h0M463.7 190h0M435.3 208.8h0M429.5 181.7h0M435.8 204.6h0M411 218.3h0M484.9 218.8h0M454.6 209.3h0M409 223.1h0M420.4 188.8h0M451.2 206.2h0M430.6 221.3h0M463.3 223.2h0M407.8 198.1h0M439 217.3h0M477.4 206.2h0M428.5 197.8h0M424.3 194.1h0M473.5 202.4h0M490.9 222.1h0M463.5 168.5h0M459 205.6h0M431.3 181.5h0M436.3 175.2h0M489.9 220.7h0M478.2 217.2h0M487.6 206.5h0M482.6 206.3h0M430.1 215.9h0M444.2 192.7h0M391 223.2h0M496.4 210.3h0M419.3 210.5h0M494.1 224.8h0M474.8 206h0M422.8 206.1h0M453 194.7h0M466.3 200.5h0M423.8 197.6h0M435.4 195.2h0M430.1 175.9h0M453.9 187.2h0M460.1 191.7h0M422.6 188h0M429.1 202.2h0M417.9 207.1h0M461.1 213.5h0M488.7 217.6h0M426.9 221.1h0M489.5 206.4h0M424.2 198.3h0M460.6 222.2h0M469.5 167.8h0M442.2 191h0M480.6 184h0M448.6 183.7h0M444.9 210.6h0M429 205.2h0M495.3 219.9h0M464.8 166.4h0M459.8 164.6h0M435.4 188.2h0M480.5 208.9h0M454.4 182.7h0M421.7 191.3h0M449.4 173h0M495.8 209.6h0M401.9 219.8h0M501.8 225.3h0M469.7 183.3h0M440.1 185.2h0M454.5 210.8h0M483 186.4h0M458 195h0M454.3 223.5h0M423.5 215.3h0M491.9 220.9h0M443.5 179.2h0M408.1 217.6h0M424.6 223.4h0M454.9 192.8h0M455 179.6h0M472.5 175.7h0M482.3 209.8h0M452.4 217.5h0M434.2 209.8h0M427.8 217h0M424.2 218.6h0M420.7 216.6h0M449.8 216.5h0M456.3 198.4h0M415.2 188.5h0M456.6 221.6h0M481.6 216.4h0M492.1 210.2h0M417.3 212.2h0M410.3 217.5h0M411 196.7h0M451.1 223.6h0M459.6 179.5h0M452.5 180.3h0M436.1 225h0M415.6 188.3h0M428.7 220h0M467.5 194.4h0M477.3 194.6h0M464.4 206.5h0M414 216.3h0M430.7 192.8h0M474.1 185.6h0M434.8 175.6h0M445.1 194.5h0M415.7 210h0M455.8 176.2h0M455.3 223h0M486.3 193.3h0M438.2 182.8h0M467.2 178.4h0M450.9 208h0M484.4 209.2h0M428.5 203.3h0M460.6 179.5h0M454.5 205.6h0M472.1 222.6h0M434.8 211h0M427.9 209.3h0M454.3 216.4h0M467.5 212.5h0M443.5 184.1h0M471.6 221.9h0M440 224.8h0M474.2 186.5h0M411.4 201.3h0M441.1 182.2h0M442.5 217.4h0M430.3 175.8h0M491.9 215.8h0M474 181.2h0M441.8 206.5h0M422.8 181.5h0M455.4 185.5h0M409.4 225.3h0M491.7 220.1h0M394.8 225h0M489.4 208.1h0M430.4 209.5h0M468.1 224.1h0M441.1 172.6h0M414 216.2h0M414.9 187.7h0M457.6 192.8h0M427.3 201.6h0M425.9 204.5h0M423.4 181.6h0M409.5 216.8h0M413.2 191.8h0M451.7 183.7h0M464.6 178.8h0M449.7 210.9h0M480.6 222.7h0M455.2 169.5h0M481.7 219.7h0M468.6 213.7h0M473 191.5h0M444.6 225.2h0M466.2 214.6h0M428.5 191h0M489.9 220.2h0M407.6 208.7h0M493.6 220.9h0M425.6 178.8h0M437.4 199.3h0M418.8 183.7h0M429.3 224.5h0M471.9 216.1h0M460.8 216.8h0M446.8 204.3h0M449.7 185.3h0M406 211.3h0M448.6 196.7h0M452.5 201.5h0M459.4 208.3h0M481 212.1h0M460.5 203.3h0M435.2 175.2h0M470.3 183.7h0M427.6 209.1h0M444.8 223.5h0M467.5 221.4h0M492.6 205.9h0M429.8 218.7h0M498.1 214.6h0M399.6 224.2h0M413.4 219.4h0M440.8 186.9h0M429.3 176.1h0M466.3 207.4h0M474.2 184.9h0M402.5 209.8h0M435.6 194.8h0M401.4 225h0M471.2 168.2h0M446.2 178.7h0M472.5 203.5h0M447.7 194.2h0M474.2 185.5h0M436.7 181.4h0M446.2 182.8h0M427.8 194.6h0M403.4 207.8h0M420.1 181.7h0M427.5 219h0M445 215.5h0M418.1 204.7h0M466.1 180.7h0M412.5 190.2h0M462.2 216.7h0M424 216.7h0M482.7 206.1h0M452.4 218.2h0M469.3 211.6h0M432.4 178.8h0M489.4 207.3h0M428 187.3h0M472.9 196.7h0M437.2 224.6h0M412.5 216.8h0M473.8 171.3h0M434.5 205.9h0M398.9 222h0M444.1 223h0M421.6 216.5h0M429.4 189.7h0M451.2 171.8h0M429.1 183.1h0M445.7 185.3h0M478.9 195.6h0M469.5 177h0M458 167.9h0M409.5 200.4h0M428.7 175.9h0M437.3 201.7h0M422.3 215.7h0M430.6 193.1h0M457.9 194.2h0M471.8 172.6h0M468.9 209.9h0M449.8 175.5h0M464.4 181.5h0M425.4 179.1h0M483 198.9h0M407.2 223.8h0M482 196.9h0M424.7 207.1h0M398.1 216.5h0M449.7 211.9h0M467.7 178.4h0M484.2 222.6h0M460.6 193.6h0M444.1 184.6h0M481.1 192.2h0M413.6 198.5h0M488.1 201.3h0M474.3 181.4h0M448.6 201.3h0M408.7 213.7h0M433.2 175.8h0M480.8 219.5h0M410 199.5h0M466.8 203.6h0M419 220.8h0M447.3 218.8h0M474.2 171.3h0M438.6 202.8h0M437 215.6h0M466 216h0M468.9 223.2h0M426.7 201.9h0M447.9 187.8h0M430.7 196.4h0M452 172.4h0M428.8 206h0M451.8 171.6h0M466.4 190.2h0M422.9 187.7h0M512.8 225.1h0M440.6 212.4h0M434.1 212.6h0M471.7 213.6h0M498.3 217.2h0M441.4 193.1h0M464.8 180.6h0M413.2 199.7h0M431.9 186.5h0M468.5 212.3h0M441.6 198.8h0M412.2 220.2h0M471.7 223.3h0M440.2 186.1h0M447.1 208.7h0M509.7 223.6h0M432.9 208.6h0M478.9 221.3h0M428.2 189.3h0M423.3 202.7h0M482.3 190.9h0M484.7 192.8h0M454.5 182.5h0M492.9 208.3h0M443.9 181.6h0M409.3 204.2h0M447.4 199.7h0M417 205.9h0M442.3 172.8h0M416.9 210h0M421.7 196.1h0M400 217h0M441.7 205.8h0M482.1 209.1h0M454 171.6h0M420.7 220.8h0M430.2 187.5h0M482.8 197.7h0M414.2 219.4h0M485.4 191.6h0M439.8 182.7h0M469.8 215.3h0M439.9 184.3h0M444.8 220.2h0M464.8 209h0M452.1 217h0M465.5 216.3h0M450.6 203.3h0M420.4 215.2h0M485.2 196.1h0M517.8 225.4h0M420.3 200.2h0M423.5 185.4h0M450.7 186.2h0M427.7 223.5h0M482.5 188.9h0M490.6 201.3h0M465.6 185.4h0M456.6 201.4h0M465.1 211.1h0M469.1 221.3h0M457.6 221.8h0M416.1 199.4h0M460.1 213.5h0M490.3 221.2h0M478.5 201.8h0M402.8 218.3h0M455.3 193.9h0M440.6 174.4h0M457.9 171.4h0M422.1 202.3h0M493.7 225.2h0M415.8 219h0M433.1 186.1h0M470.3 182.5h0M459 170.4h0M483.8 214.2h0M442 210.2h0M446 211.6h0M419.6 202.7h0M424.2 199.2h0M443.9 221.3h0M503.4 224.5h0M441.1 202.9h0M471.1 213.9h0M450.6 224.2h0M487.7 204h0M483.6 200.4h0M458.4 208.8h0M474.2 184.8h0M450.8 214h0M399.8 217h0M425.2 211.8h0M463.1 213.2h0M345.8 225.4h0M475.7 200.4h0M408.8 211.8h0M478 183.5h0M444.5 224h0M486 216.7h0M449.8 177.1h0M467 175h0M448 191.3h0M462 201.5h0M448.2 213.8h0M413.3 199.7h0M467.1 221.6h0M472.6 219.9h0M401.9 211.9h0M434.6 216.9h0M466.4 183h0M474.3 184.4h0M472.6 220.4h0M473.8 204.1h0M499.3 216.4h0M414.8 201.9h0M455.5 222.9h0M433.5 186.3h0M411.1 218h0M464.8 174.1h0M463.1 212.7h0M426.2 214.5h0M452.9 179.1h0M468.9 208.5h0M448.9 202h0M418.6 184.9h0M416.8 191.7h0M440.6 186.7h0M472 179.5h0M469.3 168.6h0M457.3 210.6h0M477.1 223.5h0M457.7 220.1h0M441.6 215.1h0M416 208.8h0M443.9 179.9h0M489.5 218.3h0M417.5 206.2h0M463.2 167.6h0M457.9 201.9h0M440.3 213.1h0M433.5 206.9h0M445.6 180.5h0M441.3 209.1h0M403.7 215.5h0M471.6 207.2h0M434 177.8h0M488.6 199.5h0M462.8 183h0M460.6 213.7h0M435.4 221.6h0M451.4 195.2h0M488 200.2h0M471.9 205.8h0M471.8 196.8h0M392.6 221h0M466.6 173.9h0M399.1 224.9h0M459.1 205.4h0M439.1 202.8h0M465.6 191.2h0M391.8 223.4h0M438.3 217.5h0M424.4 216.9h0M418.6 194.2h0M464 217.6h0M469.5 189.4h0M448.5 183.1h0M418.8 203.4h0M476.6 182h0M474 188.3h0M439.7 218.7h0M392.7 225.2h0M433.2 181.6h0M443.4 203.4h0M429.6 200.1h0M445 189.8h0M511.2 225.3h0M432.3 217.9h0M455.4 216.8h0M478.6 220.1h0M430.2 178.2h0M427 181.9h0M401.3 210.3h0M467.4 213.9h0M475.9 180.2h0M431.4 191.3h0M479.3 187.5h0M468.4 179.7h0M416.6 216.3h0M481.4 218.4h0M442.7 208.4h0M403.2 219.5h0M466.5 203.9h0M462.8 207.8h0M424.9 200.3h0M464.4 178h0M433.2 199.6h0M409.1 199.3h0M477.7 187.7h0M497.3 218.2h0M472.1 221.5h0M452.4 214.1h0M463.1 194.6h0M424.9 205.9h0M448.2 177h0M471.3 225.3h0M480.3 190.2h0M465 171.9h0M474.6 179h0M480.6 224.4h0M487 200.2h0M415.9 222.7h0M439.7 192.3h0M426.7 224.9h0M464.7 180.5h0M429.1 211.5h0M417.5 189h0M455.9 194.2h0M457.2 165.9h0M484.9 194.1h0M451.6 215h0M432.9 186.3h0M425.5 200.5h0M405.1 217.3h0M454.3 205.6h0M459.8 187.3h0M470 204.9h0M436.5 173.6h0M412.5 224.4h0M479.1 216h0M494.2 223h0M439.7 184.6h0M474.3 176.5h0M476.8 189.7h0M445 216.1h0M401.5 208.7h0M430 178.3h0M474.1 173h0M470.7 210.5h0M409.5 211.6h0M494.3 218.4h0M446.8 219.7h0M429 180.8h0M425.3 182.5h0M476.3 200.3h0M399.8 222.9h0M413.1 190.9h0M401.9 219h0M470.7 221.4h0M464.8 190.9h0M468.1 187.4h0M446.5 203h0M493.1 213.1h0M430.3 223.8h0M453 167.4h0M420 198.8h0M453.3 184.1h0M469.3 195.6h0M457.2 176.5h0M491.9 224.7h0M478.3 186.3h0M477.4 194.1h0M496 210.6h0M445.9 173.2h0M413.6 219.8h0M417.6 213.6h0M468.7 165.9h0M454.6 214.9h0M464.1 186.4h0M428.4 196.2h0M430.8 175.8h0M467.5 219.4h0M449.8 201.4h0M471.4 218.6h0M414.8 205.7h0M461.6 165.7h0M498.7 221.8h0M413.1 199.5h0M451.3 181.9h0M452.5 216.3h0M415.5 215.3h0M488.5 223.3h0M458.5 173.3h0M461.3 189.1h0M444.9 194.7h0M425.3 182.5h0M417 216.9h0M451 210.8h0M449.9 206.7h0M472.1 186.9h0M428.3 182.3h0M459.8 185.9h0M423.7 221.2h0M440 187.8h0M469.2 180.1h0M436.6 223.4h0M488.1 199.8h0M429.1 181.3h0M456.3 166.5h0M462.8 169.9h0M443.9 175.8h0M452.6 181.2h0M420.5 202.3h0M452.3 187.5h0M445.7 208.2h0M467 214.3h0M474.5 178.5h0M422.9 221.9h0M462.4 204.5h0M406.8 221.9h0M479 184h0M449.6 209.2h0M401.9 210h0M492.4 224.6h0M489.1 203.4h0M425 191.8h0M433.9 207.1h0M495.5 218.4h0M440.1 203.7h0M449.4 224.9h0M474.2 181.6h0M457.1 182.9h0M428.2 178.7h0M467.2 204.4h0M454.6 213.7h0M444.6 217.8h0M483.4 189.9h0M459.5 208.6h0M420.4 188.4h0M462.3 184h0M429 200.5h0M418.5 194.9h0M450.9 178.2h0M433.5 187.1h0M467.2 202.9h0M461.5 173.3h0M440.4 192.1h0M465.6 182.5h0M416.6 192.7h0M469 192.8h0M439 203.9h0M444 201.6h0M415.5 195.1h0M423.5 225.1h0M507.9 224.5h0M421.7 193.7h0M431.8 220.1h0M485.4 210.3h0M467.2 190h0M495.8 209.8h0M441.4 178.8h0M432.2 198.1h0M436.4 197.8h0M440.1 222.6h0M471.8 177h0M494.9 216.4h0M418.9 203.4h0M486.7 205.7h0M480.4 214.2h0M417.3 206.2h0M408.9 213.4h0M440.5 176.2h0M470.6 183.6h0M470.7 207.3h0M420.9 207.6h0M435.2 177.3h0M472.5 206.9h0M415.6 190.6h0M489.4 207.9h0M429.6 181.2h0M446.6 180.5h0M467.9 225.4h0M425.3 220h0M447.9 188.9h0M471.3 198.2h0M468.5 204.7h0M463.6 207.4h0M464.8 169.1h0M470.9 209.1h0M458.2 214.7h0M437.2 210.8h0M454.8 174h0M436.6 212.3h0M426.2 187.4h0M438.9 186.1h0M406.5 202h0M440.3 205.8h0M469.4 202.1h0M453 192.4h0M420.6 183.6h0M407.5 212.9h0M490.7 212.3h0M466.6 182.2h0M474 170.9h0M442.9 171.9h0M446.4 211.9h0M471 171h0M439.7 216.3h0M470.2 223.7h0M483.6 223.2h0M417 203.4h0M439.5 192.6h0M428.3 184.7h0M440.7 175h0M443.8 217.4h0M423.5 190h0M451.1 181h0M457.2 188.8h0M460.9 200.3h0M435.3 222.7h0M457.8 176.2h0M405.3 212.7h0M471.8 174.7h0M503.2 224.3h0M430.7 199.3h0M405.8 213.1h0M501.9 224.2h0M429.8 210.5h0M416.4 209.9h0M474.4 172.6h0M427.8 203.9h0M446.4 201h0M430.3 222.5h0M484 214.7h0M465.3 179.8h0M414.2 196.5h0M416.2 217.7h0M444.9 191.4h0M424.2 178.5h0M468.9 190.6h0M407.5 206.7h0M444.6 218.1h0M467.8 175.5h0M474.2 202.4h0M420.7 224.6h0M464 218.5h0M451.8 186.5h0M477.2 198.1h0M460.6 207.8h0M450.8 196.4h0M407.6 204.7h0M428.4 195.8h0M451.6 171.3h0M441.2 172.7h0M419.4 216.5h0M508.5 224.9h0M405.3 212.6h0M474.6 205.9h0M438.8 187.9h0M431.8 200.6h0M434.2 203.7h0M419.3 204.3h0M468.5 199.4h0M445.3 198.6h0M450.9 178.3h0M433.5 183.9h0M467.3 202.9h0M468.3 170.2h0M459.2 167.8h0M419.7 205.5h0M436.4 216h0M451.1 187h0M478.8 222.1h0M471.1 224.1h0M438.8 203.7h0M471.1 181.1h0M405.8 218.4h0M414.8 186.2h0M457.9 184h0M482.3 221.3h0M444.2 221.5h0M477.1 213.9h0M454.8 168h0M473.4 201.5h0M485.3 193.1h0M477.3 213.9h0M456.3 165.1h0M467.5 206.8h0M438.4 186.8h0M420.6 193.9h0M460.3 169.5h0M432.9 179.3h0M440.9 220.4h0M460 219.7h0M458.5 166.2h0M432.9 197.6h0M448.1 210.1h0M474 211.6h0M467.6 200h0M396.5 224.8h0M454.4 189.3h0M448.4 178.3h0M460.3 184.1h0M426.8 197.8h0M432.1 189h0M418.5 209.3h0M454.8 170.2h0M460 167.4h0M455.1 166.5h0M405.5 219.4h0M452.1 178.3h0M452 200.9h0M428.8 196.6h0M435 177.5h0M435.4 195.1h0M483.3 199.3h0M438.3 192.1h0M436.8 187h0M470 221.8h0M439.9 196.9h0M450.6 176.7h0M402 221h0M469.5 186.9h0M455 219.2h0M459.3 191.2h0M445.9 202.5h0M456.2 193.4h0M462.7 170.6h0M440.3 205.5h0M469.3 173.3h0M464.6 171.9h0M486.1 207h0M462.4 214.8h0M472.3 188.5h0M420.8 184h0M441.1 200.4h0M426.7 194.3h0M444.3 210.8h0M456.3 224.4h0M419.4 208.7h0M402.9 211.2h0M439.8 210.2h0M433.1 206.5h0M430.1 182.5h0M425.8 224.4h0M483.3 209.1h0M467.5 202.7h0M482.8 211.1h0M473.1 204.5h0M440.6 184.2h0M464.3 189.6h0M430.7 199.9h0M400.2 215.4h0M449.4 219.6h0M419 214.4h0M465.2 183.8h0M352 225.4h0M427.1 225h0M463 186.3h0M482.5 203.5h0M475.5 174.5h0M435.2 181.6h0M470.4 180.5h0M452.5 203.4h0M454.9 185.7h0M445.4 207.2h0M497.8 220.8h0M440.1 196h0M415 221.8h0M459.8 200.4h0M446 198.9h0M454.6 200.3h0M450.8 180.8h0M471.2 177.2h0M433.8 205.8h0M487.4 211.1h0M468.2 169.5h0M504.6 224.8h0M458.8 178.3h0M405.8 221.6h0M454.9 185.3h0M399.4 214.6h0M481.9 219.9h0M428.8 192.3h0M436.1 210.8h0M464 215.1h0M416.9 225.2h0M500.5 218.6h0M472.6 224.5h0M440.5 200.8h0M445 223.1h0M471.1 196.6h0M460.8 168.6h0M487.8 207.8h0M431.7 218.3h0M482.6 206.1h0M464.2 186.5h0M476.3 220.9h0M416.1 222.9h0M417.4 191.3h0M430.3 223.4h0M468.1 204h0M464.3 199.9h0M464.1 196.8h0M464.9 212.3h0M462.4 166.7h0M456.2 214.2h0M402.1 210.3h0M502.7 222.3h0M454.1 205.7h0M449.1 224.2h0M409.4 217.9h0M489 202.9h0M456.6 212h0M496.3 217.9h0M464.4 212.6h0M418.2 194.7h0M422.1 223.1h0M455.6 184.7h0M473.7 205.1h0M443.8 185.9h0M493.6 212.3h0M443.4 185.7h0M481.4 184.1h0M447.3 218.1h0M450.7 184.5h0M402.5 224.8h0M446 190.8h0M404.7 221h0M453.2 204.2h0M465.2 219.3h0M454.6 213.1h0M401.8 218.9h0M417.7 222.3h0M448.9 173.1h0M464 190.2h0M461.9 179.5h0M421.3 183.8h0M404.1 214.4h0M453.6 200.1h0M504.8 221.7h0M460.3 206.9h0M466.4 170.6h0M432.7 223.9h0M479.4 195.3h0M449 169.7h0M413.2 210.9h0M424.6 181.1h0M489.7 213.2h0M409 197.7h0M479 214.8h0M440.8 191.8h0M437 192.1h0M444.9 208h0M430.2 206.3h0" stroke="#000" stroke-opacity="0.88" stroke-width="1.8" stroke-linecap="round" fill="none"/>
<path d="M287 226L288 226L289 226L290 226L291 226L292 226L293 226L294 226L295 226L296 226L297 226L298 226L299 226L300 226L301 226L302 226L303 226L304 226L305 226L306 226L307 226L308 226L309 226L310 226L311 226L312 226L313 226L314 226L315 226L316 226L317 226L318 226L319 226L320 226L321 226L322 226L323 226L324 225.9L325 225.9L326 225.9L327 225.9L328 225.9L329 225.9L330 225.9L331 225.9L332 225.9L333 225.9L334 225.9L335 225.9L336 225.9L337 225.9L338 225.9L339 225.9L340 225.9L341 225.9L342 225.9L343 225.9L344 225.9L345 225.9L346 225.9L347 225.9L348 225.9L349 225.9L350 225.9L351 225.8L352 225.8L353 225.8L354 225.8L355 225.8L356 225.8L357 225.8L358 225.8L359 225.8L360 225.8L361 225.8L362 225.7L363 225.7L364 225.7L365 225.7L366 225.7L367 225.7L368 225.6L369 225.6L370 225.6L371 225.6L372 225.5L373 225.5L374 225.5L375 225.4L376 225.4L377 225.3L378 225.2L379 225.2L380 225.1L381 225L382 224.8L383 224.5L384 224.2L385 223.8L386 223.3L387 222.8L388 222.3L389 221.8L390 221.2L391 220.4L392 219.5L393 218.5L394 217.4L395 216.3L396 215L397 213.7L398 212.4L399 211.1L400 209.7L401 208.1L402 206.4L403 204.7L404 202.9L405 201.1L406 199.3L407 197.5L408 195.8L409 194.1L410 192.3L411 190.6L412 188.8L413 187.1L414 185.5L415 184L416 182.6L417 181.4L418 180.3L419 179.2L420 178.2L421 177.2L422 176.4L423 175.7L424 175.1L425 174.6L426 174.2L427 173.7L428 173.3L429 173L430 172.6L431 172.3L432 172L433 171.8L434 171.5L435 171.3L436 171.1L437 170.9L438 170.6L439 170.4L440 170.1L441 169.8L442 169.4L443 168.9L444 168.4L445 167.9L446 167.3L447 166.7L448 166.2L449 165.7L450 165.2L451 164.8L452 164.3L453 163.8L454 163.4L455 163L456 162.6L457 162.3L458 162.1L459 162L460 161.9L461 161.8L462 161.8L463 161.7L464 161.7L465 161.8L466 162L467 162.4L468 162.9L469 163.5L470 164.1L471 164.8L472 165.9L473 167.1L474 168.4L475 169.8L476 171.3L477 172.9L478 174.6L479 176.5L480 178.4L481 180.3L482 182.3L483 184.3L484 186.3L485 188.4L486 190.4L487 192.4L488 194.3L489 196.3L490 198.1L491 200L492 201.8L493 203.6L494 205.3L495 206.9L496 208.6L497 210.2L498 211.9L499 213.4L500 214.8L501 216L502 217.1L503 218.2L504 219.1L505 220L506 220.9L507 221.6L508 222.2L509 222.6L510 223.1L511 223.5L512 223.8L513 224.2L514 224.5L515 224.7L516 224.9L517 225.1L518 225.2L519 225.3L520 225.4L521 225.5L522 225.5L523 225.6L524 225.7L525 225.7L526 225.8L527 225.8L528 225.9L529 225.9L530 225.9L531 226L532 226L533 226L534 226L534.2 226" stroke="#000" stroke-width="1.8" stroke-linejoin="round" stroke-linecap="butt" fill="none"/></g>
<g transform="translate(0 .25)"><path d="M190.1 276.5L191.1 276.5L192.1 276.4L193.1 276.3L194.1 276.1L195.1 275.9L196.1 275.6L197.1 275.3L198.1 275L199.1 274.6L200.1 274.2L201.1 273.7L202.1 272.8L203.1 271.7L204.1 270.3L205.1 268.8L206.1 267.1L207.1 265.5L208.1 263.5L209.1 261.3L210.1 258.8L211.1 256.2L212.1 253.4L213.1 250.5L214.1 247.6L215.1 244.5L216.1 241.1L217.1 237.6L218.1 233.9L219.1 230.4L220.1 227L221.1 224.1L222.1 221.5L223.1 219.1L224.1 216.8L225.1 214.6L226.1 212.5L227.1 210.4L228.1 208.3L229.1 206.2L230.1 204.2L231.1 202.2L232.1 200.1L233.1 198.1L234.1 196L235.1 193.6L236.1 191L237.1 188.2L238.1 185.5L239.1 183L240.1 181L241.1 179.6L242.1 178.3L243.1 177.2L244.1 176.4L245.1 175.9L246.1 175.9L247.1 176.5L248.1 177.6L249.1 179.1L250.1 180.9L251.1 183L252.1 186.4L253.1 190.9L254.1 196.1L255.1 201.2L256.1 206.1L257.1 211.3L258.1 216.7L259.1 222.1L260.1 227.5L261.1 232.5L262.1 237.7L263.1 242.9L264.1 247.7L265.1 251.9L266.1 255.3L267.1 258.3L268.1 261.2L269.1 263.5L270.1 265.2L271.1 266.1L272.1 266.7L273.1 267.3L274.1 267.7L275.1 268.1L276.1 268.4L277.1 268.5L278.1 268.5L279.1 268.5L280.1 268.5L281.1 268.4L282.1 268.4L283.1 268.3L284.1 268.2L285.1 268.2L286.1 268.1L287.1 267.9L288.1 267.6L289.1 267.1L290.1 266.6L291.1 266L292.1 265.4L293.1 264.8L294.1 264.2L295.1 263.5L296.1 262.8L297.1 262L298.1 261.1L299.1 260.3L300.1 259.6L301.1 259L302.1 258.5L303.1 257.9L304.1 257.4L305.1 257.1L306.1 257L307.1 257L308.1 257.1L309.1 257.3L310.1 257.4L311.1 257.6L312.1 257.7L313.1 257.8L314.1 258L315.1 258.1L316.1 258.3L317.1 258.4L318.1 258.5L319.1 258.6L320.1 258.6L321.1 258.6L322.1 258.6L323.1 258.7L324.1 258.7L325.1 258.7L326.1 258.8L327.1 259.2L328.1 259.8L329.1 260.5L330.1 261.3L331.1 262.1L332.1 262.8L333.1 263.6L334.1 264.5L335.1 265.3L336.1 266.1L337.1 266.8L338.1 267.6L339.1 268.2L340.1 268.7L341.1 269.1L342.1 269.3L343.1 269.5L344.1 269.7L345.1 269.9L346.1 270.1L347.1 270.4L348.1 270.7L349.1 271L350.1 271.3L351.1 271.6L352.1 271.9L353.1 272.2L354.1 272.5L355.1 272.8L356.1 273.1L357.1 273.3L358.1 273.6L359.1 273.8L360.1 274.1L361.1 274.3L362.1 274.5L363.1 274.7L364.1 274.9L365.1 275.1L366.1 275.2L367.1 275.4L368.1 275.5L369.1 275.7L370.1 275.8L371.1 275.9L372.1 276L373.1 276.1L374.1 276.1L375.1 276.2L376.1 276.2L377.1 276.3L378.1 276.3L379.1 276.3L380.1 276.4L381.1 276.4L382.1 276.4L383.1 276.5L384.1 276.5L385.1 276.5L386.1 276.5L387 276.5L387 276.5L190.1 276.5Z" fill="url(#g)"/>
<path d="M319.6 260.3h0M244.2 255.1h0M238.8 193h0M236.5 233.2h0M242.4 243.2h0M304.3 262.6h0M249.2 271h0M213.1 259.3h0M246.5 187.4h0M213.6 275.7h0M235 222.6h0M231.8 207.4h0M246 275.5h0M243.2 239.6h0M230.8 221.5h0M244.6 239.7h0M224.2 237.1h0M234.9 232.3h0M243.9 233.6h0M322.9 272.7h0M241.4 268.3h0M251.2 224.3h0M250.1 222.9h0M238.5 239.1h0M262.2 261h0M215.7 262.1h0M228.4 226.4h0M245.1 206.1h0M319.4 261.3h0M238.4 217.6h0M222.8 249.1h0M222.9 237h0M229.2 269.6h0M205.6 271.5h0M245.6 270.2h0M252.8 238.5h0M230.2 260.4h0M240.1 239.4h0M241.4 195.5h0M290.3 268.2h0M243.2 273.5h0M247.4 273.5h0M260.7 261.3h0M234.9 264.1h0M240.7 213.8h0M253 205h0M235.8 256.3h0M237.2 261.2h0M234.6 249.8h0M230.7 221.3h0M254.9 235.2h0M246.2 202.3h0M244.6 185.7h0M212.6 273.1h0M328.6 262.4h0M239.6 235.9h0M253 271.7h0M229.9 212.1h0M246 262h0M283.5 270.8h0M217.2 239.6h0M237.4 261.6h0M248.9 215.2h0M231.2 223.5h0" stroke="#000" stroke-opacity="0.88" stroke-width="1.95" stroke-linecap="round" fill="none"/>
<path d="M252.4 264h0M306.3 265.6h0M222.4 259.5h0M254.8 254.8h0M240.6 221.6h0M236.5 201.4h0M226.7 239.7h0M238.3 195.2h0M250.2 262.4h0M255.2 221.6h0M237 205.1h0M228.1 254.7h0M227.7 221.3h0M254.6 245.5h0M318.6 265.9h0M288.7 271.8h0M219.4 256.5h0M217.8 264.3h0M252.6 233.7h0M253.4 197.4h0M242.9 230.1h0M237.5 217.1h0M226.8 242.4h0M231.7 272.3h0M230 215.6h0M218.7 262.8h0M223.7 249.3h0M222.6 273.5h0M235 204.9h0M227.5 264.7h0M241.8 185.1h0M240.3 252.9h0M255.9 219.7h0M216.1 242.6h0M225.1 222.8h0M242 240.8h0M228.9 248.4h0M248.6 231h0M244.7 251.6h0M258.8 229.5h0M247.7 252.6h0M223.1 233.9h0M259.5 227.9h0M248.8 215.3h0M222.3 264.6h0M324.3 274.8h0M249.2 233.4h0M235.3 229.1h0M303.1 266.1h0M230.5 246.2h0M210.4 265.5h0M252.8 226.9h0M269.9 267h0M244.4 181.3h0M250.8 226.5h0M249.7 265.7h0M248.7 226.6h0M250.3 216h0M259 264.8h0M229.9 244.8h0M301.9 271.6h0M241.9 193.4h0M327.6 271h0" stroke="#000" stroke-opacity="0.88" stroke-width="1.95" stroke-linecap="round" fill="none"/>
<path d="M292.8 271.1h0M313.1 270.9h0M228.3 254.4h0M254.6 261.5h0M238.9 186.8h0M252.9 194h0M252.8 228h0M247.1 241.4h0M257.5 235.2h0M238.3 203h0M224.2 272.1h0M239.3 248.1h0M320.8 273.4h0M248.6 260.5h0M240.7 215.9h0M322.5 271.9h0M306.5 266.9h0M222.9 228.1h0M251 200h0M235.9 209.9h0M346.5 271.4h0M247.7 214.6h0M238.3 243.7h0M242.2 209h0M260.5 234.9h0M295.3 273.9h0M243.8 233h0M211.8 255.6h0M241.5 189.9h0M244.6 201.6h0M326.1 262.8h0M248.7 244.3h0M259.3 231.7h0M223.6 234.8h0M245.1 266.2h0M247 235.7h0M235.2 265.2h0M223.2 236.9h0M234.5 220.5h0M228.7 263.9h0M231.7 250.4h0M241.2 244.1h0M240.1 260.3h0M253.7 262.7h0M237.9 243.1h0M254.4 249.3h0M259.3 228.1h0M249.4 194.2h0M250 185.2h0M232.8 236.8h0M237.9 201.3h0M235.9 247.2h0M220.5 252.9h0M245.6 203.8h0M252.7 223.1h0M246.6 271.5h0M230.3 225.2h0M226.8 254h0M222.2 274.9h0M226.9 261.9h0M233.7 231.4h0M236.5 201.9h0M244.7 233.8h0" stroke="#000" stroke-opacity="0.88" stroke-width="1.95" stroke-linecap="round" fill="none"/>
<path d="M190.1 276.5L191.1 276.5L192.1 276.4L193.1 276.3L194.1 276.1L195.1 275.9L196.1 275.6L197.1 275.3L198.1 275L199.1 274.6L200.1 274.2L201.1 273.7L202.1 272.8L203.1 271.7L204.1 270.3L205.1 268.8L206.1 267.1L207.1 265.5L208.1 263.5L209.1 261.3L210.1 258.8L211.1 256.2L212.1 253.4L213.1 250.5L214.1 247.6L215.1 244.5L216.1 241.1L217.1 237.6L218.1 233.9L219.1 230.4L220.1 227L221.1 224.1L222.1 221.5L223.1 219.1L224.1 216.8L225.1 214.6L226.1 212.5L227.1 210.4L228.1 208.3L229.1 206.2L230.1 204.2L231.1 202.2L232.1 200.1L233.1 198.1L234.1 196L235.1 193.6L236.1 191L237.1 188.2L238.1 185.5L239.1 183L240.1 181L241.1 179.6L242.1 178.3L243.1 177.2L244.1 176.4L245.1 175.9L246.1 175.9L247.1 176.5L248.1 177.6L249.1 179.1L250.1 180.9L251.1 183L252.1 186.4L253.1 190.9L254.1 196.1L255.1 201.2L256.1 206.1L257.1 211.3L258.1 216.7L259.1 222.1L260.1 227.5L261.1 232.5L262.1 237.7L263.1 242.9L264.1 247.7L265.1 251.9L266.1 255.3L267.1 258.3L268.1 261.2L269.1 263.5L270.1 265.2L271.1 266.1L272.1 266.7L273.1 267.3L274.1 267.7L275.1 268.1L276.1 268.4L277.1 268.5L278.1 268.5L279.1 268.5L280.1 268.5L281.1 268.4L282.1 268.4L283.1 268.3L284.1 268.2L285.1 268.2L286.1 268.1L287.1 267.9L288.1 267.6L289.1 267.1L290.1 266.6L291.1 266L292.1 265.4L293.1 264.8L294.1 264.2L295.1 263.5L296.1 262.8L297.1 262L298.1 261.1L299.1 260.3L300.1 259.6L301.1 259L302.1 258.5L303.1 257.9L304.1 257.4L305.1 257.1L306.1 257L307.1 257L308.1 257.1L309.1 257.3L310.1 257.4L311.1 257.6L312.1 257.7L313.1 257.8L314.1 258L315.1 258.1L316.1 258.3L317.1 258.4L318.1 258.5L319.1 258.6L320.1 258.6L321.1 258.6L322.1 258.6L323.1 258.7L324.1 258.7L325.1 258.7L326.1 258.8L327.1 259.2L328.1 259.8L329.1 260.5L330.1 261.3L331.1 262.1L332.1 262.8L333.1 263.6L334.1 264.5L335.1 265.3L336.1 266.1L337.1 266.8L338.1 267.6L339.1 268.2L340.1 268.7L341.1 269.1L342.1 269.3L343.1 269.5L344.1 269.7L345.1 269.9L346.1 270.1L347.1 270.4L348.1 270.7L349.1 271L350.1 271.3L351.1 271.6L352.1 271.9L353.1 272.2L354.1 272.5L355.1 272.8L356.1 273.1L357.1 273.3L358.1 273.6L359.1 273.8L360.1 274.1L361.1 274.3L362.1 274.5L363.1 274.7L364.1 274.9L365.1 275.1L366.1 275.2L367.1 275.4L368.1 275.5L369.1 275.7L370.1 275.8L371.1 275.9L372.1 276L373.1 276.1L374.1 276.1L375.1 276.2L376.1 276.2L377.1 276.3L378.1 276.3L379.1 276.3L380.1 276.4L381.1 276.4L382.1 276.4L383.1 276.5L384.1 276.5L385.1 276.5L386.1 276.5L387 276.5" stroke="#000" stroke-width="1.8" stroke-linejoin="round" stroke-linecap="butt" fill="none"/></g>
<g transform="translate(0 .25)"><path d="M223.1 326.8L224.1 326.8L225.1 326.7L226.1 326.7L227.1 326.6L228.1 326.5L229.1 326.3L230.1 326.2L231.1 326L232.1 325.8L233.1 325.6L234.1 325.4L235.1 325.1L236.1 324.8L237.1 324.4L238.1 323.8L239.1 323L240.1 322.2L241.1 321.2L242.1 320.2L243.1 319L244.1 317.8L245.1 316.1L246.1 314.1L247.1 311.9L248.1 309.6L249.1 307.3L250.1 305.2L251.1 302.8L252.1 300.4L253.1 297.9L254.1 295.6L255.1 293.4L256.1 291.6L257.1 289.9L258.1 288.3L259.1 286.7L260.1 285.4L261.1 284.3L262.1 283.6L263.1 283.3L264.1 283.1L265.1 282.9L266.1 282.8L267.1 282.7L268.1 282.8L269.1 283.1L270.1 283.6L271.1 284.1L272.1 284.3L273.1 284.1L274.1 283.5L275.1 282.5L276.1 281.3L277.1 280.1L278.1 279L279.1 278.2L280.1 277.2L281.1 276.2L282.1 275.3L283.1 274.6L284.1 274.4L285.1 274.6L286.1 275.2L287.1 276.1L288.1 277.1L289.1 278.3L290.1 279.6L291.1 281.5L292.1 283.8L293.1 286.2L294.1 288.5L295.1 290.6L296.1 292.8L297.1 295.1L298.1 297.3L299.1 299.3L300.1 301.1L301.1 302.5L302.1 303.6L303.1 304.7L304.1 305.7L305.1 306.3L306.1 306.5L307.1 306.1L308.1 305.1L309.1 303.8L310.1 302.2L311.1 300.4L312.1 297.8L313.1 294.4L314.1 290.5L315.1 286.7L316.1 283.3L317.1 279.7L318.1 276L319.1 272.6L320.1 269.7L321.1 267.2L322.1 265L323.1 263.1L324.1 261.4L325.1 260.2L326.1 259.2L327.1 258.3L328.1 257.9L329.1 258.1L330.1 258.7L331.1 259.5L332.1 260.4L333.1 261.4L334.1 262.5L335.1 263.8L336.1 265L337.1 266L338.1 266.8L339.1 267.3L340.1 267.7L341.1 268L342.1 268.3L343.1 268.6L344.1 269L345.1 269.5L346.1 270.1L347.1 271L348.1 272.1L349.1 274.9L350.1 278.9L351.1 282.9L352.1 286.4L353.1 289.9L354.1 293.3L355.1 296.9L356.1 300.4L357.1 303.7L358.1 306.7L359.1 309.5L360.1 312.2L361.1 314.6L362.1 316.6L363.1 318.6L364.1 320.4L365.1 321.9L366.1 323L367.1 323.9L368.1 324.6L369.1 325.3L370.1 325.7L371.1 325.9L372.1 326.1L373.1 326.2L374.1 326.3L375.1 326.5L376.1 326.6L377.1 326.6L378.1 326.7L379.1 326.8L380.1 326.8L381.1 326.8L381.4 326.8L381.4 326.8L223.1 326.8Z" fill="url(#g)"/>
<path d="M278.1 301h0M291.2 305.6h0M274.2 297.4h0M347.5 323.1h0M247.6 321.7h0M274.3 298.9h0M325.1 293.9h0M344.3 298.2h0M321.7 320.6h0M313.7 312.6h0M256.1 293.9h0M351.5 313.3h0M289.6 290.3h0M279.3 305.6h0M339.7 282.9h0M349.1 289.7h0M328.8 312h0M268.2 301.5h0M332.9 323.3h0M273.2 299.2h0M288.9 314.6h0M323.4 291.3h0M265.8 316.5h0M308.5 321.9h0M261.1 308.6h0M329.6 276.2h0M317.5 283h0M318 279.5h0M291.8 297.6h0" stroke="#000" stroke-opacity="0.88" stroke-width="1.95" stroke-linecap="round" fill="none"/>
<path d="M342.6 291.9h0M320.3 296.5h0M329.1 291.9h0M348 277.2h0M341.7 298.8h0M332.8 322.6h0M272.3 296.5h0M338 282.7h0M364.7 323.7h0M339.6 307h0M351.7 312.9h0M264 285.5h0M317.6 295.9h0M289.1 307.9h0M273.5 303h0M326.9 284.7h0M339.9 299.6h0M268.9 310.8h0M254.4 311.3h0M276.4 323.9h0M254.6 317.7h0M329.5 320h0M342.9 325.7h0M280.4 286.5h0M337.3 309.4h0M322.4 314.8h0M307.6 307h0M277.5 282.9h0" stroke="#000" stroke-opacity="0.88" stroke-width="1.95" stroke-linecap="round" fill="none"/>
<path d="M358.7 325.1h0M335.4 325.8h0M343.9 297.2h0M347.1 280.5h0M340.5 289.1h0M271.7 290.3h0M295.9 295.1h0M324.9 263.2h0M250.8 306.4h0M256.2 318.7h0M354.8 325h0M289.5 310.6h0M356.3 318.7h0M326.7 281.8h0M350.7 310.2h0M278.3 325.3h0M288.2 279.9h0M324.6 305.1h0M275.1 302.2h0M326.4 306.8h0M253.9 318.2h0M340.7 324h0M358.4 318.6h0M300.7 324.7h0M259.4 303.4h0M345 289.8h0M357.4 311.7h0M341 287.9h0" stroke="#000" stroke-opacity="0.88" stroke-width="1.95" stroke-linecap="round" fill="none"/>
<path d="M223.1 326.8L224.1 326.8L225.1 326.7L226.1 326.7L227.1 326.6L228.1 326.5L229.1 326.3L230.1 326.2L231.1 326L232.1 325.8L233.1 325.6L234.1 325.4L235.1 325.1L236.1 324.8L237.1 324.4L238.1 323.8L239.1 323L240.1 322.2L241.1 321.2L242.1 320.2L243.1 319L244.1 317.8L245.1 316.1L246.1 314.1L247.1 311.9L248.1 309.6L249.1 307.3L250.1 305.2L251.1 302.8L252.1 300.4L253.1 297.9L254.1 295.6L255.1 293.4L256.1 291.6L257.1 289.9L258.1 288.3L259.1 286.7L260.1 285.4L261.1 284.3L262.1 283.6L263.1 283.3L264.1 283.1L265.1 282.9L266.1 282.8L267.1 282.7L268.1 282.8L269.1 283.1L270.1 283.6L271.1 284.1L272.1 284.3L273.1 284.1L274.1 283.5L275.1 282.5L276.1 281.3L277.1 280.1L278.1 279L279.1 278.2L280.1 277.2L281.1 276.2L282.1 275.3L283.1 274.6L284.1 274.4L285.1 274.6L286.1 275.2L287.1 276.1L288.1 277.1L289.1 278.3L290.1 279.6L291.1 281.5L292.1 283.8L293.1 286.2L294.1 288.5L295.1 290.6L296.1 292.8L297.1 295.1L298.1 297.3L299.1 299.3L300.1 301.1L301.1 302.5L302.1 303.6L303.1 304.7L304.1 305.7L305.1 306.3L306.1 306.5L307.1 306.1L308.1 305.1L309.1 303.8L310.1 302.2L311.1 300.4L312.1 297.8L313.1 294.4L314.1 290.5L315.1 286.7L316.1 283.3L317.1 279.7L318.1 276L319.1 272.6L320.1 269.7L321.1 267.2L322.1 265L323.1 263.1L324.1 261.4L325.1 260.2L326.1 259.2L327.1 258.3L328.1 257.9L329.1 258.1L330.1 258.7L331.1 259.5L332.1 260.4L333.1 261.4L334.1 262.5L335.1 263.8L336.1 265L337.1 266L338.1 266.8L339.1 267.3L340.1 267.7L341.1 268L342.1 268.3L343.1 268.6L344.1 269L345.1 269.5L346.1 270.1L347.1 271L348.1 272.1L349.1 274.9L350.1 278.9L351.1 282.9L352.1 286.4L353.1 289.9L354.1 293.3L355.1 296.9L356.1 300.4L357.1 303.7L358.1 306.7L359.1 309.5L360.1 312.2L361.1 314.6L362.1 316.6L363.1 318.6L364.1 320.4L365.1 321.9L366.1 323L367.1 323.9L368.1 324.6L369.1 325.3L370.1 325.7L371.1 325.9L372.1 326.1L373.1 326.2L374.1 326.3L375.1 326.5L376.1 326.6L377.1 326.6L378.1 326.7L379.1 326.8L380.1 326.8L381.1 326.8L381.4 326.8" stroke="#000" stroke-width="1.8" stroke-linejoin="round" stroke-linecap="butt" fill="none"/></g>
<g transform="translate(0 .25)"><path d="M248.8 377L249.8 377L250.8 376.9L251.8 376.8L252.8 376.6L253.8 376.4L254.8 376.2L255.8 376L256.8 375.7L257.8 375.4L258.8 375L259.8 374.4L260.8 373.6L261.8 372.7L262.8 371.6L263.8 370.4L264.8 369L265.8 367.1L266.8 364.8L267.8 362.1L268.8 359.3L269.8 356.1L270.8 352.3L271.8 348.1L272.8 343.8L273.8 339.8L274.8 335.9L275.8 331.9L276.8 328.1L277.8 324.5L278.8 321.4L279.8 318.7L280.8 316.2L281.8 313.9L282.8 311.8L283.8 310L284.8 308.2L285.8 306.7L286.8 305.2L287.8 303.8L288.8 302.4L289.8 301L290.8 299.6L291.8 298.2L292.8 296.8L293.8 295.4L294.8 294.2L295.8 293.2L296.8 292.4L297.8 291.6L298.8 291L299.8 290.6L300.8 290.7L301.8 291.4L302.8 292.4L303.8 293.7L304.8 295.1L305.8 297.1L306.8 299.6L307.8 302.3L308.8 304.8L309.8 307L310.8 309.2L311.8 311.3L312.8 313.4L313.8 315.4L314.8 317.2L315.8 318.8L316.8 320.3L317.8 321.6L318.8 322.9L319.8 324.1L320.8 325.2L321.8 326.3L322.8 327.4L323.8 328.4L324.8 329.3L325.8 330.2L326.8 331L327.8 331.8L328.8 332.6L329.8 333.5L330.8 334.3L331.8 335.3L332.8 336.3L333.8 337.4L334.8 338.6L335.8 339.7L336.8 341L337.8 342.2L338.8 343.5L339.8 344.9L340.8 346.4L341.8 347.8L342.8 349.3L343.8 350.7L344.8 352L345.8 353.3L346.8 354.5L347.8 355.8L348.8 357L349.8 358.1L350.8 359.2L351.8 360.2L352.8 361.1L353.8 361.9L354.8 362.7L355.8 363.4L356.8 364.1L357.8 364.8L358.8 365.4L359.8 366L360.8 366.6L361.8 367.1L362.8 367.6L363.8 368.1L364.8 368.6L365.8 369.1L366.8 369.5L367.8 369.9L368.8 370.4L369.8 370.8L370.8 371.1L371.8 371.5L372.8 371.9L373.8 372.2L374.8 372.5L375.8 372.9L376.8 373.2L377.8 373.5L378.8 373.8L379.8 374.1L380.8 374.4L381.8 374.6L382.8 374.9L383.8 375.1L384.8 375.3L385.8 375.5L386.8 375.7L387.8 375.9L388.8 376L389.8 376.2L390.8 376.3L391.8 376.4L392.8 376.5L393.8 376.6L394.8 376.7L395.8 376.8L396.8 376.9L397.8 377L398.8 377L399.1 377L399.1 377L248.8 377Z" fill="url(#g)"/>
<path d="M346.5 358.4h0M301.6 330.6h0M286.9 308.2h0M298.6 311.2h0M314.1 376.2h0M302.8 344.5h0M314.6 366.3h0M302.9 317.3h0M330.9 356h0M331.2 366.6h0M306.9 318.5h0M327.7 364h0M341 359.2h0M299.6 350h0M287.9 308.7h0M312.2 348.5h0M356.6 368.6h0M289 353.3h0M300.9 341.7h0M277.9 374.8h0M295.3 332.4h0M280.5 363h0M293.7 368.5h0M327 362.6h0M305.5 306.4h0M332.2 345.3h0M308.9 367.3h0M288.5 354.8h0M306.3 375.4h0M316.2 367.1h0M285.5 370.4h0M270.7 370.9h0M308.7 314h0M302.2 332.9h0M298.9 351h0M273 349.9h0M292.2 362.9h0M341.9 354.8h0M294 342.7h0M268.8 373.4h0M296.5 361.2h0M301 302.1h0M307.6 312.6h0M315.8 370.1h0M338.8 367.9h0" stroke="#000" stroke-opacity="0.88" stroke-width="1.95" stroke-linecap="round" fill="none"/>
<path d="M309.4 366.3h0M277.5 366.4h0M280.2 336.5h0M306.2 345.9h0M316.9 354.2h0M305.1 314.2h0M303 346.8h0M292.3 354.7h0M305 330.4h0M306.8 372.8h0M316.1 334.8h0M294.5 303.3h0M285.3 353.1h0M290.5 335.3h0M318.1 358.8h0M316.5 344.5h0M285.3 355.4h0M280.4 358.3h0M321.1 355.1h0M307.7 360.1h0M294.5 298.5h0M286.3 349.1h0M286.4 358.4h0M308.9 331.1h0M298.2 332.2h0M285.9 335.4h0M304.7 311.7h0M299.1 352.4h0M312.9 334.5h0M297.6 350.8h0M294.3 361h0M359.3 369.9h0M283.6 313.2h0M292.7 310.1h0M347.8 373.2h0M273.5 355.9h0M303.2 366.1h0M329.9 343h0M319 338.7h0M278.2 338.1h0M332.5 372.5h0M314.7 353.3h0M294.1 325.4h0M292.8 310.7h0M311.6 347.6h0" stroke="#000" stroke-opacity="0.88" stroke-width="1.95" stroke-linecap="round" fill="none"/>
<path d="M295.6 366.4h0M309.9 348.7h0M321.2 369.7h0M317.5 329.5h0M290.4 372.8h0M277.8 343.6h0M277.2 338h0M313.3 354.6h0M300.6 302.3h0M293.7 301.7h0M298.1 342h0M317.5 375.8h0M321.9 363.9h0M334.8 359.2h0M278.3 357.5h0M333.7 340.6h0M316.4 346.2h0M317.3 353.5h0M331.3 354.5h0M298.4 307.6h0M279.4 368.2h0M287.9 313.9h0M290.2 308.1h0M302.8 300.5h0M313.1 369.6h0M318 362.7h0M269.7 364.3h0M338.3 351.6h0M308.4 327.7h0M316.5 346.6h0M280.7 372.4h0M319.8 340.7h0M296.6 299.1h0M292.3 351.5h0M347.4 357.4h0M306.1 333.6h0M310.1 348.7h0M297.1 343.6h0M305.3 316.1h0M325.6 337.7h0M299.3 359.8h0M319.1 337.4h0M343.4 363.7h0M289.7 307.2h0M293.6 302.8h0" stroke="#000" stroke-opacity="0.88" stroke-width="1.95" stroke-linecap="round" fill="none"/>
<path d="M248.8 377L249.8 377L250.8 376.9L251.8 376.8L252.8 376.6L253.8 376.4L254.8 376.2L255.8 376L256.8 375.7L257.8 375.4L258.8 375L259.8 374.4L260.8 373.6L261.8 372.7L262.8 371.6L263.8 370.4L264.8 369L265.8 367.1L266.8 364.8L267.8 362.1L268.8 359.3L269.8 356.1L270.8 352.3L271.8 348.1L272.8 343.8L273.8 339.8L274.8 335.9L275.8 331.9L276.8 328.1L277.8 324.5L278.8 321.4L279.8 318.7L280.8 316.2L281.8 313.9L282.8 311.8L283.8 310L284.8 308.2L285.8 306.7L286.8 305.2L287.8 303.8L288.8 302.4L289.8 301L290.8 299.6L291.8 298.2L292.8 296.8L293.8 295.4L294.8 294.2L295.8 293.2L296.8 292.4L297.8 291.6L298.8 291L299.8 290.6L300.8 290.7L301.8 291.4L302.8 292.4L303.8 293.7L304.8 295.1L305.8 297.1L306.8 299.6L307.8 302.3L308.8 304.8L309.8 307L310.8 309.2L311.8 311.3L312.8 313.4L313.8 315.4L314.8 317.2L315.8 318.8L316.8 320.3L317.8 321.6L318.8 322.9L319.8 324.1L320.8 325.2L321.8 326.3L322.8 327.4L323.8 328.4L324.8 329.3L325.8 330.2L326.8 331L327.8 331.8L328.8 332.6L329.8 333.5L330.8 334.3L331.8 335.3L332.8 336.3L333.8 337.4L334.8 338.6L335.8 339.7L336.8 341L337.8 342.2L338.8 343.5L339.8 344.9L340.8 346.4L341.8 347.8L342.8 349.3L343.8 350.7L344.8 352L345.8 353.3L346.8 354.5L347.8 355.8L348.8 357L349.8 358.1L350.8 359.2L351.8 360.2L352.8 361.1L353.8 361.9L354.8 362.7L355.8 363.4L356.8 364.1L357.8 364.8L358.8 365.4L359.8 366L360.8 366.6L361.8 367.1L362.8 367.6L363.8 368.1L364.8 368.6L365.8 369.1L366.8 369.5L367.8 369.9L368.8 370.4L369.8 370.8L370.8 371.1L371.8 371.5L372.8 371.9L373.8 372.2L374.8 372.5L375.8 372.9L376.8 373.2L377.8 373.5L378.8 373.8L379.8 374.1L380.8 374.4L381.8 374.6L382.8 374.9L383.8 375.1L384.8 375.3L385.8 375.5L386.8 375.7L387.8 375.9L388.8 376L389.8 376.2L390.8 376.3L391.8 376.4L392.8 376.5L393.8 376.6L394.8 376.7L395.8 376.8L396.8 376.9L397.8 377L398.8 377L399.1 377" stroke="#000" stroke-width="1.8" stroke-linejoin="round" stroke-linecap="butt" fill="none"/></g>
<g transform="translate(0 .25)"><path d="M212.8 427.6L213.8 427.6L214.8 427.6L215.8 427.5L216.8 427.5L217.8 427.5L218.8 427.4L219.8 427.4L220.8 427.3L221.8 427.2L222.8 427.2L223.8 427.1L224.8 427L225.8 426.9L226.8 426.9L227.8 426.8L228.8 426.7L229.8 426.6L230.8 426.5L231.8 426.4L232.8 426.3L233.8 426.2L234.8 426.1L235.8 426L236.8 425.9L237.8 425.7L238.8 425.6L239.8 425.4L240.8 425.3L241.8 425.1L242.8 424.9L243.8 424.7L244.8 424.6L245.8 424.4L246.8 424.2L247.8 424L248.8 423.7L249.8 423.5L250.8 423.3L251.8 423.1L252.8 422.8L253.8 422.6L254.8 422.3L255.8 421.9L256.8 421.6L257.8 421.1L258.8 420.7L259.8 420.1L260.8 419.3L261.8 418.2L262.8 416.9L263.8 415.4L264.8 413.7L265.8 412L266.8 410L267.8 407.6L268.8 405L269.8 402.2L270.8 399.5L271.8 396.9L272.8 394.3L273.8 391.7L274.8 389.2L275.8 386.7L276.8 384.5L277.8 382.3L278.8 380.1L279.8 378.2L280.8 376.8L281.8 375.9L282.8 375.2L283.8 374.5L284.8 374L285.8 373.6L286.8 373.3L287.8 373.2L288.8 373L289.8 372.9L290.8 372.7L291.8 372.6L292.8 372.5L293.8 372.4L294.8 372.4L295.8 372.3L296.8 372.2L297.8 372.1L298.8 372.1L299.8 372L300.8 371.9L301.8 371.8L302.8 371.8L303.8 371.7L304.8 371.6L305.8 371.6L306.8 371.6L307.8 371.5L308.8 371.5L309.8 371.5L310.8 371.5L311.8 371.6L312.8 371.8L313.8 371.9L314.8 372.1L315.8 372.3L316.8 372.5L317.8 372.8L318.8 373L319.8 373.2L320.8 373.5L321.8 373.8L322.8 374.1L323.8 374.4L324.8 374.7L325.8 374.9L326.8 375L327.8 375L328.8 374.9L329.8 374.7L330.8 374.6L331.8 374.3L332.8 374.2L333.8 374L334.8 373.9L335.8 373.9L336.8 373.9L337.8 373.9L338.8 373.9L339.8 373.9L340.8 374L341.8 374L342.8 374.2L343.8 374.6L344.8 375.4L345.8 376.4L346.8 377.4L347.8 378.8L348.8 380.9L349.8 383.3L350.8 385.8L351.8 388.2L352.8 390.7L353.8 393.4L354.8 396.1L355.8 398.7L356.8 401.3L357.8 403.9L358.8 406.5L359.8 408.9L360.8 411L361.8 412.8L362.8 414.4L363.8 415.9L364.8 417.3L365.8 418.5L366.8 419.6L367.8 420.6L368.8 421.5L369.8 422.4L370.8 423.1L371.8 423.8L372.8 424.3L373.8 424.7L374.8 425.1L375.8 425.5L376.8 425.8L377.8 426.1L378.8 426.3L379.8 426.5L380.8 426.6L381.8 426.7L382.8 426.8L383.8 426.9L384.8 427L385.8 427.1L386.8 427.1L387.8 427.2L388.8 427.2L389.8 427.3L390.8 427.3L391.8 427.3L392.8 427.4L393.8 427.4L394.8 427.4L395.8 427.5L396.8 427.5L397.8 427.5L398.8 427.5L399.8 427.6L400.8 427.6L401.8 427.6L402.8 427.6L403.8 427.6L404.8 427.6L404.9 427.6L404.9 427.6L212.8 427.6Z" fill="url(#g)"/>
<path d="M322 381.2h0M361.1 413.5h0M303.7 402.7h0M282.6 412h0M276.9 406.4h0M352.9 410.6h0M325.5 426.7h0M242.6 426.7h0M346.7 392.5h0M309.6 395.2h0M296.1 421.4h0M360.3 420.9h0M375.6 426.5h0M297.5 384.9h0M355.9 424.8h0M320.6 401.8h0M332.6 386.1h0M356.9 403.5h0M312.9 400.1h0M268.2 425.7h0M296.6 406.9h0M330.4 378.1h0M303.7 411.6h0M314.1 414.7h0M320.1 421.4h0M313.2 421.2h0M331 423.3h0M340.4 419h0M344.6 387.9h0M299.3 410.3h0M349.7 409.5h0M268.2 407.8h0M324.5 393.1h0M300 404.1h0M342.8 408.7h0M352.4 398.1h0M347.9 386.8h0M342 423.9h0M354.9 416h0M300.3 390.4h0M295.8 376.1h0M298.5 412.3h0M293.5 387.9h0M312.9 377.7h0M351.2 399.3h0M324.7 397.6h0M299 399.3h0M329.1 400.9h0M304.5 376.3h0M294.2 395.3h0M302.8 378.3h0M282.2 395.3h0M337.3 409.6h0M336.4 408.7h0M280.9 403.2h0M292.7 400.2h0M302.1 386.8h0M354.9 424.7h0M317.4 424.6h0M315 406.1h0M308.3 403.2h0M317.7 399.3h0M266.5 416h0M326.9 409.3h0M293.3 420.8h0M336.4 413h0M371.7 425.6h0M281.6 425.9h0M298.3 376.5h0M347.1 407.2h0M330.7 417.4h0M275.2 396.5h0M305.3 426h0M313.5 389h0M330.8 396.9h0M289.8 412.9h0M324.5 380h0M321.9 385.3h0M335.6 411.5h0M359.5 418h0M298.2 405.3h0M305.5 381.9h0M332.5 417h0M361 412.5h0M284.5 391.7h0M333.5 395.6h0M328.5 419.2h0M347.2 418.6h0M268.9 417.4h0M301.1 378h0M278.3 387.5h0M312.9 409.4h0M318.8 415.9h0M330.1 411.4h0M296.1 403.5h0M350.6 401.8h0M278.6 397.4h0M335.7 393.2h0M322.6 395.5h0M300.5 378.6h0M295.9 403.5h0M253.7 427h0M297.6 424.7h0M304.4 398.2h0M287 405.7h0M295.6 418.1h0M336.3 393.7h0M349.7 421.1h0M275.8 393.5h0M308.1 394h0M314.8 374.5h0M275.3 411.1h0M338.8 413.4h0M342 411.4h0M306.3 412.6h0M332.5 406.2h0M271 409.4h0M352.4 402.7h0M312.9 398.9h0M302.6 382.6h0M279.6 381.2h0M295.4 385.6h0M313 400.5h0M296.4 416.8h0M295.3 399.5h0M320.2 415h0M297.8 422h0M326.5 378.2h0M273.1 404.4h0M328.2 414.7h0M271.7 406.3h0M287.9 378.7h0M321.9 402h0M350.1 415h0M341.2 415.8h0M234.8 426.8h0M285.9 380.4h0M303.6 384.8h0M316.1 388.1h0M334.3 417.6h0M358.1 414.9h0M331.3 381.6h0M302.8 375.7h0M289.5 394.3h0M343.8 377.4h0M296.8 382.6h0M275.1 399.9h0M305.2 413.9h0M292 417.5h0M308.2 424.6h0M322.7 420.6h0M289.4 408.2h0M283.2 426h0M295.9 386h0M312.5 387.4h0M325.8 383.1h0M349.2 412.5h0M277.1 419.2h0M332 415.4h0M311.4 424.6h0M313 401.2h0M307.7 381.2h0M324.5 406.5h0M286.8 393.9h0M310.9 400.3h0M347.8 427h0M279.8 410.6h0M278.3 422.3h0M286.2 387.8h0M347.4 420.1h0M269.2 413.7h0M269.1 416.1h0M322 385.3h0M315.9 420.8h0M308.6 407.1h0M313.1 414.7h0M349.6 397.3h0M287.4 376.6h0M271.9 415.6h0M334.9 418.7h0M303.1 401.2h0M328.6 419.3h0M321.2 388.5h0M332 406h0M320.8 422.3h0M318.9 407.5h0M302.8 411h0M308.9 384.4h0M341.8 400.7h0M309.8 381.1h0M229.8 427h0M340.3 394.8h0M342.3 388.3h0M276.4 394.1h0M308.7 391.3h0M313.2 395.1h0M291.1 377.6h0M348.3 416.5h0M303.1 416.7h0M301.8 421.8h0M365.7 419.7h0M316.8 388.5h0M288.9 405.3h0M295.5 398.6h0M297.6 405.5h0M292.2 396h0M338.3 405.8h0M308.5 374h0M313.9 396.2h0M274 415.3h0M289.1 410.9h0M342.4 392.2h0M293.2 422h0M322.9 388.5h0M341.3 402.5h0M361.5 424.4h0M291.3 416h0" stroke="#000" stroke-opacity="0.88" stroke-width="1.95" stroke-linecap="round" fill="none"/>
<path d="M337.7 381.9h0M327.4 393.6h0M302.6 376.7h0M291.3 404.8h0M298.5 376.5h0M278.8 384.6h0M269.4 408.7h0M300.8 426.1h0M319.4 387.7h0M328 399.1h0M337.3 419.5h0M291.3 390.1h0M323.4 401.5h0M331.7 400h0M333 401.8h0M334.1 382.9h0M313 426.1h0M330 390.2h0M337.6 390.1h0M299.8 396.6h0M333.6 418.6h0M277.4 388.7h0M316.4 422.6h0M304.1 415.2h0M297.3 420.5h0M263.7 422.7h0M296.9 415h0M333.7 382.2h0M295.6 421.8h0M322.3 388.6h0M321.7 403.1h0M288.7 387h0M316 410.9h0M318.8 405h0M289.4 415.5h0M318 403.3h0M296.4 417.6h0M284.1 413.3h0M278.2 425.4h0M330.9 381.5h0M308.8 387.6h0M336.3 376.9h0M305.8 398.4h0M287.4 413.7h0M308.8 382h0M353.1 399.5h0M313.3 388.2h0M231.6 427h0M298.7 394.1h0M323 411.4h0M314.2 407.4h0M279.7 416.6h0M268.4 414.6h0M301.2 416.3h0M353.3 399.7h0M355.7 403.3h0M318.2 392.5h0M288.2 424.4h0M344 418h0M285.3 408.3h0M276 396.3h0M342.5 388.1h0M288 416h0M347.3 397.5h0M322.5 424.2h0M342.1 398h0M353.4 395.5h0M282.2 393.7h0M279.2 420.3h0M324.4 377.1h0M320.9 414.8h0M322 397.3h0M303.6 413.7h0M328.8 423.8h0M316.7 413.7h0M318.4 423.7h0M292.5 389.3h0M338.9 409.5h0M317.8 403.1h0M324.1 412h0M340.2 421.1h0M346.1 419.2h0M292.7 382.5h0M327.8 404.6h0M343.9 415.4h0M329.6 413.8h0M339.2 386.1h0M289.6 425h0M325.5 414.4h0M347.1 403.2h0M311.6 421.2h0M329.7 406.3h0M283.8 385.6h0M308.1 406.7h0M348.1 390.5h0M338.2 404.4h0M290 397.1h0M278.9 398.7h0M302.1 395.4h0M348.9 397.5h0M306.6 411.5h0M340.2 393.7h0M281.9 397.4h0M322.7 426.5h0M305.9 421.8h0M330 398h0M340.3 426.6h0M291.6 388.4h0M284.5 386h0M344.2 381.3h0M362.9 417.5h0M323.9 402.4h0M298.8 422.1h0M261 424.4h0M337.4 414.8h0M320.1 403.1h0M320.6 410.3h0M293 397.1h0M341.1 379.1h0M294.2 420.8h0M331.6 411.4h0M328.2 416.3h0M306.5 387.7h0M322.7 425h0M341.3 393.7h0M309.8 402.3h0M274.5 397.3h0M357.6 406.8h0M313.4 391.6h0M305.2 398.4h0M302.9 426.7h0M337.6 414.1h0M260.7 420.6h0M350.1 419.6h0M332.4 385.7h0M342.1 383.5h0M311.3 401.5h0M315.1 419.8h0M272.4 421.6h0M293.4 385.3h0M280.8 399.7h0M332.7 415.5h0M321.8 417h0M333.1 417.8h0M323.6 389.6h0M269 413h0M304.4 397.6h0M310.4 380.8h0M281.4 388.6h0M274.6 409.9h0M341.7 379.5h0M354.7 419h0M312.1 396h0M284.7 407.7h0M330.5 418.1h0M300 423.1h0M313.5 407.7h0M343.4 417.5h0M339.8 403.2h0M342.2 410.1h0M322.7 391.8h0M275.8 398.4h0M315.6 393.3h0M327.2 379.4h0M343.3 423.2h0M371.9 427h0M287.9 409.9h0M289.9 417.2h0M344.1 392.4h0M287.4 385.7h0M319.8 409.5h0M364.7 419.6h0M328.6 394.2h0M312.6 402.6h0M366.9 426.3h0M298 378.1h0M283.1 384.4h0M338.6 404.1h0M341 426.2h0M286.7 403.1h0M313.3 399.5h0M274.9 412.7h0M273 400.8h0M288.3 410.3h0M319.1 386.1h0M318.6 414.3h0M356.4 415.2h0M273.7 416.7h0M328.2 425.8h0M339.1 389h0M308.6 375.2h0M332.9 385.4h0M342 410.2h0M305 422.1h0M363.2 417.3h0M342.9 422.7h0M325.7 403.5h0M332.5 419.8h0M343.9 379.1h0M324 385.9h0M296.2 383.5h0M315.1 405h0M279.8 407.2h0M274.7 394.6h0M343.4 417.1h0M267 426.6h0M327.4 415.4h0M314.2 386.9h0M345.5 396h0M323.6 402.5h0M352.5 400.4h0M340.7 424.2h0M332.6 410.6h0M308.1 376.9h0M288.9 414.9h0M285.6 413.3h0M319.2 388.9h0" stroke="#000" stroke-opacity="0.88" stroke-width="1.95" stroke-linecap="round" fill="none"/>
<path d="M299.1 411.4h0M326.6 385.9h0M276.5 406.3h0M300.1 407.8h0M297.3 418.5h0M283.8 379.6h0M274.5 422.9h0M337.4 413.8h0M303.8 390.9h0M318.8 424.9h0M282.8 378.8h0M303.7 380h0M337.1 410.4h0M311.9 421.9h0M278.8 397.8h0M304.1 385.6h0M286.1 378.7h0M332 381.8h0M300.2 400.9h0M331.9 387.5h0M306.1 380.4h0M354.5 402.4h0M282.4 410h0M320.5 381.1h0M270.6 418h0M331.1 377.9h0M315.6 379.1h0M298.4 405.8h0M302.7 389h0M310.8 426.1h0M351 412.2h0M322.8 413.5h0M273.6 398.2h0M325.7 422.9h0M344.9 390.9h0M292.2 384.6h0M296.5 388.1h0M299.4 420.6h0M302.5 412.6h0M332.5 409h0M287.3 382.5h0M299 421.9h0M329.1 405.8h0M283.4 384.6h0M275.2 390.3h0M341.4 390.9h0M291.2 396.7h0M335.3 386.2h0M303 415.3h0M340.4 376.8h0M297.5 411h0M332.2 388.9h0M340.4 398.4h0M345.4 396.5h0M236.4 426.5h0M321.1 411.1h0M315 412h0M351.4 420.9h0M280.7 396.6h0M264.7 415.5h0M263.6 418.7h0M292 408.8h0M331.8 390.8h0M348.4 384.6h0M288.6 410.4h0M317.6 409.6h0M290 417.4h0M288.5 403h0M285.1 391.9h0M316 424.2h0M331 390.8h0M280.2 414.7h0M298.7 376.6h0M269.6 405h0M283.4 389.4h0M331.5 390.9h0M300.1 424.4h0M342.1 381.3h0M319.5 378.6h0M325.9 415.6h0M295.8 392.1h0M291.9 405.7h0M273.6 417.8h0M290 416.4h0M298 381.7h0M326.9 386.5h0M335.8 413.5h0M281.3 379.5h0M347.8 414.7h0M337.8 384.7h0M309.8 400.8h0M302.2 390.6h0M353.8 401.7h0M320.1 407.9h0M351.7 410.6h0M335.3 426.8h0M296.1 413.6h0M284.4 394.1h0M350 387.5h0M313.7 381.3h0M300.6 390.4h0M346.7 386.6h0M344.4 403.8h0M361.4 420.1h0M321.7 426.1h0M310.3 400h0M308.6 409.4h0M345.9 425.1h0M308 424.8h0M326.7 417.3h0M346.7 380.1h0M299.3 385.1h0M350.5 422.3h0M317.8 391.1h0M321 413.6h0M357.3 415.7h0M338.2 376.3h0M292.5 383.2h0M303.8 402.5h0M290.5 377.6h0M278.7 405.2h0M362.9 417.1h0M345.4 416.5h0M346.8 396.1h0M269.5 422.3h0M293.1 409.4h0M315.2 377.6h0M322.9 412.1h0M347.1 399h0M282.6 425.4h0M338.3 394.3h0M342.2 414.1h0M294.9 420.4h0M332.4 423.2h0M308.9 405.4h0M278.5 409.5h0M352.1 422.3h0M346.4 380.8h0M317.7 410.2h0M288.6 408.7h0M285.4 389.5h0M339.5 389.9h0M288.8 394.8h0M354.7 398.9h0M312.7 391.9h0M322.5 397.4h0M263.2 426h0M293.4 418.7h0M298.3 388.7h0M290.7 388.8h0M346.4 420.7h0M336.6 399.9h0M296.5 388.3h0M355.1 399.3h0M281.8 416.4h0M294.9 406.6h0M332.2 422.4h0M281.9 398.5h0M321.4 411.5h0M310.8 390.1h0M343.6 419.9h0M336.4 422.9h0M328.5 381.7h0M277.8 419h0M340.2 401.5h0M318.2 419.6h0M320.5 375.6h0M253.7 423.7h0M298.4 426h0M359 425.7h0M315.7 407.2h0M317.6 374.8h0M344.6 385h0M304 374.7h0M283.9 393.8h0M341.4 413.4h0M271.7 424.8h0M336 399.4h0M270.4 403.7h0M321 407.3h0M325.9 377.2h0M329.5 383.6h0M299.9 402.2h0M288.1 409.4h0M337.4 411.2h0M322.1 391h0M286 412.2h0M350.7 404.3h0M298.5 375.9h0M318 418.2h0M348.8 388.6h0M285.8 413.5h0M329.6 409.2h0M315.5 425.1h0M345.3 398.5h0M290.5 399.6h0M289.5 398h0M279.7 385h0M323.8 381.7h0M281.3 425.5h0M310.7 426.8h0M345.8 418.9h0M283.7 381.3h0M253.9 424.7h0M286.5 388.5h0M353.6 419.7h0M288.1 426.4h0M282.9 392.5h0M314.6 417h0M351.8 394.7h0M307.9 423h0M294 403.6h0M343.4 381.4h0M299.1 388.1h0M292.3 383.4h0M283.9 397.6h0" stroke="#000" stroke-opacity="0.88" stroke-width="1.95" stroke-linecap="round" fill="none"/>
<path d="M212.8 427.6L213.8 427.6L214.8 427.6L215.8 427.5L216.8 427.5L217.8 427.5L218.8 427.4L219.8 427.4L220.8 427.3L221.8 427.2L222.8 427.2L223.8 427.1L224.8 427L225.8 426.9L226.8 426.9L227.8 426.8L228.8 426.7L229.8 426.6L230.8 426.5L231.8 426.4L232.8 426.3L233.8 426.2L234.8 426.1L235.8 426L236.8 425.9L237.8 425.7L238.8 425.6L239.8 425.4L240.8 425.3L241.8 425.1L242.8 424.9L243.8 424.7L244.8 424.6L245.8 424.4L246.8 424.2L247.8 424L248.8 423.7L249.8 423.5L250.8 423.3L251.8 423.1L252.8 422.8L253.8 422.6L254.8 422.3L255.8 421.9L256.8 421.6L257.8 421.1L258.8 420.7L259.8 420.1L260.8 419.3L261.8 418.2L262.8 416.9L263.8 415.4L264.8 413.7L265.8 412L266.8 410L267.8 407.6L268.8 405L269.8 402.2L270.8 399.5L271.8 396.9L272.8 394.3L273.8 391.7L274.8 389.2L275.8 386.7L276.8 384.5L277.8 382.3L278.8 380.1L279.8 378.2L280.8 376.8L281.8 375.9L282.8 375.2L283.8 374.5L284.8 374L285.8 373.6L286.8 373.3L287.8 373.2L288.8 373L289.8 372.9L290.8 372.7L291.8 372.6L292.8 372.5L293.8 372.4L294.8 372.4L295.8 372.3L296.8 372.2L297.8 372.1L298.8 372.1L299.8 372L300.8 371.9L301.8 371.8L302.8 371.8L303.8 371.7L304.8 371.6L305.8 371.6L306.8 371.6L307.8 371.5L308.8 371.5L309.8 371.5L310.8 371.5L311.8 371.6L312.8 371.8L313.8 371.9L314.8 372.1L315.8 372.3L316.8 372.5L317.8 372.8L318.8 373L319.8 373.2L320.8 373.5L321.8 373.8L322.8 374.1L323.8 374.4L324.8 374.7L325.8 374.9L326.8 375L327.8 375L328.8 374.9L329.8 374.7L330.8 374.6L331.8 374.3L332.8 374.2L333.8 374L334.8 373.9L335.8 373.9L336.8 373.9L337.8 373.9L338.8 373.9L339.8 373.9L340.8 374L341.8 374L342.8 374.2L343.8 374.6L344.8 375.4L345.8 376.4L346.8 377.4L347.8 378.8L348.8 380.9L349.8 383.3L350.8 385.8L351.8 388.2L352.8 390.7L353.8 393.4L354.8 396.1L355.8 398.7L356.8 401.3L357.8 403.9L358.8 406.5L359.8 408.9L360.8 411L361.8 412.8L362.8 414.4L363.8 415.9L364.8 417.3L365.8 418.5L366.8 419.6L367.8 420.6L368.8 421.5L369.8 422.4L370.8 423.1L371.8 423.8L372.8 424.3L373.8 424.7L374.8 425.1L375.8 425.5L376.8 425.8L377.8 426.1L378.8 426.3L379.8 426.5L380.8 426.6L381.8 426.7L382.8 426.8L383.8 426.9L384.8 427L385.8 427.1L386.8 427.1L387.8 427.2L388.8 427.2L389.8 427.3L390.8 427.3L391.8 427.3L392.8 427.4L393.8 427.4L394.8 427.4L395.8 427.5L396.8 427.5L397.8 427.5L398.8 427.5L399.8 427.6L400.8 427.6L401.8 427.6L402.8 427.6L403.8 427.6L404.8 427.6L404.9 427.6" stroke="#000" stroke-width="1.8" stroke-linejoin="round" stroke-linecap="butt" fill="none"/></g>
<text x="159.6" y="75.5" font-size="21" text-anchor="end">upper other</text>
<text x="159.6" y="126" font-size="21" text-anchor="end">upper LTmax</text>
<text x="159.6" y="176" font-size="21" text-anchor="end">upper LT50</text>
<text x="159.6" y="226" font-size="21" text-anchor="end">upper CTmax</text>
<text x="159.6" y="276.5" font-size="21" text-anchor="end">lower other</text>
<text x="159.6" y="326.8" font-size="21" text-anchor="end">lower LTmin</text>
<text x="159.6" y="377" font-size="21" text-anchor="end">lower LT50</text>
<text x="159.6" y="427.6" font-size="21" text-anchor="end">lower CTmin</text>
<text transform="translate(181 453.6) scale(1 1.045)" font-size="21" text-anchor="middle">-20</text>
<text transform="translate(278.8 453.6) scale(1 1.045)" font-size="21" text-anchor="middle">0</text>
<text transform="translate(376.5 453.6) scale(1 1.045)" font-size="21" text-anchor="middle">20</text>
<text transform="translate(474.2 453.6) scale(1 1.045)" font-size="21" text-anchor="middle">40</text>
<text transform="translate(572 453.6) scale(1 1.045)" font-size="21" text-anchor="middle">60</text>
<text x="380.8" y="488.8" font-size="24.8" text-anchor="middle">Temperature (°C)</text>
<text transform="translate(18.5 214) rotate(-90)" font-size="24.4" text-anchor="middle">Thermal tolerance metric</text>
<text x="625.7" y="158.9" font-size="24.5">°C</text>
<rect x="625.3" y="173.3" width="24" height="117.7" fill="url(#cb)"/>
<text transform="translate(661.5 270.6) scale(1 1.045)" font-size="21">0</text>
<text transform="translate(661.5 240.6) scale(1 1.045)" font-size="21">20</text>
<text transform="translate(661.5 210.6) scale(1 1.045)" font-size="21">40</text>
<path d="M625.3 263.4h4.8M649.3 263.4h-4.8M625.3 233.4h4.8M649.3 233.4h-4.8M625.3 203.4h4.8M649.3 203.4h-4.8" stroke="#fff" stroke-opacity=".8" stroke-width=".9" fill="none"/>
</svg></body></html>
